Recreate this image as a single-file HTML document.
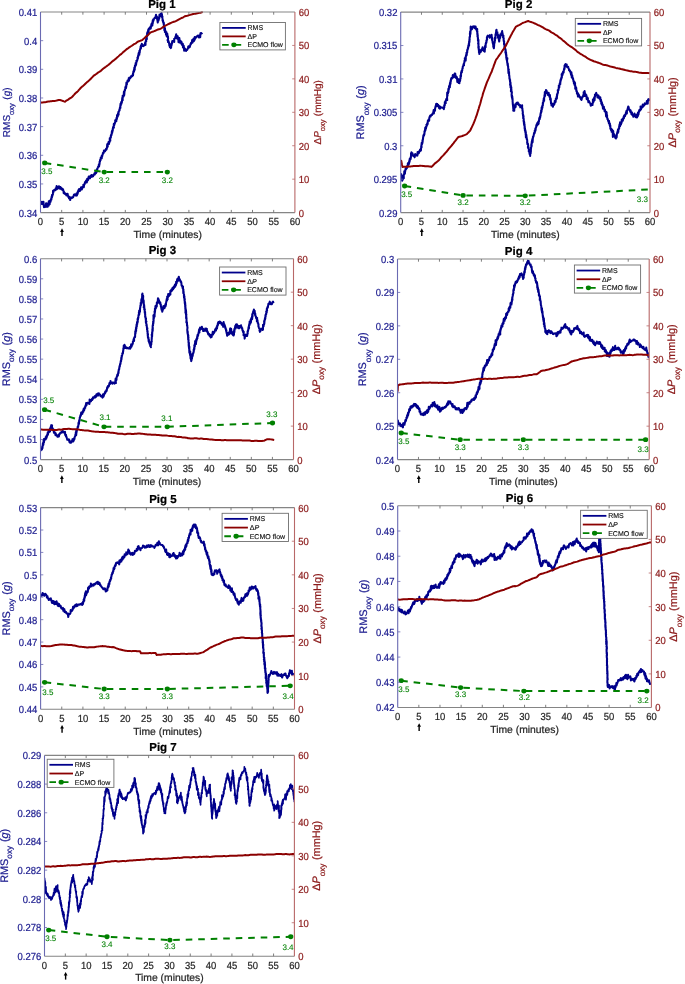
<!DOCTYPE html>
<html><head><meta charset="utf-8"><style>html,body{margin:0;padding:0;background:#fff;width:685px;height:984px;overflow:hidden}svg{display:block;font-family:"Liberation Sans",sans-serif;will-change:transform;text-rendering:geometricPrecision}</style></head><body>
<svg width="685" height="984" viewBox="0 0 685 984" font-family="'Liberation Sans', sans-serif">
<rect width="685" height="984" fill="#fff"/>
<clipPath id="c1"><rect x="40.50" y="11.00" width="254.40" height="202.60"/></clipPath>
<g clip-path="url(#c1)">
<path d="M40.54,202.40 L40.95,203.68 L41.41,203.81 L41.89,201.82 L42.06,204.07 L42.71,203.68 L42.97,203.05 L43.16,204.32 L43.47,201.81 L43.95,207.23 L44.09,205.97 L44.27,205.57 L44.78,207.04 L45.13,206.60 L45.32,206.65 L45.60,206.21 L46.12,203.23 L46.35,206.74 L46.93,206.74 L47.24,203.46 L47.57,206.78 L48.08,205.40 L48.56,203.31 L48.88,205.42 L48.79,201.39 L49.39,202.40 L49.50,202.63 L49.70,204.11 L49.76,200.71 L50.22,201.01 L50.54,201.74 L50.77,200.08 L50.86,199.36 L51.29,199.22 L51.23,198.47 L51.37,199.55 L51.50,198.04 L51.58,196.82 L51.92,197.36 L51.81,196.60 L52.08,194.89 L52.19,196.67 L52.32,194.75 L52.62,195.19 L52.60,194.83 L52.92,194.25 L52.96,194.09 L53.02,190.73 L53.26,192.76 L53.40,191.68 L53.42,190.84 L53.69,190.19 L53.97,190.19 L54.57,189.75 L54.93,190.38 L55.21,190.30 L55.70,188.32 L56.16,189.58 L56.61,186.04 L56.93,189.19 L57.45,187.83 L58.01,188.49 L58.14,187.66 L58.85,186.21 L59.25,186.68 L59.89,188.70 L60.47,187.05 L60.71,187.40 L61.13,187.95 L61.56,189.39 L61.76,188.26 L62.20,189.22 L62.36,189.83 L62.73,189.05 L63.02,189.44 L63.43,190.70 L63.70,193.24 L63.75,191.64 L64.24,192.38 L64.36,193.37 L65.05,194.04 L65.29,193.45 L65.84,194.04 L66.03,193.89 L66.42,195.47 L66.91,194.77 L67.47,193.75 L67.59,193.74 L68.23,196.88 L68.35,196.58 L68.70,196.43 L68.94,197.87 L69.07,198.37 L69.61,197.61 L69.91,197.28 L70.22,200.02 L70.37,198.90 L70.53,197.80 L71.10,197.50 L71.68,197.66 L72.00,197.98 L72.23,197.59 L72.69,196.96 L73.15,197.19 L73.52,196.02 L73.85,194.94 L74.34,194.27 L74.91,194.81 L75.35,195.45 L75.82,195.53 L76.38,193.48 L76.85,195.60 L77.49,192.54 L77.59,194.00 L77.76,192.96 L77.82,191.28 L78.10,191.86 L78.71,189.61 L78.90,190.94 L78.93,191.13 L79.13,188.96 L79.30,189.61 L79.82,190.21 L80.09,190.83 L80.62,188.58 L81.11,187.32 L81.23,187.19 L81.81,189.46 L82.42,187.59 L82.78,187.37 L83.39,185.72 L83.34,184.81 L83.52,186.22 L83.84,187.25 L84.02,184.77 L84.25,184.75 L84.54,184.13 L84.33,184.24 L84.64,184.33 L84.90,183.02 L85.05,181.95 L85.64,182.52 L85.80,181.35 L86.35,180.32 L86.85,182.39 L87.20,178.67 L87.61,179.23 L87.77,180.46 L88.17,179.76 L88.74,176.55 L88.84,178.14 L88.99,177.62 L89.56,177.77 L90.04,178.22 L90.12,176.54 L90.56,175.82 L90.99,176.96 L91.56,175.03 L91.92,176.78 L92.66,175.20 L93.10,176.19 L93.35,175.00 L93.80,175.00 L94.23,174.19 L94.46,173.25 L94.81,174.53 L95.31,172.22 L95.51,172.90 L96.06,173.15 L96.19,171.74 L96.35,170.81 L96.61,169.81 L96.94,171.75 L97.12,169.15 L97.41,168.31 L97.49,168.86 L97.48,168.40 L97.72,167.80 L98.06,166.80 L98.26,166.83 L98.61,166.70 L98.82,165.86 L98.68,165.43 L98.89,164.41 L99.09,166.48 L99.33,164.61 L99.60,163.88 L99.59,163.32 L99.61,162.03 L99.71,161.41 L100.03,161.66 L99.97,161.15 L100.17,159.77 L100.22,159.94 L100.44,159.97 L100.60,158.86 L100.59,160.15 L100.77,157.55 L101.16,157.81 L101.43,156.95 L101.44,158.17 L101.75,158.30 L101.72,155.67 L102.14,156.50 L102.45,154.79 L102.65,154.82 L102.79,154.19 L102.91,152.89 L103.33,152.78 L103.61,153.05 L103.61,153.01 L103.92,150.58 L104.07,151.53 L104.77,151.42 L104.97,150.81 L105.20,151.12 L105.47,149.81 L105.69,149.69 L106.13,148.65 L106.14,149.90 L106.65,149.11 L106.97,147.81 L107.20,144.56 L107.37,143.96 L107.75,146.61 L107.66,144.21 L108.04,143.85 L108.20,143.88 L108.49,142.12 L108.58,142.71 L109.02,143.99 L108.93,143.65 L109.42,142.40 L109.55,141.81 L109.68,140.65 L109.73,141.28 L109.77,138.36 L110.15,138.26 L110.32,140.80 L110.12,138.42 L110.44,137.88 L110.64,137.93 L110.62,136.99 L110.87,137.50 L110.92,135.14 L110.86,136.14 L111.11,135.21 L111.32,135.36 L111.58,134.75 L111.68,133.87 L111.63,132.95 L111.82,133.37 L111.89,131.05 L112.25,131.14 L112.20,132.92 L112.34,131.10 L112.61,129.62 L112.69,130.83 L112.84,129.66 L112.75,128.90 L113.04,127.40 L113.01,127.31 L113.36,127.64 L113.95,127.64 L113.69,127.75 L113.81,124.03 L114.06,123.54 L114.14,125.35 L114.47,124.19 L114.63,123.23 L114.71,124.04 L115.06,122.34 L115.24,121.96 L115.18,120.27 L115.46,121.74 L115.58,120.93 L115.93,121.27 L116.31,120.58 L116.33,121.32 L116.39,118.67 L116.59,117.85 L116.66,117.57 L116.92,119.03 L117.06,115.01 L117.32,115.09 L117.47,117.00 L117.70,116.08 L117.84,116.31 L117.97,113.37 L118.16,114.43 L118.35,114.27 L118.48,113.91 L118.61,114.61 L118.45,111.84 L118.86,111.81 L118.95,111.15 L119.13,110.73 L119.33,110.19 L119.40,109.53 L119.53,110.68 L119.78,108.80 L119.72,109.31 L119.84,107.89 L120.02,108.56 L120.38,105.01 L120.41,107.90 L120.32,106.58 L120.51,103.90 L120.76,105.54 L120.80,103.92 L121.28,103.64 L121.06,103.42 L121.19,101.96 L121.46,103.67 L121.49,102.76 L121.62,102.35 L121.83,102.51 L121.95,101.49 L122.28,97.88 L122.44,99.42 L122.22,100.16 L122.53,98.69 L122.69,100.20 L122.64,95.83 L122.87,96.35 L123.11,95.76 L123.58,96.34 L123.35,96.31 L123.58,96.26 L123.45,96.51 L123.80,94.64 L123.81,93.55 L123.90,91.84 L124.24,94.44 L124.23,95.06 L124.55,90.62 L124.72,91.22 L124.61,90.50 L125.01,90.41 L124.81,89.87 L124.98,89.70 L125.22,88.89 L125.53,88.78 L125.30,87.43 L125.79,86.73 L125.68,86.51 L126.01,86.36 L125.99,88.09 L126.30,86.43 L126.21,86.07 L126.41,82.55 L126.48,83.99 L126.60,83.30 L126.89,84.41 L126.84,82.40 L127.07,82.83 L127.31,81.81 L127.37,82.08 L127.54,80.61 L127.74,81.04 L128.07,80.32 L128.46,81.34 L128.82,77.95 L129.03,80.48 L129.47,77.65 L129.69,78.69 L130.01,78.46 L130.35,77.50 L130.55,77.58 L130.82,77.62 L131.15,76.16 L131.56,76.42 L132.11,76.24 L132.29,75.83 L132.45,75.31 L132.98,73.87 L132.96,73.62 L133.02,75.50 L133.38,71.41 L133.57,71.50 L133.77,71.21 L133.65,72.13 L133.86,70.02 L133.92,71.62 L134.35,70.30 L134.23,67.88 L134.49,67.79 L134.75,69.77 L134.71,67.02 L135.02,66.72 L134.90,65.72 L135.14,66.80 L135.23,66.60 L135.39,64.90 L135.65,63.72 L135.67,63.14 L135.98,63.90 L135.99,64.30 L136.05,65.01 L136.30,62.53 L136.47,61.41 L136.39,60.74 L136.58,62.04 L136.77,60.90 L136.95,61.06 L137.14,60.86 L137.40,58.91 L137.45,57.65 L137.58,57.83 L137.81,58.86 L138.08,56.76 L137.99,56.06 L138.23,56.82 L138.27,56.44 L138.45,54.41 L138.65,53.11 L138.86,53.33 L139.00,52.47 L139.31,54.67 L139.30,53.29 L139.41,50.76 L139.73,52.72 L139.64,51.80 L139.77,51.59 L139.91,50.30 L140.23,49.06 L140.47,48.10 L140.55,48.93 L140.62,46.57 L140.89,47.81 L140.93,48.54 L141.07,45.16 L141.14,45.89 L141.46,46.26 L141.66,45.55 L141.80,43.86 L142.08,44.24 L142.52,44.51 L143.11,46.21 L143.73,45.81 L144.16,45.23 L144.79,44.73 L145.17,42.61 L145.48,44.91 L145.54,44.88 L145.56,42.43 L145.61,42.09 L145.77,40.92 L145.91,41.07 L146.25,41.36 L146.14,40.24 L146.06,39.16 L146.53,38.42 L146.82,37.62 L146.82,39.19 L146.64,36.81 L146.98,35.65 L147.20,33.84 L147.11,32.92 L147.16,36.14 L147.38,34.42 L147.63,32.20 L147.68,31.67 L147.87,33.73 L147.94,32.01 L148.00,31.26 L148.22,29.98 L148.38,32.46 L148.66,31.01 L148.37,29.40 L148.64,30.86 L148.88,28.45 L149.31,28.42 L149.71,27.85 L149.91,28.42 L150.00,28.72 L150.47,26.44 L150.73,28.71 L151.01,26.49 L151.07,26.90 L151.40,24.05 L151.58,26.00 L151.94,23.28 L152.09,23.96 L152.35,25.36 L152.49,23.21 L152.45,22.59 L152.77,20.34 L152.84,21.93 L152.89,23.45 L152.72,22.16 L153.29,21.04 L153.32,19.25 L153.43,20.74 L153.90,18.99 L153.91,19.19 L154.58,18.17 L154.66,17.67 L155.11,17.98 L155.53,17.10 L156.01,14.74 L156.28,15.95 L156.51,17.86 L156.77,17.64 L156.60,16.40 L156.81,17.28 L157.15,17.22 L157.06,18.02 L156.93,18.80 L157.24,19.00 L157.76,22.53 L157.85,19.92 L157.78,22.33 L157.85,21.32 L158.15,20.20 L158.17,20.48 L158.51,20.37 L158.46,20.62 L158.75,19.59 L158.81,17.46 L158.87,17.46 L159.04,18.12 L159.25,18.50 L159.30,16.58 L159.51,14.65 L160.06,14.69 L159.78,15.10 L160.28,16.32 L160.70,14.69 L160.87,13.71 L161.63,13.13 L161.61,14.65 L161.68,13.81 L162.00,14.59 L162.17,17.15 L161.93,15.82 L162.15,17.66 L162.21,16.63 L162.30,17.29 L162.45,16.67 L162.32,17.16 L162.70,20.79 L162.52,20.29 L162.72,20.17 L162.77,20.82 L163.05,20.41 L163.02,21.72 L163.38,22.01 L163.24,22.75 L163.33,22.95 L163.75,22.44 L163.76,24.93 L163.85,23.16 L163.94,26.24 L163.90,25.76 L164.04,26.68 L164.26,26.92 L164.28,27.85 L164.35,30.20 L164.79,29.32 L164.48,30.08 L164.94,28.04 L165.06,29.52 L164.86,31.97 L165.23,31.05 L165.59,31.05 L165.56,31.28 L165.84,32.61 L166.01,34.76 L166.29,33.59 L166.42,32.66 L166.50,32.31 L166.74,33.96 L166.75,36.41 L167.00,35.29 L167.39,34.01 L167.28,36.64 L167.59,35.86 L167.90,36.17 L168.11,38.63 L167.54,40.04 L168.12,40.25 L167.92,42.04 L168.42,40.90 L168.34,41.68 L168.73,41.82 L168.68,42.17 L169.02,42.88 L168.69,41.93 L169.08,43.02 L169.14,44.25 L169.32,43.97 L169.34,45.83 L169.74,44.43 L169.85,45.58 L169.89,47.12 L170.21,45.89 L170.21,47.27 L170.40,47.29 L170.64,46.19 L170.55,47.50 L170.85,48.18 L170.86,43.90 L171.20,47.28 L171.34,44.90 L171.63,45.21 L171.83,42.88 L171.88,43.09 L172.12,41.70 L172.09,43.77 L172.33,40.96 L172.67,41.74 L173.04,40.96 L173.30,40.80 L173.41,40.65 L173.81,40.59 L174.25,42.00 L174.18,38.85 L174.52,39.14 L175.12,37.89 L175.29,38.18 L175.30,37.13 L175.63,36.87 L176.19,34.19 L176.47,36.28 L176.71,35.93 L177.18,38.65 L177.71,36.28 L177.80,37.11 L178.33,38.38 L178.53,42.28 L178.78,39.43 L179.29,38.02 L179.66,40.20 L179.79,42.00 L180.14,42.78 L180.53,40.92 L180.47,41.28 L180.97,42.06 L181.42,41.64 L181.44,42.94 L181.50,43.81 L181.93,44.77 L182.25,44.01 L182.61,43.78 L182.80,43.80 L182.96,47.40 L183.24,45.24 L183.46,47.09 L183.71,45.67 L184.01,48.67 L184.14,50.62 L184.42,47.98 L184.65,50.40 L184.93,50.20 L185.29,49.04 L186.03,50.97 L186.50,50.02 L187.17,50.03 L187.43,49.05 L187.79,48.76 L188.06,48.17 L188.21,46.50 L188.40,47.07 L189.16,47.53 L189.10,45.95 L189.11,46.63 L189.59,46.86 L189.78,46.98 L190.30,45.18 L190.34,44.61 L190.84,43.29 L191.09,44.05 L191.10,42.84 L191.59,42.46 L191.96,41.77 L192.12,40.04 L192.44,42.67 L192.66,42.03 L192.81,41.27 L193.22,39.62 L193.54,38.66 L193.82,41.27 L194.22,39.46 L194.48,40.18 L194.89,39.22 L194.75,36.97 L195.26,37.88 L195.49,38.16 L195.76,37.74 L196.30,36.93 L196.77,36.20 L197.13,36.18 L198.00,35.44 L198.52,37.09 L199.00,37.56 L199.19,37.44 L200.07,34.77 L200.22,37.12 L200.47,33.12 L201.06,32.97 L201.53,33.45 L201.80,33.36 L202.34,32.74" fill="none" stroke="#00008b" stroke-width="2.05" stroke-linejoin="round"/>
<path d="M40.60,102.78 L41.69,102.61 L42.78,102.46 L43.87,102.35 L44.96,102.24 L46.04,102.01 L47.13,101.72 L48.22,101.52 L49.31,101.41 L50.40,101.30 L51.44,101.20 L52.49,101.09 L53.53,100.98 L54.58,100.89 L55.62,100.76 L56.67,100.55 L57.71,100.27 L58.76,100.03 L59.80,99.89 L60.84,100.25 L61.88,100.59 L62.92,101.00 L63.96,101.40 L65.00,101.67 L65.89,100.95 L66.79,100.40 L67.68,99.93 L68.57,99.31 L69.46,98.60 L70.36,98.04 L71.25,97.65 L72.00,97.05 L72.74,96.28 L73.49,95.45 L74.24,94.61 L74.98,93.74 L75.73,92.97 L76.47,92.42 L77.22,91.88 L77.97,91.10 L78.71,90.19 L79.46,89.32 L80.21,88.48 L80.95,87.67 L81.70,86.93 L82.48,86.31 L83.26,85.76 L84.04,85.10 L84.83,84.28 L85.61,83.46 L86.39,82.74 L87.17,82.08 L87.95,81.41 L88.73,80.76 L89.51,80.09 L90.29,79.33 L91.08,78.50 L91.86,77.67 L92.64,76.86 L93.42,76.07 L94.20,75.35 L95.03,74.81 L95.87,74.27 L96.70,73.66 L97.53,72.96 L98.37,72.34 L99.20,71.92 L100.03,71.47 L100.87,70.84 L101.70,70.09 L102.53,69.32 L103.37,68.58 L104.20,67.92 L105.03,67.32 L105.87,66.77 L106.70,66.19 L107.48,65.57 L108.26,64.99 L109.04,64.37 L109.83,63.67 L110.61,62.99 L111.39,62.32 L112.17,61.61 L112.95,60.92 L113.73,60.33 L114.51,59.75 L115.29,59.12 L116.08,58.44 L116.86,57.77 L117.64,57.09 L118.42,56.37 L119.20,55.60 L119.95,54.89 L120.71,54.34 L121.46,53.82 L122.22,53.11 L122.97,52.30 L123.73,51.65 L124.48,51.08 L125.24,50.41 L125.99,49.72 L126.75,49.12 L127.50,48.57 L128.37,48.05 L129.23,47.39 L130.10,46.77 L130.97,46.26 L131.83,45.74 L132.70,45.15 L133.57,44.52 L134.43,43.96 L135.30,43.52 L136.17,43.02 L137.03,42.32 L137.90,41.61 L138.95,41.23 L140.00,40.87 L141.05,40.50 L142.10,40.14 L142.85,39.50 L143.61,38.86 L144.36,38.19 L145.12,37.40 L145.87,36.63 L146.63,36.05 L147.38,35.57 L148.14,34.94 L148.89,34.12 L149.65,33.31 L150.40,32.60 L151.35,32.18 L152.29,31.82 L153.24,31.52 L154.18,31.18 L155.13,30.78 L156.07,30.35 L157.02,29.89 L157.96,29.48 L158.91,29.22 L159.85,29.00 L160.80,28.62 L161.74,27.99 L162.68,27.32 L163.61,26.70 L164.55,26.13 L165.49,25.62 L166.43,25.17 L167.36,24.72 L168.30,24.19 L169.23,23.73 L170.17,23.25 L171.10,22.82 L172.03,22.43 L172.97,22.06 L173.90,21.72 L174.83,21.47 L175.77,21.14 L176.70,20.66 L177.62,20.10 L178.54,19.58 L179.47,19.05 L180.39,18.59 L181.31,18.18 L182.23,17.77 L183.16,17.29 L184.08,16.75 L185.00,16.21 L186.04,15.95 L187.07,15.74 L188.11,15.48 L189.15,15.14 L190.19,14.85 L191.23,14.62 L192.26,14.33 L193.30,14.05 L194.34,13.87 L195.39,13.66 L196.43,13.43 L197.48,13.27 L198.52,13.10 L199.57,12.89 L200.61,12.67 L201.66,12.38 L202.70,12.07" fill="none" stroke="#8b0000" stroke-width="2.00" stroke-linejoin="round"/>
<path d="M44.70,162.90 L104.20,172.10 L167.30,172.10" fill="none" stroke="#008000" stroke-width="2.00" stroke-dasharray="6.6 5.9"/>
<ellipse cx="44.70" cy="162.90" rx="2.60" ry="2.39" fill="#008000"/>
<ellipse cx="104.20" cy="172.10" rx="2.60" ry="2.39" fill="#008000"/>
<ellipse cx="167.30" cy="172.10" rx="2.60" ry="2.39" fill="#008000"/>
</g>
<line x1="40.50" y1="12.00" x2="294.90" y2="12.00" stroke="#858585" stroke-width="1.10"/>
<line x1="40.50" y1="212.60" x2="294.90" y2="212.60" stroke="#858585" stroke-width="1.10"/>
<line x1="40.50" y1="12.00" x2="40.50" y2="212.60" stroke="#6a6ab2" stroke-width="1.10"/>
<line x1="294.90" y1="12.00" x2="294.90" y2="212.60" stroke="#b86868" stroke-width="1.10"/>
<text transform="translate(40.50,225.30) scale(0.930,1)" font-size="10.20" fill="#262626" text-anchor="middle" stroke="#262626" stroke-width="0.22">0</text>
<line x1="61.70" y1="212.60" x2="61.70" y2="209.90" stroke="#707070" stroke-width="0.9"/>
<line x1="61.70" y1="12.00" x2="61.70" y2="14.70" stroke="#707070" stroke-width="0.9"/>
<text transform="translate(61.70,225.30) scale(0.930,1)" font-size="10.20" fill="#262626" text-anchor="middle" stroke="#262626" stroke-width="0.22">5</text>
<line x1="82.90" y1="212.60" x2="82.90" y2="209.90" stroke="#707070" stroke-width="0.9"/>
<line x1="82.90" y1="12.00" x2="82.90" y2="14.70" stroke="#707070" stroke-width="0.9"/>
<text transform="translate(82.90,225.30) scale(0.930,1)" font-size="10.20" fill="#262626" text-anchor="middle" stroke="#262626" stroke-width="0.22">10</text>
<line x1="104.10" y1="212.60" x2="104.10" y2="209.90" stroke="#707070" stroke-width="0.9"/>
<line x1="104.10" y1="12.00" x2="104.10" y2="14.70" stroke="#707070" stroke-width="0.9"/>
<text transform="translate(104.10,225.30) scale(0.930,1)" font-size="10.20" fill="#262626" text-anchor="middle" stroke="#262626" stroke-width="0.22">15</text>
<line x1="125.30" y1="212.60" x2="125.30" y2="209.90" stroke="#707070" stroke-width="0.9"/>
<line x1="125.30" y1="12.00" x2="125.30" y2="14.70" stroke="#707070" stroke-width="0.9"/>
<text transform="translate(125.30,225.30) scale(0.930,1)" font-size="10.20" fill="#262626" text-anchor="middle" stroke="#262626" stroke-width="0.22">20</text>
<line x1="146.50" y1="212.60" x2="146.50" y2="209.90" stroke="#707070" stroke-width="0.9"/>
<line x1="146.50" y1="12.00" x2="146.50" y2="14.70" stroke="#707070" stroke-width="0.9"/>
<text transform="translate(146.50,225.30) scale(0.930,1)" font-size="10.20" fill="#262626" text-anchor="middle" stroke="#262626" stroke-width="0.22">25</text>
<line x1="167.70" y1="212.60" x2="167.70" y2="209.90" stroke="#707070" stroke-width="0.9"/>
<line x1="167.70" y1="12.00" x2="167.70" y2="14.70" stroke="#707070" stroke-width="0.9"/>
<text transform="translate(167.70,225.30) scale(0.930,1)" font-size="10.20" fill="#262626" text-anchor="middle" stroke="#262626" stroke-width="0.22">30</text>
<line x1="188.90" y1="212.60" x2="188.90" y2="209.90" stroke="#707070" stroke-width="0.9"/>
<line x1="188.90" y1="12.00" x2="188.90" y2="14.70" stroke="#707070" stroke-width="0.9"/>
<text transform="translate(188.90,225.30) scale(0.930,1)" font-size="10.20" fill="#262626" text-anchor="middle" stroke="#262626" stroke-width="0.22">35</text>
<line x1="210.10" y1="212.60" x2="210.10" y2="209.90" stroke="#707070" stroke-width="0.9"/>
<line x1="210.10" y1="12.00" x2="210.10" y2="14.70" stroke="#707070" stroke-width="0.9"/>
<text transform="translate(210.10,225.30) scale(0.930,1)" font-size="10.20" fill="#262626" text-anchor="middle" stroke="#262626" stroke-width="0.22">40</text>
<line x1="231.30" y1="212.60" x2="231.30" y2="209.90" stroke="#707070" stroke-width="0.9"/>
<line x1="231.30" y1="12.00" x2="231.30" y2="14.70" stroke="#707070" stroke-width="0.9"/>
<text transform="translate(231.30,225.30) scale(0.930,1)" font-size="10.20" fill="#262626" text-anchor="middle" stroke="#262626" stroke-width="0.22">45</text>
<line x1="252.50" y1="212.60" x2="252.50" y2="209.90" stroke="#707070" stroke-width="0.9"/>
<line x1="252.50" y1="12.00" x2="252.50" y2="14.70" stroke="#707070" stroke-width="0.9"/>
<text transform="translate(252.50,225.30) scale(0.930,1)" font-size="10.20" fill="#262626" text-anchor="middle" stroke="#262626" stroke-width="0.22">50</text>
<line x1="273.70" y1="212.60" x2="273.70" y2="209.90" stroke="#707070" stroke-width="0.9"/>
<line x1="273.70" y1="12.00" x2="273.70" y2="14.70" stroke="#707070" stroke-width="0.9"/>
<text transform="translate(273.70,225.30) scale(0.930,1)" font-size="10.20" fill="#262626" text-anchor="middle" stroke="#262626" stroke-width="0.22">55</text>
<text transform="translate(294.90,225.30) scale(0.930,1)" font-size="10.20" fill="#262626" text-anchor="middle" stroke="#262626" stroke-width="0.22">60</text>
<text transform="translate(37.20,216.50) scale(0.930,1)" font-size="10.20" fill="#1c1c8f" text-anchor="end" stroke="#1c1c8f" stroke-width="0.22">0.34</text>
<line x1="40.50" y1="183.94" x2="43.20" y2="183.94" stroke="#6a6ab2" stroke-width="0.8"/>
<text transform="translate(37.20,187.84) scale(0.930,1)" font-size="10.20" fill="#1c1c8f" text-anchor="end" stroke="#1c1c8f" stroke-width="0.22">0.35</text>
<line x1="40.50" y1="155.29" x2="43.20" y2="155.29" stroke="#6a6ab2" stroke-width="0.8"/>
<text transform="translate(37.20,159.19) scale(0.930,1)" font-size="10.20" fill="#1c1c8f" text-anchor="end" stroke="#1c1c8f" stroke-width="0.22">0.36</text>
<line x1="40.50" y1="126.63" x2="43.20" y2="126.63" stroke="#6a6ab2" stroke-width="0.8"/>
<text transform="translate(37.20,130.53) scale(0.930,1)" font-size="10.20" fill="#1c1c8f" text-anchor="end" stroke="#1c1c8f" stroke-width="0.22">0.37</text>
<line x1="40.50" y1="97.97" x2="43.20" y2="97.97" stroke="#6a6ab2" stroke-width="0.8"/>
<text transform="translate(37.20,101.87) scale(0.930,1)" font-size="10.20" fill="#1c1c8f" text-anchor="end" stroke="#1c1c8f" stroke-width="0.22">0.38</text>
<line x1="40.50" y1="69.31" x2="43.20" y2="69.31" stroke="#6a6ab2" stroke-width="0.8"/>
<text transform="translate(37.20,73.21) scale(0.930,1)" font-size="10.20" fill="#1c1c8f" text-anchor="end" stroke="#1c1c8f" stroke-width="0.22">0.39</text>
<line x1="40.50" y1="40.66" x2="43.20" y2="40.66" stroke="#6a6ab2" stroke-width="0.8"/>
<text transform="translate(37.20,44.56) scale(0.930,1)" font-size="10.20" fill="#1c1c8f" text-anchor="end" stroke="#1c1c8f" stroke-width="0.22">0.4</text>
<text transform="translate(37.20,15.90) scale(0.930,1)" font-size="10.20" fill="#1c1c8f" text-anchor="end" stroke="#1c1c8f" stroke-width="0.22">0.41</text>
<text transform="translate(298.70,216.50) scale(0.930,1)" font-size="10.20" fill="#8b1a1a" text-anchor="start" stroke="#8b1a1a" stroke-width="0.22">0</text>
<line x1="294.90" y1="179.17" x2="292.20" y2="179.17" stroke="#b86868" stroke-width="0.8"/>
<text transform="translate(298.70,183.07) scale(0.930,1)" font-size="10.20" fill="#8b1a1a" text-anchor="start" stroke="#8b1a1a" stroke-width="0.22">10</text>
<line x1="294.90" y1="145.73" x2="292.20" y2="145.73" stroke="#b86868" stroke-width="0.8"/>
<text transform="translate(298.70,149.63) scale(0.930,1)" font-size="10.20" fill="#8b1a1a" text-anchor="start" stroke="#8b1a1a" stroke-width="0.22">20</text>
<line x1="294.90" y1="112.30" x2="292.20" y2="112.30" stroke="#b86868" stroke-width="0.8"/>
<text transform="translate(298.70,116.20) scale(0.930,1)" font-size="10.20" fill="#8b1a1a" text-anchor="start" stroke="#8b1a1a" stroke-width="0.22">30</text>
<line x1="294.90" y1="78.87" x2="292.20" y2="78.87" stroke="#b86868" stroke-width="0.8"/>
<text transform="translate(298.70,82.77) scale(0.930,1)" font-size="10.20" fill="#8b1a1a" text-anchor="start" stroke="#8b1a1a" stroke-width="0.22">40</text>
<line x1="294.90" y1="45.43" x2="292.20" y2="45.43" stroke="#b86868" stroke-width="0.8"/>
<text transform="translate(298.70,49.33) scale(0.930,1)" font-size="10.20" fill="#8b1a1a" text-anchor="start" stroke="#8b1a1a" stroke-width="0.22">50</text>
<text transform="translate(298.70,15.90) scale(0.930,1)" font-size="10.20" fill="#8b1a1a" text-anchor="start" stroke="#8b1a1a" stroke-width="0.22">60</text>
<text x="167.70" y="237.80" font-size="10.35" fill="#262626" text-anchor="middle" font-weight="normal" stroke="#262626" stroke-width="0.22">Time (minutes)</text>
<text x="161.90" y="7.70" font-size="11.50" fill="#000" text-anchor="middle" font-weight="bold" stroke="#000" stroke-width="0.22">Pig 1</text>
<text transform="translate(10.20,112.30) rotate(-90)" font-size="10.00" fill="#1c1c8f" stroke="#1c1c8f" stroke-width="0.22" text-anchor="middle">RMS<tspan font-size="7.50" dy="4.00">oxy</tspan><tspan dy="-4.00" dx="0.8"> (</tspan><tspan font-style="italic">g</tspan>)</text>
<text transform="translate(320.90,112.30) rotate(-90)" font-size="10.00" fill="#8b1a1a" stroke="#8b1a1a" stroke-width="0.22" text-anchor="middle">&#916;<tspan font-style="italic">P</tspan><tspan font-size="7.50" dy="4.00">oxy</tspan><tspan dy="-4.00" dx="0.5"> (mmHg)</tspan></text>
<path d="M62.00,228.30 L60.10,231.90 L63.90,231.90 Z" fill="#000"/>
<line x1="62.00" y1="231.30" x2="62.00" y2="236.00" stroke="#000" stroke-width="1.4"/>
<text x="46.90" y="174.00" font-size="8.00" fill="#008000" text-anchor="middle" font-weight="normal" stroke="#008000" stroke-width="0.10">3.5</text>
<text x="104.20" y="182.70" font-size="8.00" fill="#008000" text-anchor="middle" font-weight="normal" stroke="#008000" stroke-width="0.10">3.2</text>
<text x="167.40" y="182.70" font-size="8.00" fill="#008000" text-anchor="middle" font-weight="normal" stroke="#008000" stroke-width="0.10">3.2</text>
<rect x="219.90" y="22.50" width="65.50" height="27.40" fill="#fff" stroke="#6e6e6e" stroke-width="0.9"/>
<line x1="222.10" y1="27.90" x2="245.70" y2="27.90" stroke="#00008b" stroke-width="1.8"/>
<line x1="222.10" y1="36.39" x2="245.70" y2="36.39" stroke="#8b0000" stroke-width="1.8"/>
<line x1="222.10" y1="44.80" x2="245.70" y2="44.80" stroke="#008000" stroke-width="1.8" stroke-dasharray="6.6 5.9"/>
<ellipse cx="233.90" cy="44.80" rx="2.60" ry="2.39" fill="#008000"/>
<text x="247.50" y="30.40" font-size="7.00" fill="#111" text-anchor="start" font-weight="normal" stroke="#111" stroke-width="0.14">RMS</text>
<text x="247.50" y="38.89" font-size="7.00" fill="#111" text-anchor="start" font-weight="normal" stroke="#111" stroke-width="0.14">&#916;P</text>
<text x="247.50" y="47.30" font-size="7.00" fill="#111" text-anchor="start" font-weight="normal" stroke="#111" stroke-width="0.14">ECMO flow</text>
<clipPath id="c2"><rect x="400.70" y="11.10" width="249.30" height="202.50"/></clipPath>
<g clip-path="url(#c2)">
<path d="M401.07,173.29 L401.13,174.88 L401.23,176.34 L401.43,175.51 L401.46,176.51 L401.83,177.60 L401.75,177.49 L402.02,179.57 L401.76,179.04 L402.13,179.43 L402.16,180.72 L402.08,178.76 L402.33,180.26 L402.76,179.65 L402.68,178.43 L403.01,178.95 L403.11,178.06 L403.17,178.56 L403.23,177.69 L403.26,175.36 L403.61,176.22 L403.81,178.28 L403.74,175.79 L403.96,174.21 L404.18,174.44 L404.29,171.32 L404.51,174.18 L404.55,173.73 L404.94,173.43 L404.97,172.53 L405.22,171.09 L405.10,171.61 L405.58,168.64 L405.60,169.82 L405.89,168.19 L406.02,167.99 L406.06,168.33 L406.22,169.05 L406.39,167.30 L406.88,168.14 L406.91,166.29 L407.21,165.88 L407.59,165.77 L407.78,166.61 L407.84,163.34 L408.23,163.99 L408.58,164.59 L408.71,163.52 L409.02,161.82 L409.02,163.93 L409.29,160.79 L409.57,161.90 L409.52,161.14 L409.67,159.07 L409.76,161.01 L409.80,158.60 L410.16,158.22 L410.22,159.28 L410.45,158.79 L410.49,158.48 L410.57,159.07 L410.84,156.49 L410.87,158.01 L411.10,154.00 L411.04,155.25 L411.02,153.34 L411.44,153.99 L411.47,152.35 L412.03,155.30 L412.44,153.15 L412.66,154.23 L413.19,156.09 L413.77,156.06 L414.08,155.16 L414.61,157.37 L415.16,154.09 L415.39,155.01 L415.90,155.50 L416.26,155.05 L416.89,154.51 L417.37,155.64 L417.60,151.97 L418.08,152.08 L418.06,153.47 L418.37,153.42 L419.11,152.72 L419.27,151.67 L419.38,150.96 L420.07,150.38 L420.04,149.52 L420.51,150.87 L421.00,150.31 L420.86,149.61 L421.00,150.08 L421.01,148.02 L421.37,147.40 L421.15,146.16 L421.22,146.56 L421.61,147.11 L421.56,147.36 L421.51,144.66 L421.76,142.58 L421.95,143.71 L422.08,144.24 L422.16,143.27 L422.03,143.62 L422.36,143.33 L422.69,141.12 L422.52,141.01 L422.48,140.37 L422.81,140.06 L422.57,140.59 L422.86,139.19 L423.05,139.21 L422.96,138.13 L423.09,138.14 L423.35,135.63 L423.38,135.82 L423.76,135.71 L423.76,134.48 L424.20,134.54 L424.29,134.16 L423.93,135.80 L424.14,134.00 L424.35,134.27 L424.49,133.12 L424.46,131.33 L424.77,130.87 L424.93,131.13 L424.88,131.54 L425.09,129.45 L425.31,127.46 L425.38,130.36 L425.62,127.84 L425.65,128.96 L425.75,128.08 L426.03,128.52 L425.93,126.81 L425.83,127.68 L426.48,126.62 L426.64,125.37 L426.39,124.86 L426.99,125.19 L427.17,123.39 L427.47,124.57 L427.72,123.48 L427.82,120.88 L428.00,121.46 L428.10,120.49 L428.19,120.95 L428.56,119.58 L428.70,119.65 L428.86,119.55 L429.09,120.42 L429.17,120.81 L429.32,117.83 L429.68,116.74 L430.20,115.54 L430.61,116.52 L430.72,115.82 L431.17,115.39 L431.45,114.76 L431.74,115.10 L432.00,114.98 L432.57,114.03 L432.53,113.52 L433.04,113.48 L433.32,111.90 L433.45,111.55 L433.69,109.98 L433.90,113.43 L434.17,110.71 L434.22,110.13 L434.26,111.21 L434.61,109.64 L434.79,111.10 L435.10,109.96 L434.99,109.06 L435.16,108.30 L435.50,106.64 L435.59,106.35 L436.02,105.06 L436.12,104.22 L436.31,103.68 L436.24,103.74 L436.93,106.29 L437.34,104.08 L437.92,105.28 L438.18,104.93 L438.75,106.49 L439.14,108.20 L439.65,106.19 L439.91,108.68 L440.49,106.98 L441.07,107.38 L441.68,107.63 L442.10,107.47 L442.84,107.65 L443.18,107.91 L443.83,109.07 L444.05,107.15 L443.98,107.77 L444.35,107.19 L444.14,105.91 L444.58,104.48 L444.69,105.40 L444.78,105.41 L444.82,101.97 L445.15,103.18 L445.31,103.52 L445.75,103.21 L445.66,102.32 L445.58,100.82 L445.95,100.39 L445.90,100.15 L446.02,100.69 L446.30,98.95 L446.60,99.94 L446.50,98.73 L446.85,98.75 L447.19,100.12 L447.05,97.19 L447.27,95.78 L447.19,96.35 L447.14,94.61 L447.24,92.42 L447.53,95.82 L447.47,93.53 L447.56,93.26 L447.98,91.91 L448.06,93.20 L448.06,92.12 L448.24,90.53 L448.52,91.88 L448.28,88.98 L448.73,90.15 L448.96,88.69 L448.75,88.60 L448.85,87.93 L449.07,86.09 L449.15,86.88 L449.43,85.86 L449.56,86.73 L449.50,85.97 L449.87,87.29 L449.88,84.77 L449.76,84.32 L450.29,84.68 L449.97,83.01 L450.23,82.34 L450.43,82.88 L450.61,83.27 L450.49,81.12 L450.81,81.33 L450.95,80.27 L450.79,80.68 L451.04,79.08 L451.36,78.14 L451.71,78.86 L452.05,78.04 L452.26,77.95 L452.53,76.69 L452.81,75.11 L453.12,76.80 L453.64,75.34 L453.87,75.83 L454.02,77.35 L454.33,75.44 L454.67,73.51 L454.91,73.88 L455.24,73.62 L455.50,76.48 L455.88,77.13 L456.13,78.15 L456.14,76.35 L456.31,77.78 L456.59,76.71 L456.98,78.47 L457.01,77.83 L457.30,81.95 L457.60,81.54 L457.84,78.71 L457.98,79.82 L458.36,80.51 L458.66,82.88 L458.83,81.23 L459.15,80.85 L459.38,82.25 L459.50,83.23 L459.40,81.30 L459.85,79.17 L459.72,81.04 L459.96,81.13 L460.15,80.38 L460.20,79.85 L460.37,78.09 L460.54,78.57 L460.59,77.97 L460.51,75.48 L460.60,75.87 L460.92,76.12 L460.84,74.99 L461.02,76.36 L461.07,72.63 L461.20,74.16 L461.19,71.98 L461.47,72.50 L461.62,71.29 L461.73,71.73 L461.63,70.88 L461.94,72.18 L462.02,70.53 L462.17,70.52 L462.19,69.99 L462.25,70.41 L462.29,69.15 L462.51,68.13 L462.74,68.37 L462.73,67.11 L462.93,65.96 L463.13,65.80 L463.11,66.19 L463.36,65.33 L463.55,64.52 L463.82,64.19 L463.68,64.52 L464.02,65.36 L463.81,63.48 L464.25,63.09 L464.43,61.80 L464.43,60.97 L464.83,60.03 L464.93,60.47 L464.81,58.16 L465.29,60.46 L465.28,59.48 L465.47,57.17 L465.64,60.60 L465.85,57.83 L465.71,57.45 L466.00,55.40 L466.23,55.80 L466.28,55.35 L466.22,54.84 L466.57,52.87 L466.50,52.62 L466.80,55.06 L466.72,53.75 L467.21,52.34 L467.29,50.56 L467.12,52.21 L467.22,49.96 L467.43,49.76 L467.52,49.20 L467.67,49.91 L467.91,48.46 L468.10,48.51 L467.93,47.49 L468.38,47.30 L468.30,46.03 L468.38,45.35 L468.50,45.33 L468.93,44.86 L468.82,43.44 L468.86,45.28 L469.08,45.82 L469.12,41.96 L469.07,42.94 L469.17,42.21 L469.11,41.21 L469.44,42.16 L469.24,41.48 L469.43,40.48 L469.58,41.13 L469.42,39.30 L469.67,39.43 L469.52,37.86 L469.69,37.70 L469.77,36.37 L469.96,36.80 L469.74,37.14 L469.86,36.93 L470.01,36.06 L470.08,32.40 L469.85,34.03 L470.10,35.07 L470.18,32.05 L470.11,31.63 L470.45,34.09 L470.50,32.10 L470.52,32.08 L470.58,30.78 L470.80,30.35 L470.63,28.58 L470.69,26.46 L470.81,29.45 L471.39,28.58 L471.95,29.27 L471.96,27.40 L472.62,26.62 L473.24,26.92 L473.53,26.37 L474.18,27.92 L474.46,26.70 L474.60,26.36 L475.20,28.54 L475.56,26.45 L476.02,29.06 L476.33,28.34 L476.70,30.54 L477.18,29.08 L477.25,30.63 L477.29,30.74 L477.23,31.13 L477.09,31.91 L477.37,31.37 L477.28,33.36 L477.40,34.42 L477.41,35.11 L477.57,33.86 L477.50,36.84 L477.61,36.36 L477.78,35.26 L477.51,36.27 L477.58,35.44 L477.83,37.21 L477.85,37.43 L477.86,36.98 L477.97,40.21 L478.02,38.60 L477.97,40.68 L478.20,41.13 L478.05,40.65 L478.47,39.98 L478.38,42.91 L478.11,43.44 L478.29,42.72 L478.36,44.62 L478.49,43.31 L478.52,44.51 L478.51,44.47 L478.47,45.17 L478.37,48.00 L478.46,45.78 L478.73,47.51 L478.57,46.43 L478.73,49.15 L478.73,47.53 L478.72,48.74 L478.75,49.72 L479.04,50.99 L478.89,52.17 L478.96,52.25 L479.11,50.41 L479.08,49.46 L479.29,53.95 L479.53,52.86 L480.14,51.90 L480.00,52.37 L480.40,50.42 L480.89,51.90 L481.15,49.67 L481.39,50.49 L481.80,49.08 L482.05,49.53 L482.32,48.73 L482.58,47.18 L483.15,50.27 L483.65,50.97 L483.71,49.37 L484.61,51.52 L484.47,49.99 L484.71,51.61 L484.75,50.63 L484.91,46.82 L484.90,48.52 L485.03,47.80 L484.98,49.11 L484.97,45.96 L485.37,46.75 L485.64,47.15 L485.66,44.54 L485.60,44.08 L485.80,44.31 L485.86,43.92 L485.98,42.53 L486.28,42.11 L486.17,42.16 L486.34,42.89 L486.64,40.69 L486.49,40.32 L486.40,40.26 L486.83,40.61 L486.94,39.38 L486.89,37.21 L487.14,39.47 L487.01,38.37 L487.32,36.38 L487.48,36.56 L487.33,36.29 L487.83,35.51 L488.50,35.97 L489.12,36.66 L489.74,37.60 L489.97,35.15 L490.86,36.40 L491.45,37.20 L491.62,34.72 L491.89,38.84 L491.98,37.32 L491.96,39.77 L492.15,40.17 L492.22,38.88 L492.26,38.63 L492.36,41.00 L492.41,40.74 L492.74,42.43 L492.92,42.67 L492.61,42.82 L492.86,42.69 L492.99,43.56 L493.09,43.42 L493.14,45.05 L493.37,44.08 L493.27,46.80 L493.81,46.99 L493.57,47.67 L493.67,46.55 L493.71,47.25 L493.90,48.27 L493.83,45.80 L493.97,47.33 L494.19,44.79 L494.06,45.19 L493.99,43.53 L494.28,43.81 L494.24,43.31 L494.58,42.49 L494.58,43.10 L494.56,42.07 L494.82,41.65 L494.87,41.85 L494.84,41.49 L494.98,40.33 L494.90,39.20 L494.77,37.94 L495.17,37.42 L495.08,38.56 L495.19,37.94 L495.54,37.02 L495.50,38.46 L495.39,35.79 L495.88,35.28 L495.43,34.56 L495.91,33.31 L495.81,33.91 L495.87,33.48 L495.88,33.80 L495.97,32.45 L496.16,32.43 L496.17,30.50 L496.27,30.93 L496.47,29.79 L496.55,29.97 L496.59,32.71 L496.92,32.32 L496.76,32.92 L497.40,32.30 L497.25,34.21 L497.35,33.74 L497.72,34.51 L497.89,34.39 L497.99,37.68 L498.38,37.83 L498.60,37.30 L498.74,39.00 L498.72,37.64 L498.75,39.00 L499.21,41.50 L499.44,39.63 L499.42,37.66 L499.55,35.61 L499.72,37.98 L499.98,36.49 L500.14,37.93 L500.45,34.20 L500.58,35.02 L500.67,35.73 L501.28,33.42 L501.39,34.39 L501.48,34.06 L501.82,32.52 L501.92,32.34 L502.15,31.12 L502.16,31.60 L502.18,33.55 L502.39,32.45 L502.31,34.83 L502.69,34.23 L502.75,33.93 L502.72,36.10 L502.98,35.73 L502.99,35.18 L503.03,37.39 L503.18,37.31 L503.46,35.85 L503.19,37.77 L503.60,38.00 L503.58,38.66 L503.70,40.42 L503.67,40.84 L503.68,40.60 L503.79,40.84 L503.89,41.27 L504.02,41.75 L504.12,41.36 L504.01,44.27 L504.13,44.04 L504.41,43.79 L504.27,43.54 L504.50,47.28 L504.44,46.97 L504.52,46.62 L504.77,44.52 L504.90,45.61 L505.01,47.49 L504.90,48.87 L505.19,48.96 L505.27,48.91 L505.10,48.59 L505.53,50.16 L505.62,49.69 L505.41,52.69 L505.53,52.74 L505.78,50.82 L505.75,51.38 L505.88,54.30 L506.10,52.60 L506.12,54.80 L505.96,54.95 L506.22,55.29 L506.26,57.13 L506.44,54.95 L506.21,57.29 L506.62,58.32 L506.31,57.52 L506.67,59.77 L506.76,57.61 L506.79,59.66 L506.96,59.98 L507.37,58.16 L507.02,60.96 L507.12,61.41 L507.23,63.00 L507.27,62.12 L507.50,64.15 L507.44,63.65 L507.57,65.29 L507.72,64.80 L507.91,64.04 L507.66,65.03 L507.91,65.28 L507.98,66.68 L507.97,66.32 L508.13,66.18 L508.16,67.99 L508.39,69.05 L508.21,68.37 L508.47,73.16 L508.38,70.05 L508.80,69.51 L508.57,70.21 L508.68,70.80 L508.68,71.10 L508.90,72.08 L509.13,72.14 L508.89,73.20 L509.01,73.68 L509.19,73.91 L509.01,73.54 L509.12,75.69 L509.27,75.41 L509.37,76.36 L509.39,76.33 L509.46,78.70 L509.56,78.83 L509.55,78.02 L509.93,80.57 L509.72,79.05 L509.98,79.89 L509.98,80.00 L510.15,79.97 L509.97,81.94 L510.14,81.80 L510.25,83.95 L510.06,84.96 L510.48,82.20 L510.53,85.07 L510.43,82.54 L510.56,83.55 L510.51,87.41 L510.83,86.68 L510.72,87.18 L510.78,85.15 L511.05,87.91 L511.04,89.01 L511.15,88.45 L510.90,91.11 L511.31,87.20 L511.26,90.16 L511.44,89.61 L511.39,90.62 L511.50,91.13 L511.60,91.05 L511.68,91.79 L511.67,92.97 L511.68,91.48 L511.88,92.50 L511.58,94.58 L511.84,97.23 L512.17,96.23 L511.84,95.12 L512.02,97.81 L512.33,97.28 L512.39,97.78 L512.32,96.62 L512.13,96.66 L512.47,99.79 L512.39,98.57 L512.51,98.38 L512.60,100.45 L512.60,99.41 L512.62,101.53 L512.63,101.99 L512.74,102.38 L512.75,103.57 L512.99,104.31 L512.91,104.64 L512.82,104.46 L512.91,105.26 L513.02,105.16 L513.19,106.44 L513.00,105.28 L513.13,106.81 L513.30,108.30 L513.20,107.79 L513.29,108.63 L513.43,109.83 L513.41,109.89 L513.24,110.76 L513.70,109.18 L513.84,108.87 L514.25,110.68 L514.31,107.84 L514.64,107.48 L514.80,107.98 L515.24,104.18 L515.29,106.32 L515.67,106.87 L515.68,105.92 L515.84,104.18 L516.20,103.42 L516.43,104.00 L516.69,102.84 L517.33,103.86 L517.74,102.52 L518.18,104.57 L518.50,103.57 L519.01,105.34 L519.63,105.60 L520.11,105.01 L520.28,107.30 L520.67,106.09 L521.23,107.25 L521.67,107.11 L522.12,105.28 L522.11,108.83 L522.31,108.62 L522.35,108.15 L522.45,109.30 L522.45,110.22 L522.58,110.40 L522.48,110.49 L522.68,111.11 L522.85,112.49 L522.66,113.60 L522.93,114.09 L522.87,114.85 L522.93,114.01 L523.09,115.98 L523.25,115.22 L523.14,115.73 L523.23,118.15 L523.18,118.21 L523.55,116.33 L523.37,117.06 L523.44,117.16 L523.52,118.55 L523.77,119.04 L523.54,120.92 L524.11,122.02 L523.76,122.11 L523.91,122.07 L524.06,121.18 L523.93,122.07 L523.97,123.87 L524.31,122.73 L524.08,125.02 L524.26,124.39 L524.40,124.12 L524.53,125.80 L524.54,124.23 L524.62,127.98 L524.66,128.71 L524.71,126.20 L524.84,128.22 L524.99,129.41 L524.88,129.53 L524.89,130.50 L525.09,129.57 L525.13,129.53 L525.26,130.24 L525.16,131.88 L525.53,132.33 L525.40,130.33 L525.57,131.34 L525.72,134.96 L525.82,132.04 L525.87,136.03 L525.86,137.28 L526.18,135.83 L526.27,135.63 L526.21,135.27 L526.23,136.02 L526.34,134.86 L526.59,137.86 L526.82,138.19 L526.57,138.76 L526.73,139.04 L526.91,139.38 L526.91,139.43 L527.16,139.81 L527.28,141.89 L527.10,142.27 L527.25,142.63 L527.39,144.08 L527.46,142.99 L527.70,143.91 L527.67,143.58 L527.89,143.62 L528.23,145.73 L527.86,147.22 L528.06,146.29 L528.13,147.85 L528.45,148.61 L528.49,147.56 L528.45,147.07 L528.73,148.51 L528.92,149.10 L528.77,151.49 L528.91,150.83 L529.15,151.30 L529.14,151.08 L529.32,151.20 L529.51,152.72 L529.54,153.83 L529.78,154.33 L530.22,155.01 L530.07,153.19 L530.23,152.35 L530.16,155.91 L530.22,153.31 L530.40,151.63 L530.30,152.84 L530.72,150.66 L530.66,153.59 L530.68,150.49 L530.82,151.85 L530.89,149.33 L530.83,152.04 L530.93,148.85 L531.17,147.45 L531.08,148.12 L531.33,146.30 L531.33,145.53 L531.27,145.75 L531.37,144.15 L531.55,146.41 L531.31,144.67 L531.67,145.42 L531.58,143.94 L531.83,141.43 L531.96,142.78 L532.32,142.77 L531.99,140.84 L532.36,141.77 L532.08,141.64 L532.17,140.20 L532.41,138.83 L532.46,138.80 L532.60,142.16 L532.86,138.28 L532.93,136.71 L532.95,138.08 L533.16,137.01 L533.39,136.69 L533.55,136.17 L533.97,133.76 L533.89,134.11 L534.00,133.96 L534.24,132.90 L534.21,133.73 L534.59,133.37 L534.59,132.51 L534.78,132.06 L534.69,130.85 L534.87,132.24 L535.23,130.21 L535.19,130.12 L535.40,128.40 L535.49,130.70 L535.70,129.18 L535.96,127.67 L536.10,127.68 L536.32,125.25 L536.43,125.68 L536.73,124.32 L537.11,125.58 L537.25,124.45 L537.23,123.08 L537.67,122.84 L537.61,123.41 L538.03,122.13 L538.22,121.46 L538.25,124.25 L538.63,123.56 L538.70,121.62 L538.94,121.56 L538.83,120.97 L539.09,119.98 L539.27,118.16 L539.72,117.27 L539.84,118.99 L539.82,118.81 L539.95,116.67 L540.34,116.93 L540.29,116.53 L540.35,114.78 L540.57,115.68 L540.54,113.91 L540.72,112.82 L540.66,113.16 L541.05,112.86 L540.87,112.55 L541.09,112.67 L541.10,110.42 L541.40,111.45 L541.48,111.78 L541.64,107.56 L541.57,110.27 L541.67,109.98 L541.72,109.31 L542.08,108.97 L542.15,106.27 L542.42,107.14 L542.33,107.12 L542.40,107.81 L542.36,105.99 L542.46,105.44 L542.76,105.79 L542.81,102.68 L542.86,105.54 L542.95,103.02 L542.97,103.72 L543.34,102.13 L543.38,101.05 L543.53,100.22 L543.56,100.86 L543.64,101.11 L543.68,98.87 L543.81,100.29 L544.13,100.92 L544.12,97.60 L544.08,98.40 L544.58,95.92 L544.52,95.75 L544.93,96.21 L544.45,95.26 L544.83,94.19 L544.77,93.02 L544.87,91.96 L545.20,95.58 L545.12,94.04 L545.32,91.63 L545.63,93.35 L546.01,91.18 L545.73,92.14 L546.12,90.94 L546.01,90.03 L546.29,91.73 L546.49,90.60 L546.87,91.83 L547.05,92.65 L547.23,92.91 L547.57,93.85 L547.83,93.39 L547.94,94.88 L548.54,93.99 L548.63,92.75 L548.95,94.65 L549.35,95.84 L549.30,96.30 L549.46,96.12 L549.56,96.89 L549.89,94.93 L550.18,98.67 L550.09,99.37 L550.19,99.15 L550.39,99.99 L550.64,98.35 L550.80,99.43 L550.80,100.60 L550.89,101.47 L551.03,103.69 L551.49,103.41 L551.47,105.57 L551.53,103.19 L551.67,104.08 L551.77,103.15 L552.11,104.63 L552.12,104.98 L552.33,105.25 L552.69,105.12 L552.98,106.81 L553.08,104.50 L553.47,104.37 L553.91,103.43 L554.25,104.67 L554.44,103.30 L554.87,102.74 L554.71,101.06 L555.49,102.21 L555.59,100.90 L555.77,100.90 L555.64,101.44 L555.82,98.52 L556.01,99.10 L556.19,99.14 L556.20,99.17 L556.44,98.92 L556.59,97.33 L556.62,96.66 L556.88,98.50 L557.01,95.71 L556.88,94.99 L557.06,94.93 L557.17,94.02 L557.27,95.15 L557.46,93.21 L557.66,93.62 L557.99,92.23 L557.75,90.24 L558.22,90.05 L558.18,90.02 L558.51,90.32 L558.42,89.63 L558.51,89.84 L558.68,88.90 L558.76,87.12 L558.87,87.66 L558.80,85.52 L559.16,86.49 L559.27,87.42 L559.40,85.27 L559.62,85.01 L559.67,83.92 L559.77,83.24 L559.85,83.81 L560.13,83.65 L560.26,82.45 L560.19,81.70 L560.36,83.93 L560.32,80.86 L560.85,80.86 L560.65,79.57 L561.07,78.78 L561.30,78.98 L561.24,78.55 L561.34,77.47 L561.54,77.58 L561.77,76.46 L561.64,74.21 L561.84,77.58 L561.76,76.67 L562.33,75.26 L562.21,73.17 L562.48,75.03 L562.69,74.25 L562.76,73.63 L562.87,73.32 L563.03,72.84 L563.12,71.41 L563.66,72.51 L563.69,70.68 L563.70,70.83 L563.96,69.86 L564.20,68.16 L564.21,68.62 L564.54,69.02 L564.56,65.52 L564.82,65.99 L565.00,66.87 L564.86,65.61 L565.15,64.53 L565.15,64.56 L565.52,65.57 L565.59,64.14 L565.90,64.77 L566.18,65.25 L566.66,65.13 L566.71,64.54 L566.87,66.45 L566.94,66.68 L567.41,67.18 L567.77,66.87 L567.94,66.94 L568.17,66.88 L568.35,67.61 L568.93,69.25 L569.14,70.15 L569.04,70.29 L569.41,69.83 L569.55,69.94 L569.76,71.14 L569.95,70.78 L570.26,71.13 L570.52,72.57 L570.56,72.24 L570.88,73.84 L571.08,74.91 L571.36,72.23 L571.62,74.30 L571.75,77.43 L571.92,74.93 L572.02,77.14 L572.23,75.42 L572.54,78.11 L572.71,77.75 L572.85,79.16 L573.07,78.44 L573.21,80.14 L573.26,79.52 L573.49,81.39 L573.48,81.20 L573.75,81.00 L573.91,83.45 L574.15,82.99 L574.31,81.51 L574.45,83.19 L574.54,85.02 L574.60,82.18 L574.86,85.16 L575.07,82.94 L575.03,85.06 L575.15,86.08 L575.28,86.75 L575.22,88.61 L575.58,86.23 L575.65,87.77 L575.91,88.64 L576.25,88.00 L576.32,89.90 L576.29,91.08 L576.40,91.11 L576.65,91.06 L576.72,90.89 L576.93,91.43 L576.92,93.60 L577.28,92.72 L577.33,94.34 L577.50,93.13 L577.96,96.52 L578.07,93.16 L578.43,94.95 L578.80,94.86 L578.77,94.76 L579.46,96.42 L579.72,96.67 L579.76,97.55 L580.21,97.12 L580.43,97.20 L580.48,97.84 L580.89,99.27 L581.26,99.22 L581.46,99.99 L581.63,99.51 L581.97,97.40 L581.92,97.36 L582.42,97.19 L582.48,97.42 L582.54,96.61 L583.05,95.94 L583.06,96.34 L583.48,95.12 L583.75,93.75 L583.62,92.28 L583.93,95.98 L584.05,92.97 L584.26,94.47 L584.61,91.11 L584.93,94.10 L585.06,93.36 L585.18,94.56 L585.25,95.97 L585.80,94.38 L585.93,95.32 L585.92,96.24 L586.46,95.73 L586.36,95.10 L586.64,98.86 L586.71,99.15 L586.82,97.08 L587.44,97.48 L587.49,97.47 L587.78,99.09 L587.83,98.22 L588.03,99.94 L588.41,102.26 L588.68,101.40 L588.84,101.94 L589.03,101.11 L589.62,102.52 L590.09,103.17 L590.33,103.49 L590.73,105.69 L591.33,105.14 L591.39,104.60 L592.05,103.48 L591.97,103.92 L592.35,103.28 L592.58,105.02 L592.52,104.04 L592.92,102.69 L592.88,99.60 L593.06,100.73 L593.33,101.53 L593.44,100.20 L593.61,101.84 L593.65,99.41 L594.41,97.65 L593.94,98.43 L594.21,97.68 L594.45,97.01 L594.59,100.14 L594.79,96.64 L595.05,96.49 L594.89,94.70 L595.48,95.12 L595.48,94.17 L595.67,94.19 L595.80,93.63 L595.82,93.58 L596.20,92.91 L596.46,94.14 L596.73,94.21 L597.23,95.51 L597.47,97.44 L597.69,95.23 L598.03,95.87 L598.16,97.42 L598.51,95.62 L598.80,96.74 L599.26,98.44 L599.36,97.73 L599.69,97.87 L599.81,98.78 L600.41,98.40 L600.24,97.27 L600.61,101.04 L600.83,99.77 L600.99,99.75 L601.27,101.95 L601.26,103.65 L601.60,102.58 L601.87,102.24 L602.15,105.37 L601.97,103.62 L602.31,104.48 L602.66,104.49 L602.79,106.86 L602.93,108.41 L603.11,108.76 L603.33,106.83 L603.50,107.61 L603.82,106.67 L603.88,106.72 L604.01,108.46 L604.29,109.25 L604.41,109.35 L604.55,111.25 L604.87,109.46 L605.03,110.44 L605.30,111.92 L605.61,111.61 L605.76,112.91 L605.70,111.41 L605.79,112.64 L606.13,116.49 L606.10,113.52 L606.32,116.05 L606.63,112.31 L606.81,117.20 L606.78,116.91 L607.10,115.20 L607.05,117.38 L607.44,119.19 L607.39,118.09 L607.65,118.74 L608.09,120.75 L608.20,120.36 L608.04,121.02 L608.10,120.57 L608.47,121.06 L608.60,121.60 L608.90,123.29 L609.01,120.78 L609.31,123.68 L609.13,123.60 L609.49,123.54 L609.89,123.62 L609.76,125.44 L610.07,126.28 L610.24,125.17 L610.34,126.13 L610.35,128.72 L610.39,128.28 L610.71,128.92 L611.00,130.12 L610.93,129.95 L611.09,128.60 L611.46,129.10 L611.44,130.00 L611.66,131.77 L612.24,129.84 L612.04,131.56 L612.16,130.50 L612.71,131.89 L612.86,136.99 L613.22,131.06 L613.39,134.27 L613.94,134.22 L613.96,134.80 L614.20,134.23 L614.55,135.53 L614.78,135.61 L615.08,137.26 L615.33,136.48 L615.51,138.24 L615.94,138.47 L615.96,136.72 L616.17,137.88 L616.19,136.77 L616.60,136.83 L616.63,137.37 L616.88,134.28 L616.76,134.48 L616.94,134.29 L617.35,131.98 L617.39,133.56 L617.32,133.37 L617.70,132.17 L617.67,133.24 L617.63,131.92 L618.01,129.42 L618.32,131.95 L618.42,129.88 L618.61,129.10 L618.58,128.56 L618.76,128.94 L619.12,128.56 L619.16,126.31 L619.17,128.67 L619.16,126.89 L619.55,124.34 L619.63,125.37 L619.91,124.59 L620.05,126.15 L620.05,122.16 L620.48,124.39 L620.67,122.90 L620.94,124.68 L621.22,123.05 L621.51,122.92 L621.69,122.22 L621.72,119.50 L622.13,119.79 L622.14,119.16 L622.83,119.60 L622.86,120.69 L623.00,118.56 L623.30,117.83 L623.52,117.01 L623.66,118.15 L623.93,118.31 L624.07,115.74 L624.58,114.97 L624.65,115.93 L625.05,116.07 L625.14,115.29 L625.36,114.25 L625.63,114.66 L625.90,113.59 L625.94,112.34 L626.34,112.07 L626.53,110.76 L626.87,113.53 L626.96,110.87 L627.17,110.21 L627.50,110.01 L627.79,108.79 L627.53,109.31 L628.17,106.62 L628.11,108.33 L628.72,107.19 L628.77,108.97 L629.14,109.58 L629.30,109.26 L629.72,109.64 L629.95,110.76 L630.34,111.82 L630.55,110.16 L630.95,111.90 L631.13,112.01 L631.41,113.99 L631.74,113.15 L631.97,112.57 L632.35,115.04 L632.57,114.43 L633.16,114.73 L633.24,116.72 L633.72,116.53 L633.97,116.50 L634.51,113.55 L635.09,115.25 L635.55,115.68 L635.90,117.28 L636.28,116.71 L636.81,116.89 L637.04,117.53 L636.85,114.49 L637.16,117.15 L637.39,114.73 L637.81,116.24 L637.90,113.94 L637.95,112.59 L638.13,115.09 L638.57,114.10 L638.60,113.36 L638.89,112.07 L639.26,110.87 L639.41,109.90 L639.67,109.60 L639.76,110.80 L639.88,110.14 L640.29,110.43 L640.72,107.95 L640.51,106.54 L640.74,109.32 L641.05,109.27 L641.38,106.51 L642.11,106.75 L642.44,107.39 L642.73,104.59 L643.43,106.29 L643.78,104.79 L644.11,105.36 L644.73,103.41 L645.15,103.72 L645.24,104.07 L645.75,104.26 L646.29,103.49 L646.29,103.53 L646.56,103.38 L646.80,101.14 L647.16,101.54 L647.73,103.66 L647.86,100.64 L648.13,99.48 L648.76,99.16 L648.79,100.29 L649.32,99.32" fill="none" stroke="#00008b" stroke-width="2.05" stroke-linejoin="round"/>
<path d="M401.00,160.03 L401.25,161.01 L401.50,162.08 L401.75,163.38 L402.00,164.74 L402.25,165.94 L402.50,166.97 L403.50,166.78 L404.50,166.69 L405.50,166.71 L406.50,166.73 L407.50,166.66 L408.50,166.55 L409.50,166.46 L410.50,166.38 L411.50,166.28 L412.50,166.15 L413.54,166.02 L414.57,165.95 L415.61,166.00 L416.65,166.09 L417.69,166.08 L418.73,165.95 L419.76,165.80 L420.80,165.74 L421.85,165.87 L422.89,165.95 L423.94,166.05 L424.98,166.17 L426.02,166.24 L427.07,166.27 L428.12,166.33 L429.16,166.42 L430.20,166.58 L431.25,166.88 L432.12,166.32 L433.00,165.49 L433.88,164.47 L434.75,163.59 L435.62,162.86 L436.50,162.18 L437.38,161.47 L438.25,160.75 L439.12,159.92 L440.00,158.96 L440.74,158.01 L441.49,157.17 L442.23,156.40 L442.98,155.63 L443.72,154.83 L444.47,153.98 L445.21,153.13 L445.96,152.30 L446.70,151.50 L447.37,150.67 L448.04,149.80 L448.71,148.94 L449.38,148.13 L450.05,147.36 L450.72,146.58 L451.39,145.79 L452.06,145.00 L452.73,144.20 L453.40,143.30 L454.11,142.30 L454.83,141.44 L455.54,140.62 L456.26,139.70 L456.97,138.71 L457.69,137.80 L458.40,136.97 L459.38,136.73 L460.35,136.49 L461.32,136.25 L462.30,135.97 L463.43,135.55 L464.55,135.15 L465.68,134.69 L466.80,134.20 L467.48,133.43 L468.16,132.69 L468.84,132.00 L469.52,131.34 L470.20,130.57 L470.67,129.53 L471.14,128.54 L471.61,127.59 L472.09,126.63 L472.56,125.67 L473.03,124.67 L473.50,123.64 L473.88,122.63 L474.26,121.72 L474.63,120.77 L475.01,119.76 L475.39,118.74 L475.77,117.64 L476.14,116.55 L476.52,115.61 L476.90,114.69 L477.20,113.60 L477.50,112.47 L477.80,111.45 L478.10,110.56 L478.40,109.68 L478.70,108.68 L479.00,107.55 L479.30,106.52 L479.60,105.64 L479.90,104.74 L480.20,103.75 L480.48,102.73 L480.76,101.70 L481.04,100.62 L481.32,99.47 L481.60,98.40 L481.88,97.54 L482.16,96.72 L482.44,95.74 L482.72,94.66 L483.00,93.61 L483.35,92.52 L483.71,91.45 L484.06,90.46 L484.42,89.47 L484.77,88.44 L485.13,87.41 L485.48,86.36 L485.84,85.35 L486.19,84.38 L486.55,83.41 L486.90,82.40 L487.35,81.36 L487.80,80.33 L488.25,79.40 L488.70,78.43 L489.15,77.28 L489.60,76.16 L490.05,75.16 L490.50,74.14 L490.95,73.12 L491.40,72.27 L491.75,71.48 L492.09,70.48 L492.44,69.39 L492.78,68.47 L493.13,67.62 L493.48,66.65 L493.82,65.62 L494.17,64.67 L494.52,63.78 L494.86,62.89 L495.21,61.95 L495.55,60.96 L495.90,59.98 L496.56,59.08 L497.21,58.24 L497.87,57.32 L498.53,56.32 L499.19,55.37 L499.84,54.47 L500.50,53.60 L501.12,52.74 L501.75,51.77 L502.38,50.74 L503.00,49.82 L503.62,48.96 L504.25,48.09 L504.88,47.22 L505.50,46.36 L505.97,45.45 L506.43,44.50 L506.90,43.54 L507.37,42.62 L507.83,41.69 L508.30,40.71 L508.77,39.76 L509.23,38.79 L509.70,37.81 L510.17,36.92 L510.63,36.06 L511.10,35.15 L511.57,34.28 L512.03,33.41 L512.50,32.40 L513.08,31.37 L513.67,30.46 L514.25,29.52 L514.83,28.49 L515.42,27.49 L516.00,26.55 L517.00,26.03 L518.00,25.53 L519.00,25.12 L520.00,24.65 L520.88,24.08 L521.75,23.50 L522.62,23.00 L523.50,22.60 L524.46,22.35 L525.42,22.01 L526.38,21.63 L527.34,21.28 L528.30,20.96 L529.23,21.38 L530.17,21.75 L531.10,22.04 L532.03,22.33 L532.97,22.69 L533.90,23.08 L534.83,23.47 L535.77,23.88 L536.70,24.30 L537.65,24.82 L538.59,25.29 L539.54,25.66 L540.48,26.05 L541.43,26.57 L542.37,27.12 L543.32,27.69 L544.26,28.35 L545.21,28.95 L546.15,29.38 L547.10,29.77 L548.15,30.18 L549.20,30.64 L550.12,31.35 L551.04,32.13 L551.97,32.64 L552.89,32.99 L553.81,33.53 L554.73,34.24 L555.66,34.90 L556.58,35.44 L557.50,35.98 L558.30,36.69 L559.10,37.39 L559.90,37.96 L560.70,38.46 L561.50,39.08 L562.30,39.87 L563.10,40.60 L563.90,41.15 L564.70,41.71 L565.50,42.41 L566.30,43.17 L567.10,43.90 L567.90,44.59 L568.73,45.22 L569.57,45.79 L570.40,46.29 L571.23,46.77 L572.07,47.33 L572.90,47.98 L573.73,48.62 L574.57,49.20 L575.40,49.86 L576.23,50.62 L577.07,51.43 L577.90,52.15 L578.73,52.70 L579.57,53.25 L580.40,53.81 L581.27,54.24 L582.13,54.76 L583.00,55.35 L583.87,55.82 L584.73,56.24 L585.60,56.83 L586.47,57.53 L587.33,58.17 L588.20,58.67 L589.07,59.11 L589.93,59.53 L590.80,59.96 L591.76,60.31 L592.72,60.77 L593.68,61.25 L594.65,61.59 L595.61,61.81 L596.57,62.09 L597.53,62.45 L598.49,62.81 L599.45,63.16 L600.42,63.50 L601.38,63.90 L602.34,64.37 L603.30,64.77 L604.34,64.95 L605.38,65.09 L606.42,65.25 L607.47,65.49 L608.51,65.84 L609.55,66.21 L610.59,66.50 L611.63,66.73 L612.67,66.98 L613.72,67.28 L614.76,67.58 L615.80,67.90 L616.84,68.19 L617.89,68.36 L618.93,68.46 L619.98,68.69 L621.02,68.99 L622.07,69.22 L623.12,69.45 L624.16,69.75 L625.21,70.06 L626.25,70.28 L627.29,70.43 L628.34,70.67 L629.38,70.96 L630.43,71.18 L631.48,71.36 L632.52,71.56 L633.57,71.71 L634.61,71.78 L635.66,71.87 L636.70,72.03 L637.78,72.26 L638.85,72.51 L639.93,72.65 L641.00,72.77 L642.08,72.92 L643.15,72.99 L644.23,73.00 L645.30,73.05 L646.38,73.07 L647.45,73.05 L648.52,73.12 L649.60,73.34" fill="none" stroke="#8b0000" stroke-width="2.00" stroke-linejoin="round"/>
<path d="M404.60,186.00 L463.10,195.40 L525.20,195.80 L650.00,189.40" fill="none" stroke="#008000" stroke-width="2.00" stroke-dasharray="6.6 5.9"/>
<ellipse cx="404.60" cy="186.00" rx="2.60" ry="2.39" fill="#008000"/>
<ellipse cx="463.10" cy="195.40" rx="2.60" ry="2.39" fill="#008000"/>
<ellipse cx="525.20" cy="195.80" rx="2.60" ry="2.39" fill="#008000"/>
</g>
<line x1="400.70" y1="12.10" x2="650.00" y2="12.10" stroke="#858585" stroke-width="1.10"/>
<line x1="400.70" y1="212.60" x2="650.00" y2="212.60" stroke="#858585" stroke-width="1.10"/>
<line x1="400.70" y1="12.10" x2="400.70" y2="212.60" stroke="#6a6ab2" stroke-width="1.10"/>
<line x1="650.00" y1="12.10" x2="650.00" y2="212.60" stroke="#b86868" stroke-width="1.10"/>
<text transform="translate(400.70,225.30) scale(0.930,1)" font-size="10.20" fill="#262626" text-anchor="middle" stroke="#262626" stroke-width="0.22">0</text>
<line x1="421.47" y1="212.60" x2="421.47" y2="209.90" stroke="#707070" stroke-width="0.9"/>
<line x1="421.47" y1="12.10" x2="421.47" y2="14.80" stroke="#707070" stroke-width="0.9"/>
<text transform="translate(421.47,225.30) scale(0.930,1)" font-size="10.20" fill="#262626" text-anchor="middle" stroke="#262626" stroke-width="0.22">5</text>
<line x1="442.25" y1="212.60" x2="442.25" y2="209.90" stroke="#707070" stroke-width="0.9"/>
<line x1="442.25" y1="12.10" x2="442.25" y2="14.80" stroke="#707070" stroke-width="0.9"/>
<text transform="translate(442.25,225.30) scale(0.930,1)" font-size="10.20" fill="#262626" text-anchor="middle" stroke="#262626" stroke-width="0.22">10</text>
<line x1="463.02" y1="212.60" x2="463.02" y2="209.90" stroke="#707070" stroke-width="0.9"/>
<line x1="463.02" y1="12.10" x2="463.02" y2="14.80" stroke="#707070" stroke-width="0.9"/>
<text transform="translate(463.02,225.30) scale(0.930,1)" font-size="10.20" fill="#262626" text-anchor="middle" stroke="#262626" stroke-width="0.22">15</text>
<line x1="483.80" y1="212.60" x2="483.80" y2="209.90" stroke="#707070" stroke-width="0.9"/>
<line x1="483.80" y1="12.10" x2="483.80" y2="14.80" stroke="#707070" stroke-width="0.9"/>
<text transform="translate(483.80,225.30) scale(0.930,1)" font-size="10.20" fill="#262626" text-anchor="middle" stroke="#262626" stroke-width="0.22">20</text>
<line x1="504.57" y1="212.60" x2="504.57" y2="209.90" stroke="#707070" stroke-width="0.9"/>
<line x1="504.57" y1="12.10" x2="504.57" y2="14.80" stroke="#707070" stroke-width="0.9"/>
<text transform="translate(504.57,225.30) scale(0.930,1)" font-size="10.20" fill="#262626" text-anchor="middle" stroke="#262626" stroke-width="0.22">25</text>
<line x1="525.35" y1="212.60" x2="525.35" y2="209.90" stroke="#707070" stroke-width="0.9"/>
<line x1="525.35" y1="12.10" x2="525.35" y2="14.80" stroke="#707070" stroke-width="0.9"/>
<text transform="translate(525.35,225.30) scale(0.930,1)" font-size="10.20" fill="#262626" text-anchor="middle" stroke="#262626" stroke-width="0.22">30</text>
<line x1="546.12" y1="212.60" x2="546.12" y2="209.90" stroke="#707070" stroke-width="0.9"/>
<line x1="546.12" y1="12.10" x2="546.12" y2="14.80" stroke="#707070" stroke-width="0.9"/>
<text transform="translate(546.12,225.30) scale(0.930,1)" font-size="10.20" fill="#262626" text-anchor="middle" stroke="#262626" stroke-width="0.22">35</text>
<line x1="566.90" y1="212.60" x2="566.90" y2="209.90" stroke="#707070" stroke-width="0.9"/>
<line x1="566.90" y1="12.10" x2="566.90" y2="14.80" stroke="#707070" stroke-width="0.9"/>
<text transform="translate(566.90,225.30) scale(0.930,1)" font-size="10.20" fill="#262626" text-anchor="middle" stroke="#262626" stroke-width="0.22">40</text>
<line x1="587.67" y1="212.60" x2="587.67" y2="209.90" stroke="#707070" stroke-width="0.9"/>
<line x1="587.67" y1="12.10" x2="587.67" y2="14.80" stroke="#707070" stroke-width="0.9"/>
<text transform="translate(587.67,225.30) scale(0.930,1)" font-size="10.20" fill="#262626" text-anchor="middle" stroke="#262626" stroke-width="0.22">45</text>
<line x1="608.45" y1="212.60" x2="608.45" y2="209.90" stroke="#707070" stroke-width="0.9"/>
<line x1="608.45" y1="12.10" x2="608.45" y2="14.80" stroke="#707070" stroke-width="0.9"/>
<text transform="translate(608.45,225.30) scale(0.930,1)" font-size="10.20" fill="#262626" text-anchor="middle" stroke="#262626" stroke-width="0.22">50</text>
<line x1="629.23" y1="212.60" x2="629.23" y2="209.90" stroke="#707070" stroke-width="0.9"/>
<line x1="629.23" y1="12.10" x2="629.23" y2="14.80" stroke="#707070" stroke-width="0.9"/>
<text transform="translate(629.23,225.30) scale(0.930,1)" font-size="10.20" fill="#262626" text-anchor="middle" stroke="#262626" stroke-width="0.22">55</text>
<text transform="translate(650.00,225.30) scale(0.930,1)" font-size="10.20" fill="#262626" text-anchor="middle" stroke="#262626" stroke-width="0.22">60</text>
<text transform="translate(397.40,216.50) scale(0.930,1)" font-size="10.20" fill="#1c1c8f" text-anchor="end" stroke="#1c1c8f" stroke-width="0.22">0.29</text>
<line x1="400.70" y1="179.18" x2="403.40" y2="179.18" stroke="#6a6ab2" stroke-width="0.8"/>
<text transform="translate(397.40,183.08) scale(0.930,1)" font-size="10.20" fill="#1c1c8f" text-anchor="end" stroke="#1c1c8f" stroke-width="0.22">0.295</text>
<line x1="400.70" y1="145.77" x2="403.40" y2="145.77" stroke="#6a6ab2" stroke-width="0.8"/>
<text transform="translate(397.40,149.67) scale(0.930,1)" font-size="10.20" fill="#1c1c8f" text-anchor="end" stroke="#1c1c8f" stroke-width="0.22">0.3</text>
<line x1="400.70" y1="112.35" x2="403.40" y2="112.35" stroke="#6a6ab2" stroke-width="0.8"/>
<text transform="translate(397.40,116.25) scale(0.930,1)" font-size="10.20" fill="#1c1c8f" text-anchor="end" stroke="#1c1c8f" stroke-width="0.22">0.305</text>
<line x1="400.70" y1="78.93" x2="403.40" y2="78.93" stroke="#6a6ab2" stroke-width="0.8"/>
<text transform="translate(397.40,82.83) scale(0.930,1)" font-size="10.20" fill="#1c1c8f" text-anchor="end" stroke="#1c1c8f" stroke-width="0.22">0.31</text>
<line x1="400.70" y1="45.52" x2="403.40" y2="45.52" stroke="#6a6ab2" stroke-width="0.8"/>
<text transform="translate(397.40,49.42) scale(0.930,1)" font-size="10.20" fill="#1c1c8f" text-anchor="end" stroke="#1c1c8f" stroke-width="0.22">0.315</text>
<text transform="translate(397.40,16.00) scale(0.930,1)" font-size="10.20" fill="#1c1c8f" text-anchor="end" stroke="#1c1c8f" stroke-width="0.22">0.32</text>
<text transform="translate(653.80,216.50) scale(0.930,1)" font-size="10.20" fill="#8b1a1a" text-anchor="start" stroke="#8b1a1a" stroke-width="0.22">0</text>
<line x1="650.00" y1="179.18" x2="647.30" y2="179.18" stroke="#b86868" stroke-width="0.8"/>
<text transform="translate(653.80,183.08) scale(0.930,1)" font-size="10.20" fill="#8b1a1a" text-anchor="start" stroke="#8b1a1a" stroke-width="0.22">10</text>
<line x1="650.00" y1="145.77" x2="647.30" y2="145.77" stroke="#b86868" stroke-width="0.8"/>
<text transform="translate(653.80,149.67) scale(0.930,1)" font-size="10.20" fill="#8b1a1a" text-anchor="start" stroke="#8b1a1a" stroke-width="0.22">20</text>
<line x1="650.00" y1="112.35" x2="647.30" y2="112.35" stroke="#b86868" stroke-width="0.8"/>
<text transform="translate(653.80,116.25) scale(0.930,1)" font-size="10.20" fill="#8b1a1a" text-anchor="start" stroke="#8b1a1a" stroke-width="0.22">30</text>
<line x1="650.00" y1="78.93" x2="647.30" y2="78.93" stroke="#b86868" stroke-width="0.8"/>
<text transform="translate(653.80,82.83) scale(0.930,1)" font-size="10.20" fill="#8b1a1a" text-anchor="start" stroke="#8b1a1a" stroke-width="0.22">40</text>
<line x1="650.00" y1="45.52" x2="647.30" y2="45.52" stroke="#b86868" stroke-width="0.8"/>
<text transform="translate(653.80,49.42) scale(0.930,1)" font-size="10.20" fill="#8b1a1a" text-anchor="start" stroke="#8b1a1a" stroke-width="0.22">50</text>
<text transform="translate(653.80,16.00) scale(0.930,1)" font-size="10.20" fill="#8b1a1a" text-anchor="start" stroke="#8b1a1a" stroke-width="0.22">60</text>
<text x="525.35" y="237.80" font-size="10.35" fill="#262626" text-anchor="middle" font-weight="normal" stroke="#262626" stroke-width="0.22">Time (minutes)</text>
<text x="518.60" y="7.80" font-size="11.50" fill="#000" text-anchor="middle" font-weight="bold" stroke="#000" stroke-width="0.22">Pig 2</text>
<text transform="translate(364.20,112.35) rotate(-90)" font-size="10.90" fill="#1c1c8f" stroke="#1c1c8f" stroke-width="0.22" text-anchor="middle">RMS<tspan font-size="8.18" dy="4.36">oxy</tspan><tspan dy="-4.36" dx="0.8"> (</tspan><tspan font-style="italic">g</tspan>)</text>
<text transform="translate(676.00,112.35) rotate(-90)" font-size="10.90" fill="#8b1a1a" stroke="#8b1a1a" stroke-width="0.22" text-anchor="middle">&#916;<tspan font-style="italic">P</tspan><tspan font-size="8.18" dy="4.36">oxy</tspan><tspan dy="-4.36" dx="0.5"> (mmHg)</tspan></text>
<path d="M421.77,228.30 L419.88,231.90 L423.67,231.90 Z" fill="#000"/>
<line x1="421.77" y1="231.30" x2="421.77" y2="236.00" stroke="#000" stroke-width="1.4"/>
<text x="406.70" y="197.30" font-size="8.00" fill="#008000" text-anchor="middle" font-weight="normal" stroke="#008000" stroke-width="0.10">3.5</text>
<text x="463.10" y="204.60" font-size="8.00" fill="#008000" text-anchor="middle" font-weight="normal" stroke="#008000" stroke-width="0.10">3.2</text>
<text x="525.20" y="204.60" font-size="8.00" fill="#008000" text-anchor="middle" font-weight="normal" stroke="#008000" stroke-width="0.10">3.2</text>
<text x="642.30" y="202.20" font-size="8.00" fill="#008000" text-anchor="middle" font-weight="normal" stroke="#008000" stroke-width="0.10">3.3</text>
<rect x="575.30" y="18.40" width="66.30" height="27.50" fill="#fff" stroke="#6e6e6e" stroke-width="0.9"/>
<line x1="577.50" y1="23.82" x2="601.10" y2="23.82" stroke="#00008b" stroke-width="1.8"/>
<line x1="577.50" y1="32.34" x2="601.10" y2="32.34" stroke="#8b0000" stroke-width="1.8"/>
<line x1="577.50" y1="40.78" x2="601.10" y2="40.78" stroke="#008000" stroke-width="1.8" stroke-dasharray="6.6 5.9"/>
<ellipse cx="589.30" cy="40.78" rx="2.60" ry="2.39" fill="#008000"/>
<text x="602.90" y="26.32" font-size="7.00" fill="#111" text-anchor="start" font-weight="normal" stroke="#111" stroke-width="0.14">RMS</text>
<text x="602.90" y="34.84" font-size="7.00" fill="#111" text-anchor="start" font-weight="normal" stroke="#111" stroke-width="0.14">&#916;P</text>
<text x="602.90" y="43.28" font-size="7.00" fill="#111" text-anchor="start" font-weight="normal" stroke="#111" stroke-width="0.14">ECMO flow</text>
<clipPath id="c3"><rect x="40.50" y="257.70" width="253.00" height="202.90"/></clipPath>
<g clip-path="url(#c3)">
<path d="M40.65,449.75 L40.72,450.46 L41.28,449.01 L41.50,449.70 L41.92,449.61 L42.17,447.27 L42.33,446.30 L42.44,446.14 L42.48,448.09 L42.72,445.46 L42.88,443.35 L43.02,444.94 L42.98,443.01 L43.28,445.01 L43.37,443.81 L43.47,444.32 L43.62,440.11 L43.74,442.17 L44.03,442.12 L43.95,439.14 L44.08,441.41 L44.25,439.75 L44.79,438.81 L45.02,439.27 L45.51,439.52 L45.67,437.30 L45.73,437.09 L46.00,437.26 L46.30,438.52 L46.38,435.98 L46.82,437.05 L47.17,434.68 L47.32,435.71 L47.76,432.27 L47.88,434.94 L48.11,433.64 L48.38,431.88 L48.64,431.90 L48.62,431.86 L48.79,430.23 L48.97,432.12 L49.65,430.95 L50.00,431.36 L49.64,429.47 L50.15,428.57 L50.13,428.72 L50.40,428.27 L50.58,427.21 L50.79,428.67 L50.90,426.82 L51.27,425.13 L51.48,425.33 L51.81,425.81 L52.08,425.29 L51.85,428.92 L52.37,427.87 L52.31,429.89 L52.57,428.51 L52.73,428.47 L53.10,430.19 L53.40,429.60 L53.47,429.42 L53.57,430.45 L53.98,432.77 L54.34,432.50 L54.39,432.00 L54.64,433.08 L54.92,432.43 L55.54,435.16 L55.72,433.25 L56.06,435.31 L56.82,435.11 L57.13,436.10 L57.45,436.69 L57.79,436.76 L58.44,435.29 L58.91,434.71 L58.93,436.42 L59.21,434.05 L59.62,434.35 L59.96,433.24 L60.37,432.97 L60.55,432.44 L60.93,432.57 L61.47,432.27 L61.43,432.79 L61.88,431.62 L62.20,432.27 L62.75,431.04 L63.32,432.44 L63.76,431.71 L64.47,432.11 L65.02,431.90 L65.14,434.88 L65.35,434.29 L65.69,434.64 L65.50,435.16 L66.01,434.81 L65.88,436.08 L66.27,435.99 L66.45,436.74 L66.44,437.34 L66.74,437.72 L67.04,438.73 L67.00,438.64 L67.30,439.81 L67.25,439.69 L67.88,439.51 L68.30,439.31 L68.56,440.19 L69.18,439.57 L69.39,441.96 L70.15,442.62 L70.47,441.92 L70.93,441.26 L71.07,442.75 L71.52,441.55 L71.98,441.68 L72.51,439.14 L72.86,441.01 L73.20,441.46 L73.82,440.24 L74.10,438.20 L74.37,439.30 L74.48,438.79 L74.67,437.46 L74.57,437.83 L74.80,436.79 L74.98,436.68 L75.40,435.59 L75.27,435.13 L75.55,434.41 L75.56,435.03 L75.89,431.99 L75.77,432.41 L76.17,435.23 L76.37,433.21 L76.25,430.43 L76.35,432.14 L76.56,432.31 L76.73,429.82 L76.68,431.59 L76.96,429.91 L76.94,429.90 L77.12,429.74 L77.23,428.94 L77.47,428.74 L77.49,428.51 L77.78,426.64 L77.60,427.31 L78.06,426.03 L78.19,426.99 L78.21,426.37 L78.79,422.66 L78.38,423.78 L78.61,423.45 L78.56,422.49 L79.01,423.86 L79.08,421.59 L79.18,420.32 L79.24,421.12 L79.53,420.91 L79.36,419.93 L79.67,419.99 L79.74,417.41 L79.95,417.74 L79.99,418.08 L79.96,417.24 L80.36,415.96 L80.24,416.35 L80.54,415.03 L80.62,415.53 L80.87,415.68 L81.16,412.55 L81.32,413.98 L81.70,412.66 L81.96,412.28 L82.24,413.60 L82.34,413.90 L82.58,412.06 L82.87,410.98 L83.38,411.77 L83.33,410.50 L83.63,408.89 L84.14,410.13 L84.33,409.61 L84.05,410.45 L84.77,407.18 L85.00,407.73 L85.28,407.96 L85.12,407.26 L85.62,405.17 L85.92,405.93 L86.12,403.01 L86.10,403.95 L86.62,404.97 L86.64,404.03 L87.27,402.71 L87.72,402.83 L88.24,403.45 L88.82,402.74 L88.94,403.25 L89.42,403.96 L89.62,399.63 L90.32,401.45 L90.85,400.88 L90.98,401.37 L91.18,400.18 L91.52,399.94 L92.00,398.90 L92.25,399.99 L92.73,398.77 L93.03,397.39 L93.53,398.29 L93.88,397.18 L94.19,397.04 L94.69,396.22 L95.04,395.92 L95.31,397.47 L95.79,396.07 L95.89,397.04 L96.49,394.26 L96.76,394.86 L97.09,395.35 L97.64,393.67 L97.94,395.71 L98.23,395.01 L98.76,393.18 L99.29,394.52 L99.70,394.47 L100.03,394.53 L100.44,395.92 L100.76,396.35 L101.25,396.36 L101.63,395.89 L102.05,396.71 L102.50,397.65 L102.80,396.72 L102.97,394.42 L103.36,394.22 L103.46,396.65 L103.97,395.09 L104.19,393.83 L104.34,394.19 L104.77,393.56 L104.88,392.18 L105.22,393.08 L105.49,391.19 L105.96,391.69 L106.15,390.92 L106.52,389.78 L106.63,390.98 L106.80,390.02 L107.19,387.29 L107.34,388.65 L107.54,387.68 L107.90,386.11 L108.23,386.57 L108.28,386.77 L108.77,386.47 L108.85,385.49 L108.83,386.36 L109.05,385.41 L109.43,383.16 L109.67,383.38 L109.96,384.14 L109.98,383.63 L110.30,383.22 L110.49,381.04 L110.91,383.19 L111.26,382.39 L111.94,383.15 L112.38,383.66 L113.00,382.40 L113.53,382.60 L114.02,382.92 L114.37,383.59 L114.93,383.28 L115.35,381.66 L115.34,381.42 L115.64,378.48 L115.88,383.09 L115.81,381.56 L116.12,378.66 L116.35,379.92 L116.33,380.21 L116.53,379.55 L116.52,378.79 L116.58,377.31 L117.00,376.43 L117.11,376.65 L117.11,375.65 L117.32,374.64 L117.57,374.72 L117.86,375.60 L117.98,373.73 L118.09,373.82 L118.00,374.22 L118.48,371.20 L118.58,372.99 L118.49,371.73 L118.72,371.03 L118.65,370.65 L118.70,369.85 L119.13,369.55 L119.15,369.34 L119.17,368.09 L119.47,367.92 L119.44,366.98 L119.41,367.01 L119.63,365.88 L119.71,366.30 L119.94,365.52 L119.84,366.38 L120.04,364.43 L120.34,363.32 L120.31,364.36 L120.43,363.04 L120.60,363.26 L120.59,362.50 L120.69,361.78 L120.96,360.49 L120.70,361.33 L121.13,361.17 L121.13,360.97 L121.27,357.77 L121.46,359.51 L121.47,358.18 L121.53,358.67 L121.70,357.13 L121.66,355.79 L121.91,356.37 L122.03,355.85 L122.20,354.89 L122.32,354.09 L122.20,353.83 L122.52,353.65 L122.67,353.13 L122.71,352.48 L122.90,353.41 L123.07,350.89 L123.11,351.96 L123.42,348.89 L123.34,348.36 L123.52,348.29 L123.64,349.00 L123.75,345.46 L123.81,348.60 L123.89,347.56 L123.89,346.57 L124.29,346.82 L124.28,347.03 L124.49,344.86 L124.81,346.19 L125.14,346.06 L125.50,347.90 L125.71,347.12 L126.28,347.69 L126.81,347.61 L127.04,348.35 L127.55,348.08 L127.95,348.19 L128.37,348.48 L129.19,348.59 L129.19,347.98 L129.75,347.00 L130.15,348.67 L130.85,347.36 L131.17,344.28 L131.59,346.70 L131.78,345.23 L131.94,344.23 L132.10,344.96 L132.37,344.73 L132.44,344.31 L132.70,343.82 L132.84,343.56 L132.87,341.60 L133.03,341.79 L133.26,341.23 L133.38,341.32 L133.55,339.60 L133.69,339.06 L133.65,340.62 L134.10,339.96 L134.07,340.99 L134.06,338.25 L134.35,337.52 L134.58,337.06 L134.55,337.75 L134.73,337.24 L135.10,337.01 L135.15,333.59 L135.13,335.56 L135.25,333.44 L135.28,331.29 L135.40,333.56 L135.52,332.26 L135.64,330.90 L135.72,332.91 L135.76,329.47 L135.81,331.52 L135.89,330.36 L136.15,330.89 L136.03,329.01 L135.92,327.90 L136.41,328.26 L136.37,328.56 L136.36,326.22 L136.59,325.32 L136.55,324.70 L136.90,323.77 L136.81,326.52 L136.75,326.61 L137.02,322.38 L137.05,322.92 L137.28,324.04 L137.20,321.86 L137.65,321.94 L137.57,321.54 L137.80,322.08 L137.55,319.01 L137.73,319.40 L137.86,319.97 L138.00,319.43 L137.99,317.67 L138.04,318.93 L138.40,317.37 L138.38,317.51 L138.48,315.52 L138.53,315.02 L138.67,314.85 L138.83,315.25 L138.99,314.93 L138.87,312.32 L138.94,312.90 L139.43,312.48 L139.27,314.35 L139.18,310.59 L139.63,311.28 L139.70,311.66 L139.76,310.61 L139.99,310.07 L140.03,311.62 L139.99,308.48 L140.07,309.25 L140.11,307.89 L140.28,307.09 L140.26,307.73 L140.38,306.11 L140.69,305.61 L140.43,305.26 L140.85,305.40 L140.68,302.91 L140.93,303.22 L141.02,304.16 L141.20,303.66 L141.25,303.29 L141.22,301.84 L141.49,301.72 L141.43,299.30 L141.26,300.74 L141.55,299.58 L141.72,300.44 L141.64,300.37 L141.83,301.05 L141.71,298.68 L142.14,297.61 L142.10,296.82 L142.21,295.24 L142.37,295.88 L142.09,294.60 L142.51,294.87 L142.46,293.62 L142.57,294.69 L142.79,295.54 L142.94,295.34 L142.70,297.28 L142.94,296.66 L142.97,297.72 L142.99,298.93 L143.13,297.64 L143.20,296.04 L143.01,299.24 L143.15,298.55 L143.23,300.93 L143.36,302.29 L143.37,303.03 L143.67,300.58 L143.82,303.98 L143.72,302.93 L143.80,304.68 L143.62,303.64 L143.96,305.29 L143.89,305.49 L143.96,305.85 L143.71,307.35 L144.17,304.99 L144.16,305.61 L144.33,307.40 L144.29,308.68 L144.33,307.37 L144.25,309.47 L144.26,309.27 L144.81,309.33 L144.62,310.98 L144.68,310.99 L144.77,312.35 L144.74,312.62 L145.10,311.96 L144.95,313.85 L145.15,312.87 L145.08,313.86 L145.21,314.54 L145.18,316.25 L145.26,316.61 L145.16,316.79 L145.38,316.41 L145.47,317.24 L145.53,317.24 L145.65,318.13 L145.54,318.07 L145.61,317.87 L145.80,319.87 L146.01,318.57 L145.86,320.09 L145.93,322.73 L145.83,321.82 L146.07,322.78 L146.42,321.43 L146.00,322.80 L146.24,323.58 L146.36,323.71 L146.63,324.58 L146.39,325.29 L146.71,325.45 L146.63,325.61 L146.80,326.31 L146.89,327.29 L146.87,327.53 L146.97,327.58 L147.04,329.90 L147.11,328.11 L147.38,328.34 L147.13,328.69 L147.49,331.80 L147.27,331.08 L147.36,330.85 L147.60,331.11 L147.56,332.16 L147.59,334.07 L147.76,334.03 L147.74,335.73 L147.98,334.08 L147.81,335.81 L147.81,335.21 L147.99,337.98 L148.09,337.04 L148.21,337.56 L148.40,338.85 L148.51,338.55 L148.43,337.54 L148.62,341.12 L148.90,339.77 L148.92,340.15 L149.00,341.80 L149.14,342.50 L149.33,341.78 L149.61,342.16 L149.66,343.99 L149.98,342.70 L150.01,343.19 L150.22,343.00 L150.19,346.10 L150.54,344.72 L150.58,345.23 L150.96,347.05 L150.83,346.11 L150.92,347.18 L150.87,343.99 L151.01,344.80 L151.28,344.37 L150.91,344.48 L151.37,343.22 L151.24,343.29 L151.33,342.82 L151.42,342.22 L151.20,343.16 L151.42,341.41 L151.75,341.56 L151.74,341.18 L151.58,341.27 L151.74,338.55 L151.71,338.25 L151.67,338.59 L151.82,338.20 L151.73,337.55 L151.94,336.84 L151.68,334.67 L152.14,334.12 L152.11,336.48 L152.08,333.73 L152.04,332.86 L152.20,333.59 L152.20,334.24 L152.27,332.34 L152.30,331.86 L152.26,332.24 L152.35,330.93 L152.72,329.89 L152.47,330.24 L152.36,329.72 L152.69,331.07 L152.73,329.14 L152.47,328.11 L152.66,327.54 L152.83,328.56 L152.61,326.07 L152.92,324.33 L153.14,324.36 L153.03,325.52 L153.04,322.94 L153.07,323.75 L153.05,323.18 L153.29,322.61 L153.10,321.84 L153.25,322.32 L153.36,320.98 L153.40,323.30 L153.44,321.77 L153.61,321.10 L153.59,319.81 L153.38,319.14 L153.56,318.27 L153.43,315.39 L153.72,318.89 L153.86,317.74 L154.00,317.98 L154.02,314.80 L154.32,316.94 L153.97,315.94 L154.30,314.42 L154.60,316.41 L154.62,312.54 L154.70,313.67 L154.55,311.23 L154.81,312.66 L154.81,312.88 L155.13,310.67 L154.88,309.02 L155.22,308.62 L154.96,308.74 L155.02,309.11 L155.32,309.18 L155.41,307.11 L155.43,306.26 L155.44,307.54 L155.61,305.90 L155.89,308.08 L155.99,305.82 L156.33,305.32 L156.51,305.27 L156.77,306.56 L156.83,302.53 L157.12,302.35 L157.32,301.89 L157.33,302.89 L157.67,303.15 L157.78,300.62 L157.97,298.27 L158.15,298.44 L158.43,298.96 L158.52,301.07 L158.81,301.51 L158.84,299.91 L159.01,300.72 L159.68,302.11 L159.68,302.97 L159.98,303.09 L160.27,302.36 L160.40,303.67 L160.50,304.57 L160.26,304.28 L160.49,303.93 L160.84,304.58 L160.91,306.99 L160.94,306.14 L161.18,306.65 L161.22,307.28 L161.54,307.61 L161.27,308.09 L161.67,309.95 L161.58,309.23 L161.72,309.85 L162.25,308.92 L162.23,311.84 L162.40,310.99 L162.50,310.65 L162.88,309.58 L163.05,308.56 L163.41,306.15 L163.65,307.44 L163.91,308.09 L164.12,305.99 L164.42,307.67 L164.46,308.29 L164.84,306.88 L165.33,305.04 L165.32,304.28 L165.69,306.23 L165.54,304.31 L165.77,303.77 L165.96,304.90 L165.96,303.68 L166.31,301.60 L166.39,300.79 L166.57,301.23 L166.58,300.34 L166.67,299.03 L167.12,300.26 L167.20,299.76 L167.19,296.52 L167.66,299.29 L167.32,297.41 L167.73,297.73 L167.95,297.11 L168.07,295.48 L168.16,293.98 L168.19,294.62 L168.53,296.38 L169.14,295.72 L168.99,293.99 L169.37,294.75 L169.65,293.58 L169.75,293.90 L170.38,294.55 L170.33,290.86 L170.69,291.39 L170.94,290.97 L171.37,289.56 L171.54,291.23 L171.55,290.94 L172.11,290.29 L172.46,287.93 L172.80,289.08 L173.11,289.37 L173.21,287.54 L173.64,286.93 L173.85,288.31 L174.30,285.99 L174.55,287.09 L174.56,286.59 L174.97,284.55 L175.20,286.85 L175.57,284.65 L175.78,284.63 L176.08,285.02 L176.10,281.80 L176.41,281.90 L176.63,283.45 L176.89,281.06 L177.26,279.03 L177.37,280.73 L177.51,281.24 L177.86,281.04 L178.05,278.40 L178.25,279.32 L178.27,279.02 L178.65,277.83 L178.80,276.74 L179.30,279.96 L179.45,279.01 L179.87,279.44 L179.96,280.27 L180.10,280.25 L180.48,281.82 L180.40,281.51 L180.81,281.14 L181.03,282.35 L181.17,282.63 L181.25,282.08 L181.47,284.00 L181.53,285.27 L181.85,285.56 L181.77,285.99 L181.94,285.68 L182.41,286.86 L182.52,287.05 L182.49,287.94 L182.83,286.65 L182.99,286.52 L183.00,288.43 L183.18,289.58 L183.23,289.16 L183.36,290.46 L183.43,289.42 L183.31,293.30 L183.20,290.28 L183.59,292.72 L183.47,293.18 L183.56,291.21 L183.70,293.17 L183.83,294.12 L184.04,294.04 L184.05,295.36 L183.90,295.07 L184.00,297.45 L184.01,295.85 L184.17,297.93 L184.14,298.45 L184.44,296.29 L184.38,298.41 L184.40,299.96 L184.66,300.21 L184.80,299.01 L184.74,299.95 L184.61,299.76 L184.81,303.38 L185.09,302.15 L184.89,301.82 L185.03,304.75 L184.99,302.00 L185.25,303.78 L185.00,304.58 L185.18,305.33 L185.18,306.79 L185.31,307.46 L185.26,307.01 L185.42,304.98 L185.31,308.88 L185.51,308.90 L185.61,308.11 L185.44,310.52 L185.83,310.07 L185.45,312.69 L185.61,309.66 L185.84,312.19 L185.91,309.79 L186.15,312.24 L185.94,313.24 L186.02,313.95 L185.83,313.23 L186.02,314.83 L186.20,313.88 L186.37,314.36 L186.16,315.87 L186.38,317.74 L186.18,314.42 L186.09,318.07 L186.31,317.80 L186.39,318.48 L186.16,318.53 L186.53,317.98 L186.47,319.92 L186.56,320.63 L186.34,322.25 L186.59,320.83 L186.57,321.96 L186.93,322.38 L186.75,322.10 L186.80,322.38 L186.86,323.81 L186.97,322.73 L186.99,323.51 L186.97,325.69 L187.16,325.22 L186.97,324.83 L187.20,325.16 L187.33,326.30 L187.22,326.04 L187.37,327.24 L187.52,327.62 L187.25,329.58 L187.47,332.63 L187.61,331.33 L187.35,331.08 L187.71,331.72 L187.48,331.56 L187.79,332.20 L187.64,332.80 L187.74,332.69 L187.59,333.58 L188.11,335.04 L187.89,333.83 L188.04,336.50 L188.30,335.47 L188.25,337.02 L188.30,335.32 L188.11,336.68 L188.14,338.41 L188.24,338.94 L188.47,337.60 L188.14,339.27 L188.51,340.02 L188.28,338.87 L188.62,340.18 L188.43,339.79 L188.54,341.63 L188.46,342.01 L188.56,342.49 L188.79,343.79 L188.68,345.50 L188.67,344.55 L188.82,342.43 L188.93,343.23 L188.81,347.07 L188.94,344.90 L189.16,347.09 L189.21,346.89 L188.97,346.40 L189.10,349.01 L189.37,346.86 L189.25,351.19 L189.52,350.14 L189.35,352.52 L189.45,351.12 L189.55,351.95 L189.73,353.54 L189.60,353.21 L189.57,351.35 L190.20,355.55 L189.95,353.44 L190.23,351.54 L190.28,353.40 L190.05,352.97 L190.37,353.40 L190.32,355.56 L190.54,355.13 L190.48,358.29 L190.63,357.16 L190.72,358.45 L190.77,359.25 L190.88,358.53 L191.13,359.02 L191.21,359.46 L191.11,361.10 L191.10,360.19 L191.35,360.77 L191.46,360.36 L191.68,358.83 L191.72,358.34 L191.96,358.08 L192.00,358.35 L192.05,357.03 L192.26,356.50 L192.15,357.37 L192.40,354.06 L192.58,356.30 L192.72,355.60 L192.72,356.07 L192.79,353.97 L193.02,353.42 L193.15,353.61 L193.27,352.51 L193.53,352.60 L193.55,352.42 L193.71,351.51 L193.70,349.48 L193.80,350.42 L193.88,350.95 L194.14,347.95 L194.22,349.76 L194.14,347.87 L194.36,348.98 L194.49,347.08 L194.49,347.09 L194.31,345.27 L194.83,345.03 L195.03,346.01 L194.88,343.82 L195.11,343.49 L195.15,340.93 L195.46,342.76 L195.64,343.14 L195.86,342.27 L195.93,344.09 L196.08,342.66 L196.17,339.58 L196.45,340.92 L196.47,340.45 L196.73,338.45 L196.73,339.77 L196.99,339.08 L197.14,336.82 L197.41,338.28 L197.47,334.95 L197.70,336.36 L197.61,336.08 L198.07,335.65 L198.03,334.62 L198.16,335.36 L198.32,333.75 L198.42,333.71 L198.71,331.81 L199.05,332.20 L198.86,330.95 L199.00,331.87 L199.43,332.38 L199.13,329.36 L199.69,330.49 L200.07,327.61 L200.29,329.60 L200.89,327.92 L201.21,328.57 L201.68,328.62 L201.90,326.80 L202.18,329.18 L202.65,329.40 L203.00,328.60 L203.20,331.05 L203.29,330.92 L203.49,329.54 L203.56,330.26 L204.05,330.74 L204.69,330.85 L205.20,328.66 L205.66,330.83 L206.01,328.63 L206.40,329.32 L206.91,328.86 L206.74,330.49 L206.73,330.68 L207.22,332.02 L207.25,330.86 L207.51,332.09 L207.89,332.10 L207.95,332.58 L207.94,333.75 L208.41,334.50 L208.77,333.61 L209.15,334.18 L209.63,336.08 L209.73,335.70 L210.06,334.82 L210.52,336.91 L210.78,337.43 L211.09,336.80 L211.32,336.01 L211.72,336.91 L211.80,334.70 L212.01,334.72 L212.35,334.41 L212.73,331.78 L212.98,334.29 L213.06,334.50 L213.32,332.88 L213.69,333.22 L214.43,332.37 L214.55,331.65 L215.16,329.93 L215.40,328.97 L215.62,330.04 L215.93,330.52 L216.02,329.85 L216.26,329.01 L216.35,327.59 L216.40,327.39 L216.63,327.97 L216.87,327.69 L217.01,328.53 L217.11,325.69 L217.31,326.99 L217.49,324.99 L217.64,325.38 L217.89,323.04 L218.05,324.90 L218.42,321.99 L219.03,322.93 L219.28,322.07 L219.54,321.60 L220.05,323.07 L220.17,321.88 L220.56,322.77 L220.69,322.72 L221.14,323.46 L221.35,322.63 L221.69,324.67 L221.94,323.53 L222.17,324.82 L222.53,324.93 L222.91,324.84 L223.19,326.83 L223.47,323.05 L223.63,322.07 L223.77,323.73 L224.27,324.30 L224.41,325.61 L224.43,324.77 L224.75,325.34 L224.85,325.59 L225.07,326.73 L225.39,328.25 L225.41,327.24 L225.36,328.59 L225.59,328.09 L225.78,328.51 L225.88,329.86 L225.91,329.17 L225.96,330.07 L226.22,331.32 L226.42,330.14 L226.39,331.75 L226.34,331.51 L226.80,333.81 L226.66,332.75 L226.94,332.58 L227.10,335.81 L227.23,335.43 L227.99,334.84 L228.32,332.92 L228.84,333.24 L229.24,334.34 L229.27,332.17 L229.47,332.04 L229.77,333.57 L229.88,331.47 L230.08,328.73 L230.28,328.41 L230.43,329.40 L230.81,329.67 L230.94,331.00 L231.14,328.79 L231.33,330.43 L231.38,333.47 L231.54,331.80 L231.79,332.72 L232.04,333.69 L232.40,334.27 L232.53,332.33 L232.87,334.25 L233.09,335.32 L233.52,334.24 L233.81,333.63 L233.71,335.57 L233.69,335.38 L233.77,333.52 L233.98,334.76 L234.04,332.07 L234.02,330.69 L234.26,332.61 L234.23,329.70 L234.55,329.71 L234.37,329.16 L234.42,332.03 L234.58,328.60 L234.70,328.51 L234.81,328.73 L235.29,325.81 L235.68,328.43 L235.93,324.55 L236.29,326.09 L236.42,327.14 L236.87,324.25 L237.22,325.48 L237.58,326.29 L237.81,327.59 L237.95,326.66 L238.56,325.90 L238.63,328.34 L239.34,328.17 L239.62,326.09 L240.09,327.36 L240.45,326.92 L241.02,325.24 L241.19,326.07 L241.60,327.38 L241.81,328.49 L241.91,328.56 L242.21,328.05 L242.46,330.45 L242.65,330.50 L242.90,331.33 L242.88,330.49 L243.11,332.10 L243.23,331.46 L243.23,331.70 L243.55,331.38 L243.73,331.88 L243.52,335.18 L243.72,334.98 L244.08,334.90 L244.11,334.56 L244.32,335.59 L244.52,335.97 L244.65,338.60 L245.00,336.55 L245.41,336.27 L245.89,334.61 L246.30,335.96 L246.81,334.86 L247.17,335.97 L247.25,334.05 L247.44,333.94 L247.37,334.13 L247.71,333.63 L247.52,331.84 L247.77,331.87 L247.74,331.14 L248.03,331.18 L247.97,330.86 L248.09,330.28 L248.41,328.97 L248.24,330.23 L248.55,327.01 L248.47,329.18 L248.78,328.31 L248.97,328.25 L249.07,327.85 L248.91,325.74 L249.08,325.28 L249.23,324.02 L249.35,325.38 L249.55,324.63 L249.62,321.48 L249.95,324.04 L250.12,321.83 L250.36,323.46 L250.27,322.57 L250.68,319.76 L250.85,319.18 L250.90,322.37 L251.34,318.15 L251.42,319.34 L251.68,319.39 L251.88,317.88 L252.11,316.25 L252.09,319.09 L252.26,317.53 L252.20,314.47 L252.44,316.58 L252.52,316.70 L252.54,314.65 L252.54,313.53 L253.00,313.53 L253.04,312.91 L253.05,312.61 L253.20,311.51 L253.36,311.07 L253.39,311.11 L253.54,311.64 L253.87,309.54 L253.98,309.86 L254.09,311.38 L254.24,310.48 L254.26,312.78 L254.63,310.70 L254.74,311.60 L255.00,314.81 L255.02,313.99 L255.21,313.41 L255.37,315.35 L255.37,315.35 L255.70,316.29 L255.83,316.26 L256.20,318.37 L256.38,318.18 L256.48,318.41 L256.64,318.09 L256.95,318.55 L257.15,317.86 L256.83,321.19 L257.33,320.48 L257.46,320.64 L257.48,320.03 L257.58,320.98 L257.69,322.98 L258.03,322.82 L257.96,323.67 L258.22,323.36 L258.19,323.65 L258.55,324.78 L258.34,326.14 L258.58,326.45 L258.78,327.33 L259.04,327.93 L259.05,328.28 L259.25,327.85 L259.38,328.93 L259.77,328.46 L259.61,330.41 L259.48,330.71 L259.78,330.47 L259.94,331.87 L260.48,330.90 L260.64,329.27 L261.26,329.37 L261.69,329.34 L261.93,328.54 L262.48,329.94 L262.83,329.39 L262.96,329.70 L263.03,324.75 L263.54,326.41 L263.59,325.67 L263.70,325.98 L263.62,325.22 L263.88,324.05 L263.78,324.85 L264.01,324.83 L264.28,323.57 L264.13,321.12 L264.47,320.66 L264.51,322.66 L264.34,320.82 L264.77,320.18 L264.51,320.97 L264.99,318.07 L265.12,319.09 L265.00,318.32 L265.12,317.60 L265.29,318.66 L265.49,314.93 L265.50,316.23 L265.59,316.96 L265.62,315.87 L265.89,314.13 L265.98,314.29 L266.08,314.50 L266.27,313.96 L266.14,313.27 L266.40,312.94 L266.36,312.46 L266.20,311.45 L266.75,312.33 L266.80,309.27 L266.84,308.68 L267.12,310.40 L266.98,309.67 L267.07,308.13 L267.48,307.48 L267.64,307.40 L267.60,306.72 L267.84,307.76 L267.91,306.81 L268.22,304.96 L268.27,304.99 L268.42,303.71 L268.61,304.66 L269.35,303.00 L269.80,301.67 L270.47,304.03 L270.72,304.19 L271.29,304.04 L271.85,304.18 L272.32,302.17 L272.72,302.28 L273.02,301.64 L273.50,303.25" fill="none" stroke="#00008b" stroke-width="2.05" stroke-linejoin="round"/>
<path d="M40.70,429.62 L41.77,429.61 L42.85,429.66 L43.92,429.71 L44.99,429.71 L46.06,429.67 L47.14,429.63 L48.21,429.64 L49.28,429.68 L50.35,429.73 L51.43,429.84 L52.50,429.96 L53.54,430.00 L54.59,430.05 L55.63,430.06 L56.67,429.96 L57.72,429.76 L58.76,429.59 L59.81,429.57 L60.85,429.64 L61.89,429.56 L62.94,429.31 L63.98,429.09 L65.03,429.03 L66.07,429.03 L67.11,428.94 L68.16,428.81 L69.20,428.75 L70.24,428.90 L71.28,429.04 L72.33,429.15 L73.37,429.26 L74.41,429.35 L75.45,429.37 L76.49,429.37 L77.53,429.45 L78.58,429.61 L79.62,429.78 L80.66,429.88 L81.70,429.96 L82.74,430.16 L83.78,430.34 L84.83,430.38 L85.87,430.39 L86.91,430.45 L87.95,430.54 L88.99,430.69 L90.03,430.91 L91.08,431.15 L92.12,431.35 L93.16,431.50 L94.20,431.61 L95.24,431.65 L96.28,431.68 L97.32,431.71 L98.36,431.81 L99.40,431.93 L100.44,431.97 L101.47,431.97 L102.51,431.98 L103.55,432.03 L104.59,432.09 L105.63,432.16 L106.67,432.23 L107.71,432.30 L108.75,432.39 L109.79,432.55 L110.83,432.66 L111.87,432.73 L112.91,432.81 L113.95,432.94 L114.99,433.11 L116.03,433.25 L117.06,433.41 L118.10,433.66 L119.14,433.83 L120.18,433.81 L121.22,433.78 L122.26,433.85 L123.30,434.05 L124.34,434.18 L125.38,434.20 L126.42,433.97 L127.47,433.73 L128.51,433.68 L129.55,433.69 L130.59,433.77 L131.63,433.94 L132.68,434.04 L133.72,433.96 L134.76,433.77 L135.80,433.64 L136.84,433.64 L137.89,433.57 L138.93,433.53 L139.97,433.60 L141.01,433.67 L142.06,433.75 L143.10,433.88 L144.14,434.04 L145.19,434.19 L146.23,434.34 L147.27,434.47 L148.31,434.54 L149.36,434.55 L150.40,434.60 L151.47,434.71 L152.53,434.80 L153.60,434.81 L154.67,434.80 L155.73,434.82 L156.80,434.89 L157.87,434.98 L158.93,435.06 L160.00,435.13 L161.04,435.26 L162.08,435.39 L163.12,435.43 L164.17,435.43 L165.21,435.45 L166.25,435.47 L167.29,435.62 L168.33,435.87 L169.38,436.02 L170.42,436.07 L171.46,436.11 L172.50,436.14 L173.54,436.16 L174.59,436.26 L175.63,436.54 L176.67,436.83 L177.71,436.91 L178.76,436.87 L179.80,436.91 L180.84,437.10 L181.89,437.32 L182.93,437.42 L183.97,437.49 L185.01,437.61 L186.06,437.74 L187.10,437.83 L188.10,438.27 L189.15,438.33 L190.19,438.43 L191.24,438.54 L192.28,438.55 L193.33,438.40 L194.38,438.23 L195.42,438.17 L196.47,438.26 L197.52,438.44 L198.56,438.64 L199.61,438.71 L200.65,438.60 L201.70,438.54 L202.74,438.72 L203.77,438.96 L204.81,439.08 L205.85,439.08 L206.89,439.07 L207.93,439.18 L208.96,439.32 L210.00,439.39 L211.04,439.41 L212.07,439.49 L213.11,439.65 L214.15,439.83 L215.19,439.92 L216.23,440.00 L217.26,440.09 L218.30,440.06 L219.34,439.97 L220.39,440.03 L221.43,440.16 L222.48,440.22 L223.52,440.16 L224.56,440.05 L225.61,440.06 L226.65,440.13 L227.69,440.19 L228.74,440.27 L229.78,440.32 L230.82,440.28 L231.87,440.19 L232.91,440.18 L233.96,440.21 L235.00,440.23 L236.04,440.26 L237.09,440.22 L238.13,440.19 L239.18,440.26 L240.22,440.33 L241.26,440.36 L242.31,440.41 L243.35,440.45 L244.39,440.50 L245.44,440.54 L246.48,440.54 L247.52,440.47 L248.57,440.39 L249.61,440.45 L250.66,440.70 L251.70,440.91 L252.74,440.94 L253.78,440.89 L254.82,440.82 L255.87,440.76 L256.91,440.79 L257.95,440.92 L258.99,441.02 L260.03,441.02 L261.07,440.98 L262.12,440.96 L263.16,440.87 L264.20,440.70 L265.23,440.13 L266.27,439.66 L267.30,439.17 L268.45,439.15 L269.60,439.21 L270.75,439.38 L271.90,439.56 L273.05,439.74 L274.20,439.91" fill="none" stroke="#8b0000" stroke-width="2.00" stroke-linejoin="round"/>
<path d="M44.60,409.70 L104.00,426.80 L167.20,426.80 L272.50,423.00" fill="none" stroke="#008000" stroke-width="2.00" stroke-dasharray="6.6 5.9"/>
<ellipse cx="44.60" cy="409.70" rx="2.60" ry="2.39" fill="#008000"/>
<ellipse cx="104.00" cy="426.80" rx="2.60" ry="2.39" fill="#008000"/>
<ellipse cx="167.20" cy="426.80" rx="2.60" ry="2.39" fill="#008000"/>
<ellipse cx="272.50" cy="423.00" rx="2.60" ry="2.39" fill="#008000"/>
</g>
<line x1="40.50" y1="258.70" x2="293.50" y2="258.70" stroke="#858585" stroke-width="1.10"/>
<line x1="40.50" y1="459.60" x2="293.50" y2="459.60" stroke="#858585" stroke-width="1.10"/>
<line x1="40.50" y1="258.70" x2="40.50" y2="459.60" stroke="#6a6ab2" stroke-width="1.10"/>
<line x1="293.50" y1="258.70" x2="293.50" y2="459.60" stroke="#b86868" stroke-width="1.10"/>
<text transform="translate(40.50,472.30) scale(0.930,1)" font-size="10.20" fill="#262626" text-anchor="middle" stroke="#262626" stroke-width="0.22">0</text>
<line x1="61.58" y1="459.60" x2="61.58" y2="456.90" stroke="#707070" stroke-width="0.9"/>
<line x1="61.58" y1="258.70" x2="61.58" y2="261.40" stroke="#707070" stroke-width="0.9"/>
<text transform="translate(61.58,472.30) scale(0.930,1)" font-size="10.20" fill="#262626" text-anchor="middle" stroke="#262626" stroke-width="0.22">5</text>
<line x1="82.67" y1="459.60" x2="82.67" y2="456.90" stroke="#707070" stroke-width="0.9"/>
<line x1="82.67" y1="258.70" x2="82.67" y2="261.40" stroke="#707070" stroke-width="0.9"/>
<text transform="translate(82.67,472.30) scale(0.930,1)" font-size="10.20" fill="#262626" text-anchor="middle" stroke="#262626" stroke-width="0.22">10</text>
<line x1="103.75" y1="459.60" x2="103.75" y2="456.90" stroke="#707070" stroke-width="0.9"/>
<line x1="103.75" y1="258.70" x2="103.75" y2="261.40" stroke="#707070" stroke-width="0.9"/>
<text transform="translate(103.75,472.30) scale(0.930,1)" font-size="10.20" fill="#262626" text-anchor="middle" stroke="#262626" stroke-width="0.22">15</text>
<line x1="124.83" y1="459.60" x2="124.83" y2="456.90" stroke="#707070" stroke-width="0.9"/>
<line x1="124.83" y1="258.70" x2="124.83" y2="261.40" stroke="#707070" stroke-width="0.9"/>
<text transform="translate(124.83,472.30) scale(0.930,1)" font-size="10.20" fill="#262626" text-anchor="middle" stroke="#262626" stroke-width="0.22">20</text>
<line x1="145.92" y1="459.60" x2="145.92" y2="456.90" stroke="#707070" stroke-width="0.9"/>
<line x1="145.92" y1="258.70" x2="145.92" y2="261.40" stroke="#707070" stroke-width="0.9"/>
<text transform="translate(145.92,472.30) scale(0.930,1)" font-size="10.20" fill="#262626" text-anchor="middle" stroke="#262626" stroke-width="0.22">25</text>
<line x1="167.00" y1="459.60" x2="167.00" y2="456.90" stroke="#707070" stroke-width="0.9"/>
<line x1="167.00" y1="258.70" x2="167.00" y2="261.40" stroke="#707070" stroke-width="0.9"/>
<text transform="translate(167.00,472.30) scale(0.930,1)" font-size="10.20" fill="#262626" text-anchor="middle" stroke="#262626" stroke-width="0.22">30</text>
<line x1="188.08" y1="459.60" x2="188.08" y2="456.90" stroke="#707070" stroke-width="0.9"/>
<line x1="188.08" y1="258.70" x2="188.08" y2="261.40" stroke="#707070" stroke-width="0.9"/>
<text transform="translate(188.08,472.30) scale(0.930,1)" font-size="10.20" fill="#262626" text-anchor="middle" stroke="#262626" stroke-width="0.22">35</text>
<line x1="209.17" y1="459.60" x2="209.17" y2="456.90" stroke="#707070" stroke-width="0.9"/>
<line x1="209.17" y1="258.70" x2="209.17" y2="261.40" stroke="#707070" stroke-width="0.9"/>
<text transform="translate(209.17,472.30) scale(0.930,1)" font-size="10.20" fill="#262626" text-anchor="middle" stroke="#262626" stroke-width="0.22">40</text>
<line x1="230.25" y1="459.60" x2="230.25" y2="456.90" stroke="#707070" stroke-width="0.9"/>
<line x1="230.25" y1="258.70" x2="230.25" y2="261.40" stroke="#707070" stroke-width="0.9"/>
<text transform="translate(230.25,472.30) scale(0.930,1)" font-size="10.20" fill="#262626" text-anchor="middle" stroke="#262626" stroke-width="0.22">45</text>
<line x1="251.33" y1="459.60" x2="251.33" y2="456.90" stroke="#707070" stroke-width="0.9"/>
<line x1="251.33" y1="258.70" x2="251.33" y2="261.40" stroke="#707070" stroke-width="0.9"/>
<text transform="translate(251.33,472.30) scale(0.930,1)" font-size="10.20" fill="#262626" text-anchor="middle" stroke="#262626" stroke-width="0.22">50</text>
<line x1="272.42" y1="459.60" x2="272.42" y2="456.90" stroke="#707070" stroke-width="0.9"/>
<line x1="272.42" y1="258.70" x2="272.42" y2="261.40" stroke="#707070" stroke-width="0.9"/>
<text transform="translate(272.42,472.30) scale(0.930,1)" font-size="10.20" fill="#262626" text-anchor="middle" stroke="#262626" stroke-width="0.22">55</text>
<text transform="translate(293.50,472.30) scale(0.930,1)" font-size="10.20" fill="#262626" text-anchor="middle" stroke="#262626" stroke-width="0.22">60</text>
<text transform="translate(37.20,463.50) scale(0.930,1)" font-size="10.20" fill="#1c1c8f" text-anchor="end" stroke="#1c1c8f" stroke-width="0.22">0.5</text>
<line x1="40.50" y1="439.51" x2="43.20" y2="439.51" stroke="#6a6ab2" stroke-width="0.8"/>
<text transform="translate(37.20,443.41) scale(0.930,1)" font-size="10.20" fill="#1c1c8f" text-anchor="end" stroke="#1c1c8f" stroke-width="0.22">0.51</text>
<line x1="40.50" y1="419.42" x2="43.20" y2="419.42" stroke="#6a6ab2" stroke-width="0.8"/>
<text transform="translate(37.20,423.32) scale(0.930,1)" font-size="10.20" fill="#1c1c8f" text-anchor="end" stroke="#1c1c8f" stroke-width="0.22">0.52</text>
<line x1="40.50" y1="399.33" x2="43.20" y2="399.33" stroke="#6a6ab2" stroke-width="0.8"/>
<text transform="translate(37.20,403.23) scale(0.930,1)" font-size="10.20" fill="#1c1c8f" text-anchor="end" stroke="#1c1c8f" stroke-width="0.22">0.53</text>
<line x1="40.50" y1="379.24" x2="43.20" y2="379.24" stroke="#6a6ab2" stroke-width="0.8"/>
<text transform="translate(37.20,383.14) scale(0.930,1)" font-size="10.20" fill="#1c1c8f" text-anchor="end" stroke="#1c1c8f" stroke-width="0.22">0.54</text>
<line x1="40.50" y1="359.15" x2="43.20" y2="359.15" stroke="#6a6ab2" stroke-width="0.8"/>
<text transform="translate(37.20,363.05) scale(0.930,1)" font-size="10.20" fill="#1c1c8f" text-anchor="end" stroke="#1c1c8f" stroke-width="0.22">0.55</text>
<line x1="40.50" y1="339.06" x2="43.20" y2="339.06" stroke="#6a6ab2" stroke-width="0.8"/>
<text transform="translate(37.20,342.96) scale(0.930,1)" font-size="10.20" fill="#1c1c8f" text-anchor="end" stroke="#1c1c8f" stroke-width="0.22">0.56</text>
<line x1="40.50" y1="318.97" x2="43.20" y2="318.97" stroke="#6a6ab2" stroke-width="0.8"/>
<text transform="translate(37.20,322.87) scale(0.930,1)" font-size="10.20" fill="#1c1c8f" text-anchor="end" stroke="#1c1c8f" stroke-width="0.22">0.57</text>
<line x1="40.50" y1="298.88" x2="43.20" y2="298.88" stroke="#6a6ab2" stroke-width="0.8"/>
<text transform="translate(37.20,302.78) scale(0.930,1)" font-size="10.20" fill="#1c1c8f" text-anchor="end" stroke="#1c1c8f" stroke-width="0.22">0.58</text>
<line x1="40.50" y1="278.79" x2="43.20" y2="278.79" stroke="#6a6ab2" stroke-width="0.8"/>
<text transform="translate(37.20,282.69) scale(0.930,1)" font-size="10.20" fill="#1c1c8f" text-anchor="end" stroke="#1c1c8f" stroke-width="0.22">0.59</text>
<text transform="translate(37.20,262.60) scale(0.930,1)" font-size="10.20" fill="#1c1c8f" text-anchor="end" stroke="#1c1c8f" stroke-width="0.22">0.6</text>
<text transform="translate(297.30,463.50) scale(0.930,1)" font-size="10.20" fill="#8b1a1a" text-anchor="start" stroke="#8b1a1a" stroke-width="0.22">0</text>
<line x1="293.50" y1="426.12" x2="290.80" y2="426.12" stroke="#b86868" stroke-width="0.8"/>
<text transform="translate(297.30,430.02) scale(0.930,1)" font-size="10.20" fill="#8b1a1a" text-anchor="start" stroke="#8b1a1a" stroke-width="0.22">10</text>
<line x1="293.50" y1="392.63" x2="290.80" y2="392.63" stroke="#b86868" stroke-width="0.8"/>
<text transform="translate(297.30,396.53) scale(0.930,1)" font-size="10.20" fill="#8b1a1a" text-anchor="start" stroke="#8b1a1a" stroke-width="0.22">20</text>
<line x1="293.50" y1="359.15" x2="290.80" y2="359.15" stroke="#b86868" stroke-width="0.8"/>
<text transform="translate(297.30,363.05) scale(0.930,1)" font-size="10.20" fill="#8b1a1a" text-anchor="start" stroke="#8b1a1a" stroke-width="0.22">30</text>
<line x1="293.50" y1="325.67" x2="290.80" y2="325.67" stroke="#b86868" stroke-width="0.8"/>
<text transform="translate(297.30,329.57) scale(0.930,1)" font-size="10.20" fill="#8b1a1a" text-anchor="start" stroke="#8b1a1a" stroke-width="0.22">40</text>
<line x1="293.50" y1="292.18" x2="290.80" y2="292.18" stroke="#b86868" stroke-width="0.8"/>
<text transform="translate(297.30,296.08) scale(0.930,1)" font-size="10.20" fill="#8b1a1a" text-anchor="start" stroke="#8b1a1a" stroke-width="0.22">50</text>
<text transform="translate(297.30,262.60) scale(0.930,1)" font-size="10.20" fill="#8b1a1a" text-anchor="start" stroke="#8b1a1a" stroke-width="0.22">60</text>
<text x="167.00" y="484.80" font-size="10.35" fill="#262626" text-anchor="middle" font-weight="normal" stroke="#262626" stroke-width="0.22">Time (minutes)</text>
<text x="162.40" y="254.40" font-size="11.50" fill="#000" text-anchor="middle" font-weight="bold" stroke="#000" stroke-width="0.22">Pig 3</text>
<text transform="translate(10.00,359.15) rotate(-90)" font-size="10.90" fill="#1c1c8f" stroke="#1c1c8f" stroke-width="0.22" text-anchor="middle">RMS<tspan font-size="8.18" dy="4.36">oxy</tspan><tspan dy="-4.36" dx="0.8"> (</tspan><tspan font-style="italic">g</tspan>)</text>
<text transform="translate(319.50,359.15) rotate(-90)" font-size="10.90" fill="#8b1a1a" stroke="#8b1a1a" stroke-width="0.22" text-anchor="middle">&#916;<tspan font-style="italic">P</tspan><tspan font-size="8.18" dy="4.36">oxy</tspan><tspan dy="-4.36" dx="0.5"> (mmHg)</tspan></text>
<path d="M61.88,475.30 L59.98,478.90 L63.78,478.90 Z" fill="#000"/>
<line x1="61.88" y1="478.30" x2="61.88" y2="483.00" stroke="#000" stroke-width="1.4"/>
<text x="48.75" y="403.20" font-size="8.00" fill="#008000" text-anchor="middle" font-weight="normal" stroke="#008000" stroke-width="0.10">3.5</text>
<text x="105.00" y="420.40" font-size="8.00" fill="#008000" text-anchor="middle" font-weight="normal" stroke="#008000" stroke-width="0.10">3.1</text>
<text x="166.80" y="420.70" font-size="8.00" fill="#008000" text-anchor="middle" font-weight="normal" stroke="#008000" stroke-width="0.10">3.1</text>
<text x="271.90" y="417.20" font-size="8.00" fill="#008000" text-anchor="middle" font-weight="normal" stroke="#008000" stroke-width="0.10">3.3</text>
<rect x="219.60" y="267.00" width="66.40" height="28.10" fill="#fff" stroke="#6e6e6e" stroke-width="0.9"/>
<line x1="221.80" y1="272.54" x2="245.40" y2="272.54" stroke="#00008b" stroke-width="1.8"/>
<line x1="221.80" y1="281.25" x2="245.40" y2="281.25" stroke="#8b0000" stroke-width="1.8"/>
<line x1="221.80" y1="289.87" x2="245.40" y2="289.87" stroke="#008000" stroke-width="1.8" stroke-dasharray="6.6 5.9"/>
<ellipse cx="233.60" cy="289.87" rx="2.60" ry="2.39" fill="#008000"/>
<text x="247.20" y="275.04" font-size="7.00" fill="#111" text-anchor="start" font-weight="normal" stroke="#111" stroke-width="0.14">RMS</text>
<text x="247.20" y="283.75" font-size="7.00" fill="#111" text-anchor="start" font-weight="normal" stroke="#111" stroke-width="0.14">&#916;<tspan font-style="italic">P</tspan></text>
<text x="247.20" y="292.37" font-size="7.00" fill="#111" text-anchor="start" font-weight="normal" stroke="#111" stroke-width="0.14">ECMO flow</text>
<clipPath id="c4"><rect x="397.50" y="258.00" width="251.70" height="202.60"/></clipPath>
<g clip-path="url(#c4)">
<path d="M397.48,422.48 L397.91,420.59 L398.66,424.34 L399.03,424.55 L399.51,424.71 L399.67,423.90 L399.98,423.40 L400.34,424.90 L400.60,425.87 L400.97,425.89 L401.25,426.28 L401.43,426.01 L401.89,424.92 L402.47,426.21 L402.93,427.37 L403.15,423.28 L403.61,423.70 L403.94,423.58 L404.58,424.76 L404.44,422.78 L404.63,423.63 L405.02,422.72 L405.10,421.66 L405.38,420.19 L405.41,421.69 L405.55,419.85 L405.73,421.15 L406.10,420.15 L406.32,418.91 L406.40,417.50 L406.52,417.82 L406.80,418.25 L407.12,416.84 L407.11,415.31 L407.47,417.00 L407.60,415.51 L407.77,414.13 L407.83,413.99 L408.11,412.64 L408.13,415.00 L408.35,413.59 L408.61,412.71 L408.97,411.41 L409.08,412.07 L409.13,409.28 L409.44,410.03 L409.56,409.91 L409.70,410.49 L409.97,409.45 L410.04,410.20 L410.40,407.18 L410.39,406.82 L410.91,407.85 L410.99,406.25 L411.54,406.30 L411.71,407.74 L412.17,405.73 L412.78,406.35 L413.03,406.62 L413.44,405.15 L414.08,403.82 L414.34,404.10 L414.89,404.68 L415.19,404.04 L415.31,405.81 L415.89,405.88 L416.35,404.64 L416.62,407.23 L417.18,407.14 L417.54,408.02 L417.92,406.15 L418.29,407.71 L418.35,408.30 L418.72,408.91 L418.83,408.21 L419.07,408.94 L419.32,408.44 L419.50,408.83 L419.51,411.73 L420.03,411.10 L420.45,411.98 L420.46,413.00 L420.84,414.52 L421.09,413.93 L421.44,414.06 L422.26,414.89 L422.44,413.63 L423.18,413.47 L423.71,415.08 L423.85,413.56 L424.63,412.39 L424.77,413.57 L425.14,414.46 L425.67,412.43 L426.07,411.50 L426.40,412.11 L427.01,410.33 L427.24,412.94 L427.61,410.23 L427.81,410.81 L428.15,410.51 L428.18,411.74 L428.53,409.55 L428.78,406.78 L428.89,409.24 L429.28,409.06 L429.76,407.99 L429.97,407.70 L430.15,407.52 L430.52,406.22 L430.98,405.53 L431.22,405.00 L431.80,405.19 L432.24,406.49 L432.61,403.02 L432.86,402.75 L433.47,404.78 L433.84,405.27 L434.34,402.05 L434.62,406.23 L435.13,404.09 L435.71,405.60 L436.38,407.34 L436.68,407.50 L436.96,406.14 L437.45,405.33 L437.80,408.51 L438.13,409.83 L438.30,408.30 L438.88,408.11 L439.38,406.88 L439.51,408.35 L439.91,411.67 L440.49,409.80 L440.89,410.85 L441.28,408.25 L441.54,409.64 L442.09,407.80 L442.43,408.63 L442.83,409.01 L443.20,407.64 L443.50,407.89 L444.25,407.86 L444.60,407.17 L445.07,407.53 L445.35,406.79 L445.68,406.38 L446.06,406.76 L446.19,405.75 L446.57,405.86 L446.93,403.94 L447.10,404.34 L447.65,402.84 L447.72,404.92 L448.25,401.30 L448.62,403.98 L448.82,401.46 L449.05,401.64 L449.36,401.61 L449.83,402.39 L450.13,401.40 L450.57,402.89 L451.11,403.46 L451.36,404.31 L451.69,404.31 L452.34,406.44 L452.58,404.11 L452.75,405.99 L453.27,407.30 L453.67,406.56 L454.46,406.23 L454.79,406.36 L454.98,407.36 L455.50,408.68 L455.72,409.31 L456.15,407.98 L456.68,409.23 L457.03,409.57 L457.56,408.90 L458.09,407.97 L458.32,408.28 L459.04,408.33 L459.40,410.39 L459.83,410.47 L460.38,409.88 L460.66,412.83 L461.46,411.37 L461.67,409.86 L462.30,412.96 L462.82,412.47 L463.15,409.57 L463.39,411.68 L463.99,409.74 L464.18,410.43 L464.65,408.29 L465.02,408.56 L465.36,408.00 L465.59,408.46 L465.84,408.86 L466.42,409.09 L466.77,408.39 L467.02,405.92 L467.33,402.78 L467.75,406.75 L467.71,404.91 L468.10,404.28 L468.35,404.59 L468.84,402.54 L469.16,403.15 L469.31,403.60 L469.53,403.71 L469.81,402.28 L470.15,401.76 L470.37,401.58 L470.83,401.85 L471.28,400.39 L471.38,401.47 L471.69,399.65 L472.35,399.88 L472.76,399.64 L473.04,398.97 L473.62,399.55 L473.92,400.04 L474.31,397.70 L474.88,398.88 L475.03,398.74 L475.39,397.04 L475.65,395.22 L475.92,397.58 L475.99,395.52 L476.35,394.76 L476.52,393.85 L476.82,392.50 L476.96,394.04 L477.13,392.44 L477.25,392.76 L477.45,391.16 L477.58,392.78 L477.87,391.67 L478.26,389.84 L478.16,389.52 L478.42,390.21 L478.49,387.14 L478.82,389.56 L478.72,388.77 L478.95,386.77 L479.31,388.70 L479.54,388.87 L479.46,387.17 L479.51,385.23 L479.96,382.42 L479.65,384.63 L480.06,384.43 L480.21,384.53 L480.50,381.57 L480.60,380.22 L480.67,383.18 L480.76,381.53 L480.85,381.62 L480.97,381.83 L481.18,381.75 L481.54,377.96 L481.52,379.34 L481.51,379.29 L481.59,379.03 L481.75,377.19 L481.75,377.42 L482.10,378.42 L482.20,378.09 L482.28,377.51 L482.28,374.38 L482.60,374.28 L482.44,374.76 L482.42,373.46 L482.67,372.62 L482.66,373.23 L482.90,372.31 L482.90,371.18 L483.00,371.55 L483.19,371.19 L483.31,368.82 L483.53,371.01 L483.62,370.05 L483.60,367.83 L484.01,370.21 L484.16,367.93 L484.48,368.22 L484.84,365.60 L484.83,366.13 L485.01,365.75 L485.39,365.52 L485.35,366.51 L485.71,365.71 L486.20,364.74 L486.35,363.13 L486.60,363.75 L486.84,364.92 L487.09,360.08 L487.15,362.39 L487.50,360.32 L487.77,360.94 L487.91,362.86 L488.09,360.51 L488.58,359.58 L488.79,359.20 L489.18,360.56 L489.40,357.86 L489.75,356.85 L489.97,357.70 L490.37,357.27 L490.41,357.34 L490.70,356.74 L490.92,355.99 L491.21,356.37 L491.39,354.19 L491.77,355.57 L491.86,353.31 L492.10,355.07 L492.36,355.00 L492.27,353.09 L492.70,351.72 L492.72,349.65 L492.85,351.72 L493.02,350.56 L492.96,350.49 L493.48,348.94 L493.58,349.43 L493.46,349.28 L493.85,347.71 L493.84,349.43 L494.26,347.81 L494.33,345.69 L494.49,346.23 L494.69,346.60 L494.59,345.05 L494.71,344.02 L495.10,345.17 L495.22,344.72 L495.36,343.25 L495.49,344.38 L495.57,340.29 L496.03,344.94 L496.15,342.41 L496.30,342.35 L496.38,341.25 L496.75,339.34 L496.85,340.39 L496.99,339.47 L497.09,340.08 L497.42,337.62 L497.58,339.06 L497.83,336.63 L497.92,338.50 L498.43,336.60 L498.42,336.91 L498.60,334.06 L498.53,335.79 L499.01,334.99 L498.88,335.16 L499.26,334.16 L499.36,333.61 L499.58,331.92 L499.86,332.71 L500.26,334.52 L500.15,330.22 L500.27,330.33 L500.54,330.98 L500.53,328.95 L500.92,328.95 L501.20,327.69 L501.08,328.88 L501.31,326.67 L501.45,325.56 L501.70,326.08 L501.94,326.63 L501.98,325.37 L502.04,325.43 L502.46,326.60 L502.43,323.65 L502.56,323.56 L502.95,324.13 L503.08,324.01 L503.11,322.58 L503.54,321.19 L503.54,323.38 L503.59,320.38 L503.79,318.85 L503.92,319.29 L504.46,319.83 L504.56,320.76 L504.79,318.96 L505.16,317.40 L505.06,319.46 L505.35,318.27 L505.99,316.01 L506.06,318.10 L506.10,313.85 L506.38,314.78 L506.77,313.00 L506.87,315.32 L507.13,313.86 L507.14,314.94 L507.45,312.44 L507.79,312.30 L508.03,311.60 L508.44,311.93 L508.62,311.18 L508.67,308.72 L508.94,307.98 L508.85,309.59 L509.05,309.62 L509.29,310.37 L509.47,307.02 L509.68,308.26 L509.76,307.99 L510.02,306.57 L510.40,305.43 L510.33,307.65 L510.44,305.17 L510.49,303.12 L510.89,302.65 L510.85,304.77 L511.07,302.58 L511.43,304.57 L511.51,303.35 L511.65,303.36 L511.59,301.95 L511.91,301.64 L511.93,300.21 L511.88,300.23 L512.06,298.85 L512.17,299.06 L512.40,298.77 L512.42,300.09 L512.25,297.38 L512.54,297.18 L512.69,295.91 L512.76,294.51 L512.83,295.60 L512.98,294.08 L512.90,295.22 L513.10,294.01 L512.97,294.21 L513.42,292.49 L513.49,292.55 L513.37,293.20 L513.35,290.13 L513.51,290.13 L513.62,289.15 L513.69,289.27 L513.90,290.29 L514.00,287.93 L514.24,288.07 L514.00,285.64 L514.12,287.32 L514.22,285.44 L514.33,287.99 L514.51,286.59 L514.59,286.01 L514.78,284.16 L514.81,286.17 L515.31,283.43 L515.54,282.09 L515.96,281.47 L516.24,282.80 L516.58,281.86 L516.66,281.51 L517.05,282.11 L517.15,280.64 L517.61,280.80 L517.42,280.83 L517.92,279.73 L518.19,279.81 L518.21,278.35 L518.47,278.18 L518.79,278.78 L518.97,276.25 L519.29,277.93 L519.68,277.32 L519.95,274.00 L520.21,274.25 L520.71,273.90 L520.73,275.17 L521.24,273.69 L521.44,273.35 L521.61,274.30 L522.21,275.02 L522.15,274.27 L522.33,275.21 L522.61,277.21 L522.76,276.17 L523.02,279.00 L523.17,278.32 L523.44,277.76 L523.79,277.74 L523.59,277.02 L523.64,276.88 L523.79,275.17 L524.15,274.76 L524.04,274.93 L524.19,272.81 L524.24,271.99 L524.28,273.10 L524.30,271.50 L524.36,272.16 L524.61,272.79 L524.83,271.91 L524.73,270.64 L524.88,270.00 L524.90,268.74 L525.12,268.62 L525.19,266.97 L525.38,268.41 L525.22,269.54 L525.78,265.69 L525.69,267.28 L525.94,264.79 L526.09,264.26 L526.62,263.86 L526.72,264.73 L526.84,264.20 L527.15,262.05 L527.07,263.58 L527.57,262.64 L527.64,262.71 L527.91,260.65 L528.07,262.83 L528.47,261.40 L528.73,261.03 L528.76,263.41 L529.18,263.13 L529.45,263.01 L529.59,263.52 L530.06,264.93 L530.43,265.32 L530.67,264.45 L530.66,264.68 L530.82,266.77 L530.93,266.41 L531.26,267.50 L531.52,266.49 L531.56,266.57 L531.91,270.23 L531.97,271.16 L532.12,270.34 L532.02,271.10 L532.26,272.60 L532.68,272.56 L532.79,271.26 L532.85,272.69 L533.00,271.25 L532.96,273.40 L533.36,273.25 L533.72,273.68 L533.72,275.15 L533.91,274.19 L534.03,275.78 L534.29,275.82 L534.45,276.44 L534.43,275.81 L534.74,276.84 L534.87,275.17 L535.12,278.40 L535.59,278.46 L535.35,278.69 L535.53,280.63 L535.90,280.72 L536.13,282.76 L536.36,281.89 L536.48,282.03 L536.72,282.43 L536.95,282.05 L537.01,283.90 L537.17,284.31 L537.27,283.89 L537.23,284.89 L537.21,285.63 L537.26,287.75 L537.52,285.79 L537.71,288.70 L537.57,289.00 L537.81,289.68 L537.74,287.25 L538.18,289.40 L538.01,289.06 L538.18,291.84 L538.14,289.45 L538.52,289.96 L538.39,291.57 L538.54,290.41 L538.73,292.31 L538.95,293.15 L538.91,294.06 L538.85,295.22 L539.15,295.16 L539.23,295.88 L539.21,294.63 L539.28,295.11 L539.37,296.31 L539.60,296.12 L539.65,296.04 L539.95,296.14 L539.75,299.89 L540.12,298.57 L539.99,298.97 L540.15,299.69 L540.24,299.54 L540.14,300.77 L540.56,301.00 L540.66,301.08 L540.84,304.02 L540.65,302.32 L540.78,303.96 L540.89,305.21 L540.89,304.80 L541.13,305.43 L541.06,305.20 L541.26,306.47 L541.26,305.87 L541.25,307.17 L541.30,307.41 L541.34,307.34 L541.55,309.92 L541.53,307.71 L541.79,311.30 L541.92,309.78 L541.88,310.29 L542.00,308.37 L542.05,312.73 L542.03,311.96 L542.20,311.57 L542.46,311.27 L542.59,313.21 L542.30,312.31 L542.59,314.03 L542.76,315.58 L542.71,315.33 L542.95,317.32 L543.01,316.42 L543.16,317.34 L543.04,315.94 L543.10,318.32 L543.19,317.29 L543.30,318.04 L543.22,319.94 L543.52,319.58 L543.63,321.66 L543.83,318.32 L543.93,320.13 L544.01,321.55 L543.83,324.16 L544.15,323.35 L544.35,322.98 L544.47,324.69 L544.36,325.18 L544.31,326.59 L544.41,325.18 L544.78,327.11 L544.77,325.82 L544.79,327.92 L544.86,327.94 L545.21,328.65 L545.28,329.24 L545.32,330.59 L545.25,331.89 L545.52,329.67 L545.46,329.76 L545.74,332.27 L545.87,330.75 L545.82,331.97 L545.87,330.80 L546.03,332.99 L546.23,333.02 L546.21,332.87 L546.78,333.63 L547.36,334.14 L547.50,331.05 L548.02,332.15 L548.36,332.03 L548.73,330.32 L549.45,331.75 L549.81,330.90 L550.47,333.10 L550.96,332.81 L551.29,331.30 L551.90,332.24 L552.48,333.36 L553.01,333.98 L553.42,334.15 L554.04,333.35 L554.36,333.54 L554.87,333.60 L555.30,333.39 L556.06,333.65 L556.28,333.28 L556.38,336.31 L557.29,335.26 L557.46,334.67 L557.54,332.36 L558.12,331.97 L558.54,333.51 L558.79,333.20 L558.96,331.77 L559.09,331.69 L559.50,332.48 L559.87,331.57 L559.93,331.20 L560.51,332.64 L560.64,330.16 L560.86,330.44 L561.41,328.89 L561.42,327.65 L561.93,328.93 L562.54,328.10 L562.70,328.76 L563.03,327.67 L563.39,327.83 L563.84,327.69 L564.02,326.38 L564.70,324.84 L564.84,324.90 L565.22,324.17 L565.88,327.82 L566.23,326.83 L566.66,326.77 L567.21,327.24 L567.65,328.51 L568.17,328.38 L568.38,328.27 L568.42,329.84 L568.87,329.54 L569.12,328.28 L569.56,330.08 L569.59,331.35 L569.90,332.06 L569.96,331.30 L570.25,330.60 L570.58,333.69 L570.78,331.28 L571.28,334.45 L571.56,330.90 L571.89,331.87 L572.23,331.14 L572.63,332.25 L572.61,331.53 L573.18,330.54 L573.23,331.60 L573.62,330.37 L573.83,330.33 L574.12,328.28 L574.75,328.89 L575.43,327.66 L576.04,327.66 L576.44,328.84 L576.85,328.40 L577.37,325.88 L577.96,329.20 L578.12,328.71 L578.16,328.38 L578.71,330.23 L579.11,330.10 L579.25,329.20 L579.69,331.47 L579.98,331.81 L580.02,333.29 L580.85,331.57 L581.14,331.98 L581.10,331.81 L581.50,332.93 L582.15,334.15 L582.42,333.30 L582.89,334.01 L583.16,334.58 L583.68,332.52 L583.81,335.64 L584.19,336.47 L584.84,336.88 L585.26,336.41 L585.67,335.53 L586.38,335.91 L586.68,335.12 L587.25,334.72 L587.93,337.60 L588.22,334.93 L588.47,335.81 L588.71,336.61 L588.72,338.50 L589.19,338.36 L589.66,338.34 L589.77,340.38 L589.92,336.92 L590.15,339.28 L590.31,339.07 L590.69,339.77 L591.03,340.91 L591.45,340.39 L591.74,341.22 L592.24,340.82 L592.26,339.67 L592.72,341.29 L593.26,343.35 L593.79,341.49 L593.98,344.25 L594.17,342.47 L595.04,345.22 L595.32,344.89 L595.69,342.96 L596.16,343.44 L596.49,342.91 L596.81,341.56 L597.49,342.53 L597.76,343.10 L598.16,343.69 L598.91,341.97 L599.29,342.19 L599.53,343.85 L599.76,343.70 L600.07,342.36 L600.44,343.91 L601.01,344.78 L601.06,346.72 L601.28,344.59 L601.45,346.80 L601.89,347.93 L602.05,345.25 L602.48,346.45 L602.53,348.18 L602.82,348.82 L603.35,347.59 L603.53,348.62 L603.99,349.15 L604.07,347.95 L604.64,347.82 L604.69,351.29 L605.03,349.64 L605.53,352.16 L605.75,350.11 L606.11,351.39 L606.32,352.27 L606.63,351.86 L606.94,356.04 L607.18,352.86 L607.49,355.44 L607.93,353.72 L608.09,356.02 L608.31,356.16 L608.63,355.75 L609.10,353.03 L609.19,355.87 L609.49,356.72 L609.68,355.71 L610.10,353.91 L610.13,352.89 L610.24,353.20 L610.33,351.23 L610.61,353.22 L610.82,350.57 L611.05,351.90 L611.50,349.63 L611.49,349.51 L611.90,350.30 L612.26,350.71 L612.90,347.16 L613.26,349.35 L613.58,349.93 L613.96,348.51 L614.43,349.98 L615.19,345.68 L615.33,349.28 L615.80,347.86 L616.19,348.67 L616.90,349.35 L617.29,348.04 L617.71,347.71 L618.33,347.64 L618.84,347.93 L618.94,349.68 L619.49,349.96 L620.17,349.62 L620.08,349.54 L620.82,352.68 L621.12,352.14 L621.35,352.39 L621.58,352.43 L622.13,351.38 L622.41,352.43 L622.98,354.28 L623.31,352.72 L623.51,353.72 L623.79,352.83 L623.83,350.06 L624.17,351.22 L624.19,350.43 L624.35,350.29 L624.68,351.20 L625.07,350.08 L625.03,348.32 L625.32,348.60 L625.71,347.80 L625.86,346.63 L626.15,348.61 L626.12,346.35 L626.56,346.60 L626.55,346.13 L627.20,344.61 L627.26,345.22 L627.33,343.78 L627.64,344.11 L627.97,344.62 L628.32,344.50 L628.52,343.10 L628.76,343.85 L628.98,342.75 L629.18,341.26 L629.70,339.60 L630.04,342.17 L630.58,341.79 L630.89,340.91 L631.17,341.44 L631.86,340.71 L632.17,340.43 L632.96,340.46 L633.26,340.22 L633.46,339.53 L634.11,340.38 L634.41,339.61 L635.07,340.33 L635.53,341.26 L635.89,340.83 L636.30,342.54 L636.46,343.82 L636.95,340.96 L637.20,343.17 L637.62,344.53 L638.24,342.75 L638.44,344.12 L638.97,344.61 L639.58,345.31 L639.86,347.08 L640.14,344.39 L640.58,346.21 L640.75,345.07 L641.41,346.21 L641.72,347.06 L642.46,347.55 L642.64,348.17 L642.92,347.21 L643.36,346.78 L644.10,349.28 L644.59,349.62 L644.81,349.28 L645.47,349.17 L645.92,350.38 L646.26,347.62 L646.47,349.63 L646.53,349.82 L646.56,349.66 L646.91,350.64 L647.05,351.87 L647.30,352.49 L647.40,353.45 L647.66,352.91 L647.79,352.88 L647.83,355.40 L648.15,353.41 L648.36,355.34 L648.36,355.24 L648.57,357.17 L648.95,355.24 L649.09,357.14 L649.09,357.14" fill="none" stroke="#00008b" stroke-width="2.05" stroke-linejoin="round"/>
<path d="M397.60,391.64 L397.66,390.31 L397.72,389.08 L397.78,388.05 L397.84,386.95 L397.90,385.66 L399.50,384.57 L400.70,384.44 L401.90,384.33 L403.10,384.15 L404.30,383.95 L405.34,383.81 L406.38,383.64 L407.43,383.51 L408.47,383.43 L409.51,383.39 L410.55,383.38 L411.59,383.41 L412.63,383.36 L413.68,383.20 L414.72,383.08 L415.76,383.02 L416.80,382.92 L417.84,382.93 L418.89,383.07 L419.93,383.07 L420.98,382.87 L422.02,382.68 L423.06,382.61 L424.11,382.64 L425.15,382.73 L426.19,382.83 L427.24,382.84 L428.28,382.73 L429.32,382.59 L430.37,382.61 L431.41,382.75 L432.46,382.83 L433.50,382.84 L434.54,382.87 L435.59,382.84 L436.63,382.81 L437.68,382.87 L438.72,382.92 L439.76,382.87 L440.81,382.76 L441.85,382.71 L442.89,382.82 L443.94,382.94 L444.98,382.93 L446.02,382.90 L447.07,382.90 L448.11,382.81 L449.16,382.67 L450.20,382.67 L451.24,382.68 L452.27,382.72 L453.31,382.65 L454.35,382.46 L455.39,382.25 L456.43,382.13 L457.46,382.07 L458.50,382.03 L459.54,381.87 L460.57,381.64 L461.61,381.45 L462.65,381.34 L463.69,381.20 L464.73,381.03 L465.76,380.85 L466.80,380.63 L467.84,380.47 L468.88,380.34 L469.93,380.18 L470.97,379.96 L472.01,379.74 L473.05,379.62 L474.09,379.55 L475.13,379.38 L476.18,379.12 L477.22,378.90 L478.26,378.82 L479.30,378.83 L480.34,378.93 L481.38,378.98 L482.43,379.01 L483.47,378.95 L484.51,378.79 L485.55,378.76 L486.59,378.88 L487.63,378.89 L488.68,378.77 L489.72,378.72 L490.76,378.79 L491.80,378.90 L492.84,378.86 L493.88,378.78 L494.93,378.72 L495.97,378.66 L497.01,378.50 L498.05,378.30 L499.09,378.18 L500.13,378.10 L501.18,378.01 L502.22,377.95 L503.26,377.82 L504.30,377.59 L505.36,377.47 L506.43,377.50 L507.49,377.47 L508.55,377.29 L509.62,377.21 L510.68,377.31 L511.75,377.35 L512.81,377.25 L513.87,377.16 L514.94,377.08 L516.00,376.96 L517.04,376.83 L518.08,376.86 L519.12,376.91 L520.16,376.84 L521.20,376.62 L522.24,376.28 L523.28,375.96 L524.32,375.82 L525.36,375.81 L526.40,375.77 L527.44,375.57 L528.48,375.29 L529.52,375.09 L530.56,375.02 L531.60,374.92 L532.64,374.65 L533.68,374.34 L534.72,374.17 L535.76,374.14 L536.80,374.14 L537.64,373.58 L538.48,372.96 L539.32,372.38 L540.16,371.71 L541.00,370.98 L542.04,370.71 L543.08,370.57 L544.11,370.44 L545.15,370.22 L546.19,369.94 L547.22,369.71 L548.26,369.53 L549.30,369.29 L550.35,368.87 L551.40,368.47 L552.45,368.16 L553.50,367.88 L554.55,367.57 L555.60,367.28 L556.65,367.00 L557.70,366.60 L558.74,366.20 L559.78,365.90 L560.82,365.64 L561.86,365.38 L562.90,365.14 L563.94,364.92 L564.98,364.70 L566.02,364.45 L567.06,364.12 L568.10,363.73 L569.14,363.01 L570.17,362.33 L571.21,361.74 L572.25,361.23 L573.29,361.04 L574.34,360.76 L575.38,360.49 L576.43,360.25 L577.48,359.98 L578.52,359.63 L579.57,359.25 L580.61,358.93 L581.66,358.72 L582.70,358.48 L583.74,358.28 L584.78,358.15 L585.83,358.05 L586.87,357.88 L587.91,357.66 L588.95,357.46 L589.99,357.35 L591.03,357.28 L592.08,357.21 L593.12,357.13 L594.16,357.03 L595.20,356.89 L596.24,356.77 L597.28,356.61 L598.32,356.42 L599.36,356.31 L600.40,356.32 L601.44,356.24 L602.48,355.97 L603.52,355.65 L604.56,355.47 L605.60,355.43 L606.64,355.49 L607.69,355.51 L608.73,355.56 L609.77,355.61 L610.81,355.60 L611.86,355.57 L612.90,355.47 L613.94,355.27 L614.99,355.14 L616.03,355.18 L617.07,355.26 L618.11,355.34 L619.16,355.40 L620.20,355.35 L621.24,355.29 L622.28,355.33 L623.33,355.37 L624.37,355.34 L625.41,355.28 L626.45,355.22 L627.49,355.09 L628.53,354.93 L629.58,354.86 L630.62,354.95 L631.66,355.11 L632.70,355.16 L633.74,355.03 L634.78,354.84 L635.81,354.67 L636.85,354.56 L637.89,354.59 L638.92,354.62 L639.96,354.49 L641.00,354.38 L642.02,354.52 L643.05,354.64 L644.08,354.71 L645.10,354.77 L646.12,354.84 L647.15,354.95 L648.18,355.15 L649.20,355.32" fill="none" stroke="#8b0000" stroke-width="2.00" stroke-linejoin="round"/>
<path d="M401.20,433.00 L460.20,439.70 L523.30,439.70 L645.60,439.70" fill="none" stroke="#008000" stroke-width="2.00" stroke-dasharray="6.6 5.9"/>
<ellipse cx="401.20" cy="433.00" rx="2.60" ry="2.39" fill="#008000"/>
<ellipse cx="460.20" cy="439.70" rx="2.60" ry="2.39" fill="#008000"/>
<ellipse cx="523.30" cy="439.70" rx="2.60" ry="2.39" fill="#008000"/>
<ellipse cx="645.60" cy="439.70" rx="2.60" ry="2.39" fill="#008000"/>
</g>
<line x1="397.50" y1="259.00" x2="649.20" y2="259.00" stroke="#858585" stroke-width="1.10"/>
<line x1="397.50" y1="459.60" x2="649.20" y2="459.60" stroke="#858585" stroke-width="1.10"/>
<line x1="397.50" y1="259.00" x2="397.50" y2="459.60" stroke="#6a6ab2" stroke-width="1.10"/>
<line x1="649.20" y1="259.00" x2="649.20" y2="459.60" stroke="#b86868" stroke-width="1.10"/>
<text transform="translate(397.50,472.30) scale(0.930,1)" font-size="10.20" fill="#262626" text-anchor="middle" stroke="#262626" stroke-width="0.22">0</text>
<line x1="418.48" y1="459.60" x2="418.48" y2="456.90" stroke="#707070" stroke-width="0.9"/>
<line x1="418.48" y1="259.00" x2="418.48" y2="261.70" stroke="#707070" stroke-width="0.9"/>
<text transform="translate(418.48,472.30) scale(0.930,1)" font-size="10.20" fill="#262626" text-anchor="middle" stroke="#262626" stroke-width="0.22">5</text>
<line x1="439.45" y1="459.60" x2="439.45" y2="456.90" stroke="#707070" stroke-width="0.9"/>
<line x1="439.45" y1="259.00" x2="439.45" y2="261.70" stroke="#707070" stroke-width="0.9"/>
<text transform="translate(439.45,472.30) scale(0.930,1)" font-size="10.20" fill="#262626" text-anchor="middle" stroke="#262626" stroke-width="0.22">10</text>
<line x1="460.43" y1="459.60" x2="460.43" y2="456.90" stroke="#707070" stroke-width="0.9"/>
<line x1="460.43" y1="259.00" x2="460.43" y2="261.70" stroke="#707070" stroke-width="0.9"/>
<text transform="translate(460.43,472.30) scale(0.930,1)" font-size="10.20" fill="#262626" text-anchor="middle" stroke="#262626" stroke-width="0.22">15</text>
<line x1="481.40" y1="459.60" x2="481.40" y2="456.90" stroke="#707070" stroke-width="0.9"/>
<line x1="481.40" y1="259.00" x2="481.40" y2="261.70" stroke="#707070" stroke-width="0.9"/>
<text transform="translate(481.40,472.30) scale(0.930,1)" font-size="10.20" fill="#262626" text-anchor="middle" stroke="#262626" stroke-width="0.22">20</text>
<line x1="502.38" y1="459.60" x2="502.38" y2="456.90" stroke="#707070" stroke-width="0.9"/>
<line x1="502.38" y1="259.00" x2="502.38" y2="261.70" stroke="#707070" stroke-width="0.9"/>
<text transform="translate(502.38,472.30) scale(0.930,1)" font-size="10.20" fill="#262626" text-anchor="middle" stroke="#262626" stroke-width="0.22">25</text>
<line x1="523.35" y1="459.60" x2="523.35" y2="456.90" stroke="#707070" stroke-width="0.9"/>
<line x1="523.35" y1="259.00" x2="523.35" y2="261.70" stroke="#707070" stroke-width="0.9"/>
<text transform="translate(523.35,472.30) scale(0.930,1)" font-size="10.20" fill="#262626" text-anchor="middle" stroke="#262626" stroke-width="0.22">30</text>
<line x1="544.33" y1="459.60" x2="544.33" y2="456.90" stroke="#707070" stroke-width="0.9"/>
<line x1="544.33" y1="259.00" x2="544.33" y2="261.70" stroke="#707070" stroke-width="0.9"/>
<text transform="translate(544.33,472.30) scale(0.930,1)" font-size="10.20" fill="#262626" text-anchor="middle" stroke="#262626" stroke-width="0.22">35</text>
<line x1="565.30" y1="459.60" x2="565.30" y2="456.90" stroke="#707070" stroke-width="0.9"/>
<line x1="565.30" y1="259.00" x2="565.30" y2="261.70" stroke="#707070" stroke-width="0.9"/>
<text transform="translate(565.30,472.30) scale(0.930,1)" font-size="10.20" fill="#262626" text-anchor="middle" stroke="#262626" stroke-width="0.22">40</text>
<line x1="586.27" y1="459.60" x2="586.27" y2="456.90" stroke="#707070" stroke-width="0.9"/>
<line x1="586.27" y1="259.00" x2="586.27" y2="261.70" stroke="#707070" stroke-width="0.9"/>
<text transform="translate(586.27,472.30) scale(0.930,1)" font-size="10.20" fill="#262626" text-anchor="middle" stroke="#262626" stroke-width="0.22">45</text>
<line x1="607.25" y1="459.60" x2="607.25" y2="456.90" stroke="#707070" stroke-width="0.9"/>
<line x1="607.25" y1="259.00" x2="607.25" y2="261.70" stroke="#707070" stroke-width="0.9"/>
<text transform="translate(607.25,472.30) scale(0.930,1)" font-size="10.20" fill="#262626" text-anchor="middle" stroke="#262626" stroke-width="0.22">50</text>
<line x1="628.23" y1="459.60" x2="628.23" y2="456.90" stroke="#707070" stroke-width="0.9"/>
<line x1="628.23" y1="259.00" x2="628.23" y2="261.70" stroke="#707070" stroke-width="0.9"/>
<text transform="translate(628.23,472.30) scale(0.930,1)" font-size="10.20" fill="#262626" text-anchor="middle" stroke="#262626" stroke-width="0.22">55</text>
<text transform="translate(649.20,472.30) scale(0.930,1)" font-size="10.20" fill="#262626" text-anchor="middle" stroke="#262626" stroke-width="0.22">60</text>
<text transform="translate(394.20,463.50) scale(0.930,1)" font-size="10.20" fill="#1c1c8f" text-anchor="end" stroke="#1c1c8f" stroke-width="0.22">0.24</text>
<line x1="397.50" y1="426.17" x2="400.20" y2="426.17" stroke="#6a6ab2" stroke-width="0.8"/>
<text transform="translate(394.20,430.07) scale(0.930,1)" font-size="10.20" fill="#1c1c8f" text-anchor="end" stroke="#1c1c8f" stroke-width="0.22">0.25</text>
<line x1="397.50" y1="392.73" x2="400.20" y2="392.73" stroke="#6a6ab2" stroke-width="0.8"/>
<text transform="translate(394.20,396.63) scale(0.930,1)" font-size="10.20" fill="#1c1c8f" text-anchor="end" stroke="#1c1c8f" stroke-width="0.22">0.26</text>
<line x1="397.50" y1="359.30" x2="400.20" y2="359.30" stroke="#6a6ab2" stroke-width="0.8"/>
<text transform="translate(394.20,363.20) scale(0.930,1)" font-size="10.20" fill="#1c1c8f" text-anchor="end" stroke="#1c1c8f" stroke-width="0.22">0.27</text>
<line x1="397.50" y1="325.87" x2="400.20" y2="325.87" stroke="#6a6ab2" stroke-width="0.8"/>
<text transform="translate(394.20,329.77) scale(0.930,1)" font-size="10.20" fill="#1c1c8f" text-anchor="end" stroke="#1c1c8f" stroke-width="0.22">0.28</text>
<line x1="397.50" y1="292.43" x2="400.20" y2="292.43" stroke="#6a6ab2" stroke-width="0.8"/>
<text transform="translate(394.20,296.33) scale(0.930,1)" font-size="10.20" fill="#1c1c8f" text-anchor="end" stroke="#1c1c8f" stroke-width="0.22">0.29</text>
<text transform="translate(394.20,262.90) scale(0.930,1)" font-size="10.20" fill="#1c1c8f" text-anchor="end" stroke="#1c1c8f" stroke-width="0.22">0.3</text>
<text transform="translate(653.00,463.50) scale(0.930,1)" font-size="10.20" fill="#8b1a1a" text-anchor="start" stroke="#8b1a1a" stroke-width="0.22">0</text>
<line x1="649.20" y1="426.17" x2="646.50" y2="426.17" stroke="#b86868" stroke-width="0.8"/>
<text transform="translate(653.00,430.07) scale(0.930,1)" font-size="10.20" fill="#8b1a1a" text-anchor="start" stroke="#8b1a1a" stroke-width="0.22">10</text>
<line x1="649.20" y1="392.73" x2="646.50" y2="392.73" stroke="#b86868" stroke-width="0.8"/>
<text transform="translate(653.00,396.63) scale(0.930,1)" font-size="10.20" fill="#8b1a1a" text-anchor="start" stroke="#8b1a1a" stroke-width="0.22">20</text>
<line x1="649.20" y1="359.30" x2="646.50" y2="359.30" stroke="#b86868" stroke-width="0.8"/>
<text transform="translate(653.00,363.20) scale(0.930,1)" font-size="10.20" fill="#8b1a1a" text-anchor="start" stroke="#8b1a1a" stroke-width="0.22">30</text>
<line x1="649.20" y1="325.87" x2="646.50" y2="325.87" stroke="#b86868" stroke-width="0.8"/>
<text transform="translate(653.00,329.77) scale(0.930,1)" font-size="10.20" fill="#8b1a1a" text-anchor="start" stroke="#8b1a1a" stroke-width="0.22">40</text>
<line x1="649.20" y1="292.43" x2="646.50" y2="292.43" stroke="#b86868" stroke-width="0.8"/>
<text transform="translate(653.00,296.33) scale(0.930,1)" font-size="10.20" fill="#8b1a1a" text-anchor="start" stroke="#8b1a1a" stroke-width="0.22">50</text>
<text transform="translate(653.00,262.90) scale(0.930,1)" font-size="10.20" fill="#8b1a1a" text-anchor="start" stroke="#8b1a1a" stroke-width="0.22">60</text>
<text x="523.35" y="484.80" font-size="10.35" fill="#262626" text-anchor="middle" font-weight="normal" stroke="#262626" stroke-width="0.22">Time (minutes)</text>
<text x="518.60" y="254.70" font-size="11.50" fill="#000" text-anchor="middle" font-weight="bold" stroke="#000" stroke-width="0.22">Pig 4</text>
<text transform="translate(366.20,359.30) rotate(-90)" font-size="10.90" fill="#1c1c8f" stroke="#1c1c8f" stroke-width="0.22" text-anchor="middle">RMS<tspan font-size="8.18" dy="4.36">oxy</tspan><tspan dy="-4.36" dx="0.8"> (</tspan><tspan font-style="italic">g</tspan>)</text>
<text transform="translate(675.20,359.30) rotate(-90)" font-size="10.90" fill="#8b1a1a" stroke="#8b1a1a" stroke-width="0.22" text-anchor="middle">&#916;<tspan font-style="italic">P</tspan><tspan font-size="8.18" dy="4.36">oxy</tspan><tspan dy="-4.36" dx="0.5"> (mmHg)</tspan></text>
<path d="M418.78,475.30 L416.88,478.90 L420.68,478.90 Z" fill="#000"/>
<line x1="418.78" y1="478.30" x2="418.78" y2="483.00" stroke="#000" stroke-width="1.4"/>
<text x="403.90" y="444.30" font-size="8.00" fill="#008000" text-anchor="middle" font-weight="normal" stroke="#008000" stroke-width="0.10">3.5</text>
<text x="460.20" y="449.50" font-size="8.00" fill="#008000" text-anchor="middle" font-weight="normal" stroke="#008000" stroke-width="0.10">3.3</text>
<text x="523.30" y="449.50" font-size="8.00" fill="#008000" text-anchor="middle" font-weight="normal" stroke="#008000" stroke-width="0.10">3.3</text>
<text x="643.10" y="452.00" font-size="8.00" fill="#008000" text-anchor="middle" font-weight="normal" stroke="#008000" stroke-width="0.10">3.3</text>
<rect x="574.40" y="265.00" width="66.20" height="28.10" fill="#fff" stroke="#6e6e6e" stroke-width="0.9"/>
<line x1="576.60" y1="270.54" x2="600.20" y2="270.54" stroke="#00008b" stroke-width="1.8"/>
<line x1="576.60" y1="279.25" x2="600.20" y2="279.25" stroke="#8b0000" stroke-width="1.8"/>
<line x1="576.60" y1="287.87" x2="600.20" y2="287.87" stroke="#008000" stroke-width="1.8" stroke-dasharray="6.6 5.9"/>
<ellipse cx="588.40" cy="287.87" rx="2.60" ry="2.39" fill="#008000"/>
<text x="602.00" y="273.04" font-size="7.00" fill="#111" text-anchor="start" font-weight="normal" stroke="#111" stroke-width="0.14">RMS</text>
<text x="602.00" y="281.75" font-size="7.00" fill="#111" text-anchor="start" font-weight="normal" stroke="#111" stroke-width="0.14">&#916;<tspan font-style="italic">P</tspan></text>
<text x="602.00" y="290.37" font-size="7.00" fill="#111" text-anchor="start" font-weight="normal" stroke="#111" stroke-width="0.14">ECMO flow</text>
<clipPath id="c5"><rect x="40.60" y="506.60" width="253.90" height="203.70"/></clipPath>
<g clip-path="url(#c5)">
<path d="M40.79,595.03 L41.10,595.87 L41.35,594.91 L42.10,595.51 L42.53,593.11 L43.12,593.63 L43.76,594.57 L44.33,595.79 L44.66,594.15 L45.15,594.24 L45.22,593.81 L45.79,594.28 L46.19,595.01 L46.43,595.29 L46.76,595.92 L46.84,597.16 L47.20,597.80 L47.48,596.19 L47.56,597.05 L48.14,598.57 L48.27,598.67 L48.84,600.06 L49.34,598.74 L49.72,599.37 L50.18,599.47 L50.84,598.34 L50.95,599.86 L51.56,600.87 L51.92,602.81 L52.61,600.91 L52.79,603.09 L53.52,601.13 L54.19,603.93 L54.51,604.22 L54.73,601.89 L55.23,602.29 L55.78,604.05 L56.24,603.47 L56.55,601.32 L56.92,602.92 L57.51,603.91 L57.71,605.63 L58.26,603.65 L58.50,605.99 L59.02,603.89 L59.34,606.28 L59.48,605.56 L60.31,605.50 L60.49,606.21 L60.80,606.11 L61.05,607.60 L61.32,608.22 L61.73,608.13 L62.12,608.90 L62.49,608.25 L62.88,607.82 L63.33,610.77 L63.50,610.33 L63.95,610.21 L64.33,609.18 L64.52,611.91 L64.98,611.16 L65.44,612.40 L65.94,611.80 L66.67,613.52 L67.11,613.43 L67.76,613.51 L68.30,616.97 L68.64,613.68 L69.26,614.37 L69.50,614.24 L70.30,613.61 L70.48,612.63 L70.70,610.11 L71.33,610.75 L71.52,611.10 L72.16,610.64 L72.39,610.40 L72.55,608.80 L72.75,609.41 L73.06,606.68 L73.33,608.54 L73.47,607.60 L73.71,606.65 L73.86,606.78 L74.13,607.43 L74.67,605.75 L74.93,606.39 L75.10,606.00 L75.32,604.91 L75.96,606.43 L76.51,604.33 L76.89,604.65 L77.41,605.85 L78.16,604.74 L78.69,604.41 L79.17,604.44 L79.63,604.79 L80.33,604.01 L80.65,604.11 L81.20,604.45 L81.70,603.30 L82.14,605.08 L82.59,604.20 L82.72,603.38 L83.05,603.93 L83.03,601.70 L83.27,602.46 L83.56,601.29 L83.79,599.41 L83.70,599.82 L83.76,601.22 L84.27,600.79 L84.17,598.18 L84.49,598.02 L84.40,598.61 L84.59,598.64 L84.63,597.33 L84.80,595.32 L84.92,597.11 L85.06,593.89 L85.44,595.62 L85.26,593.13 L85.72,592.42 L85.90,591.25 L86.09,595.35 L86.48,593.54 L86.72,593.59 L87.07,591.67 L86.89,591.93 L87.47,591.98 L87.80,592.06 L88.07,587.86 L88.15,589.84 L88.41,589.26 L88.65,587.09 L89.04,588.31 L89.14,586.93 L89.38,586.25 L89.70,586.51 L89.99,586.90 L90.65,586.59 L90.89,583.44 L91.60,586.29 L92.13,584.88 L92.59,585.07 L93.09,584.37 L93.64,585.57 L94.26,584.22 L94.46,583.72 L94.73,583.72 L95.30,584.30 L95.59,584.10 L96.10,582.80 L96.67,582.48 L96.76,582.38 L97.29,582.58 L97.72,581.72 L98.09,584.02 L98.46,582.91 L99.05,582.48 L99.22,583.93 L99.58,582.99 L100.03,585.17 L100.35,584.62 L100.58,585.71 L101.28,586.22 L101.38,586.70 L102.18,587.63 L102.29,587.64 L102.77,588.59 L103.06,588.30 L103.52,589.27 L103.75,588.77 L104.17,588.27 L104.58,589.47 L105.15,588.65 L105.45,589.47 L105.70,590.21 L105.69,591.49 L106.40,591.17 L106.90,590.61 L106.84,590.93 L107.14,589.30 L107.13,589.38 L107.46,590.10 L107.32,590.04 L107.63,587.50 L107.74,586.97 L107.86,587.94 L108.01,585.96 L108.34,587.38 L108.23,586.24 L108.38,585.13 L108.59,583.72 L108.79,586.29 L108.90,583.26 L109.01,583.94 L109.49,583.95 L109.35,583.68 L109.52,582.04 L109.55,581.20 L109.87,581.24 L110.18,581.03 L110.13,579.89 L110.38,580.35 L110.67,579.63 L110.84,578.99 L110.84,578.54 L110.92,577.60 L111.21,578.56 L111.17,577.26 L111.50,576.17 L111.67,574.87 L111.51,575.01 L111.91,574.88 L112.20,573.47 L112.12,573.31 L112.47,572.44 L112.75,572.27 L112.66,573.46 L112.96,572.00 L113.16,570.66 L113.32,571.44 L113.55,568.24 L113.56,568.08 L113.74,568.55 L114.19,569.11 L114.17,567.53 L114.51,568.49 L114.43,567.21 L114.86,565.73 L114.96,566.23 L115.22,564.96 L115.28,566.23 L115.51,564.96 L115.73,565.43 L115.89,563.33 L116.01,564.00 L116.30,562.80 L117.28,562.56 L117.56,562.97 L117.94,562.34 L118.73,563.23 L119.20,564.41 L119.40,560.60 L119.70,561.50 L119.92,562.52 L120.33,560.13 L120.30,560.17 L121.02,559.71 L121.13,561.57 L121.32,561.58 L121.52,559.13 L121.73,558.78 L122.13,557.69 L122.41,559.70 L122.58,556.69 L123.05,556.97 L123.39,558.59 L123.65,556.29 L124.43,557.05 L124.66,554.22 L125.06,555.68 L125.56,555.06 L125.78,555.17 L125.97,553.97 L126.23,553.79 L126.24,552.28 L126.89,553.16 L127.37,553.39 L127.45,554.23 L127.87,552.38 L128.32,549.47 L128.45,551.55 L128.96,550.45 L129.19,551.49 L129.48,551.78 L129.71,552.69 L129.81,553.70 L130.41,553.96 L130.74,554.68 L131.15,553.94 L131.43,553.12 L131.75,553.97 L131.94,554.36 L132.67,552.89 L132.84,554.96 L133.27,553.95 L133.75,554.16 L134.11,553.89 L134.35,553.48 L134.80,551.49 L134.97,550.82 L135.53,551.24 L136.04,550.99 L136.70,550.67 L136.66,548.91 L137.30,550.29 L137.58,549.92 L137.84,546.70 L138.60,546.19 L139.15,548.78 L139.44,547.90 L139.97,548.02 L140.46,550.29 L140.84,548.42 L141.49,548.26 L142.11,547.85 L142.58,547.20 L143.03,545.50 L143.76,546.16 L144.16,546.15 L144.77,547.75 L145.33,546.55 L145.96,546.73 L146.33,547.42 L146.74,546.17 L147.11,545.38 L147.64,546.85 L148.24,546.20 L148.85,545.12 L149.39,547.09 L149.92,547.02 L150.40,545.77 L150.85,545.01 L151.56,546.32 L151.77,545.49 L152.44,546.50 L152.77,546.53 L153.71,546.40 L154.13,546.77 L154.41,547.91 L155.08,546.42 L155.46,545.84 L155.69,544.79 L156.15,545.01 L156.39,544.98 L156.76,545.18 L157.36,542.68 L157.78,543.78 L158.16,545.35 L158.45,544.03 L158.88,541.35 L158.98,542.13 L159.47,544.24 L159.69,542.77 L159.99,544.33 L160.33,544.42 L160.71,544.73 L161.30,544.77 L162.05,545.20 L162.20,545.08 L162.66,545.20 L163.04,546.42 L163.28,546.43 L163.35,546.03 L163.88,547.04 L163.95,547.37 L164.24,548.35 L164.63,548.80 L164.90,549.40 L165.05,550.12 L165.26,551.46 L165.82,552.26 L166.17,549.47 L166.31,552.11 L166.36,551.81 L166.92,552.80 L166.99,554.44 L167.59,554.95 L167.94,554.17 L168.29,555.31 L168.45,553.31 L168.77,553.75 L169.23,555.37 L169.35,557.14 L169.80,554.12 L170.06,557.27 L170.34,556.09 L170.68,555.80 L170.95,555.61 L171.52,556.12 L171.91,555.45 L172.27,555.35 L172.86,553.82 L173.10,555.64 L173.44,553.11 L173.67,553.13 L173.85,555.32 L174.19,554.71 L174.55,556.41 L174.74,554.85 L174.69,555.44 L175.26,556.19 L175.34,557.30 L175.46,557.12 L176.10,558.53 L176.28,558.23 L176.65,555.97 L177.20,558.25 L177.45,556.84 L177.74,555.93 L178.33,556.63 L178.70,555.92 L179.21,554.58 L179.47,555.13 L179.54,552.78 L179.91,554.70 L180.52,555.85 L181.15,553.86 L181.41,555.20 L182.15,555.39 L182.31,554.99 L182.12,553.18 L182.71,553.83 L182.93,553.77 L182.97,551.18 L183.12,552.04 L183.36,554.21 L183.50,551.63 L183.58,552.44 L183.95,551.53 L184.15,549.54 L184.40,549.33 L184.54,549.52 L184.81,550.27 L185.03,547.25 L185.22,549.40 L185.15,547.19 L185.58,545.35 L185.55,547.61 L185.71,547.20 L185.76,545.09 L186.02,544.65 L186.20,546.60 L186.51,545.52 L186.56,543.87 L186.72,543.92 L186.63,543.54 L187.06,543.10 L187.18,543.25 L187.59,540.87 L187.53,543.29 L187.80,539.75 L187.75,540.32 L188.13,541.54 L188.26,539.82 L188.39,540.45 L188.32,537.72 L188.61,538.68 L188.97,537.70 L189.02,535.75 L189.12,536.72 L189.27,535.55 L189.60,533.85 L189.79,534.94 L190.06,534.45 L190.19,534.80 L190.22,532.44 L190.56,534.51 L190.59,529.86 L190.78,531.12 L190.96,530.33 L191.00,529.97 L191.16,530.81 L191.76,529.86 L191.73,531.21 L191.94,528.88 L192.34,530.45 L192.33,527.72 L192.58,528.84 L192.78,526.08 L192.97,526.62 L193.25,525.29 L193.18,526.42 L193.85,524.51 L193.75,524.79 L193.84,525.33 L194.23,526.66 L194.73,526.47 L195.08,524.43 L195.08,524.54 L195.48,527.36 L195.75,524.93 L195.74,527.41 L195.89,528.25 L196.19,528.00 L196.47,528.00 L196.64,527.25 L196.90,528.59 L196.81,528.63 L197.04,528.44 L197.19,530.44 L197.13,532.82 L197.25,530.99 L197.53,532.15 L197.56,531.01 L197.55,532.45 L197.79,532.75 L197.88,533.07 L198.06,533.41 L198.24,533.13 L198.14,535.79 L198.29,534.99 L198.64,537.65 L198.72,538.00 L198.84,536.52 L199.21,537.70 L199.60,538.09 L199.53,537.07 L200.19,538.27 L200.40,539.77 L200.31,539.29 L200.52,540.71 L200.87,540.73 L201.02,541.76 L201.06,540.61 L201.39,542.44 L201.74,542.05 L202.29,542.67 L202.92,542.42 L203.25,543.21 L203.80,541.67 L204.05,545.45 L204.27,543.75 L204.05,545.05 L204.37,545.71 L204.62,544.43 L204.65,546.45 L204.63,546.85 L204.86,546.93 L205.07,549.29 L205.07,547.30 L205.30,548.59 L205.43,549.38 L205.65,550.69 L205.68,551.25 L205.68,550.41 L206.15,550.69 L206.30,552.66 L206.40,552.51 L206.53,552.18 L206.55,554.17 L206.87,554.51 L207.27,552.42 L207.20,555.79 L207.46,554.50 L207.80,557.03 L207.86,557.89 L208.03,556.66 L208.25,557.96 L208.51,556.52 L208.66,558.80 L208.92,559.37 L208.80,558.92 L209.21,559.34 L209.11,560.90 L209.27,560.19 L209.44,560.56 L209.82,562.51 L209.49,560.93 L209.52,563.12 L209.45,563.31 L209.63,564.15 L209.84,564.88 L210.09,565.12 L210.09,566.62 L210.13,564.44 L210.39,568.89 L210.30,567.69 L210.24,568.50 L210.60,566.65 L210.69,565.65 L210.88,567.90 L210.88,568.89 L210.74,568.90 L211.22,569.35 L211.12,571.39 L211.23,572.23 L211.54,570.80 L211.49,572.25 L211.52,570.01 L211.49,573.55 L211.60,574.40 L211.80,573.27 L211.86,573.99 L211.90,574.29 L212.27,574.97 L212.41,574.71 L212.77,575.17 L213.07,573.93 L213.14,575.30 L213.64,573.43 L213.92,574.50 L214.33,574.35 L214.44,572.00 L215.00,570.36 L215.06,571.77 L215.96,570.92 L216.21,570.20 L216.88,570.61 L217.21,573.83 L217.87,571.47 L218.45,570.53 L218.98,571.13 L219.52,569.36 L219.72,572.21 L219.85,571.88 L220.12,571.88 L219.91,571.93 L220.19,573.00 L220.47,572.90 L220.65,575.15 L221.02,574.69 L221.11,576.54 L221.17,574.76 L221.42,574.96 L221.61,576.22 L221.77,577.11 L221.81,577.95 L222.16,576.56 L222.40,578.62 L222.48,578.73 L222.44,580.32 L222.90,579.44 L222.89,579.07 L223.67,582.47 L223.55,581.41 L223.52,582.23 L224.02,580.52 L224.08,582.28 L224.39,584.98 L224.80,584.41 L224.83,584.90 L225.07,585.17 L225.01,585.54 L225.45,585.34 L225.64,584.43 L226.09,586.58 L226.52,586.32 L227.02,587.02 L227.68,586.79 L228.24,587.96 L228.70,585.26 L229.08,587.19 L229.78,586.31 L230.17,587.95 L230.31,590.48 L231.06,588.35 L231.17,591.19 L231.50,591.96 L231.90,588.24 L232.04,590.78 L232.21,591.74 L232.60,592.26 L232.88,591.78 L233.05,591.55 L233.31,593.03 L233.46,593.51 L233.62,594.51 L233.86,594.60 L234.24,595.31 L234.37,594.92 L234.52,593.60 L234.91,596.33 L234.97,596.61 L235.19,597.39 L235.51,598.83 L235.70,598.49 L235.78,598.98 L235.98,599.23 L236.10,599.97 L236.44,600.32 L236.60,600.05 L236.80,600.73 L237.25,600.84 L237.23,599.32 L237.58,602.83 L238.00,601.85 L237.77,602.61 L238.10,601.96 L238.29,603.97 L238.82,604.72 L239.30,601.58 L239.73,602.98 L239.96,601.28 L240.52,601.71 L240.75,602.76 L241.09,600.25 L241.60,597.88 L241.79,599.65 L242.26,599.90 L242.42,601.08 L243.00,598.96 L243.24,600.81 L243.60,598.72 L243.99,597.52 L244.23,597.65 L244.67,596.64 L245.00,597.13 L245.07,596.37 L245.37,594.28 L245.89,596.24 L246.30,595.69 L246.29,594.30 L246.89,593.25 L247.25,595.77 L247.78,593.72 L247.50,594.61 L248.01,594.23 L248.50,592.35 L248.54,590.58 L249.05,591.05 L249.15,591.10 L249.73,587.46 L249.81,590.16 L250.13,588.18 L250.76,589.52 L250.85,588.12 L251.71,586.46 L252.06,588.61 L252.41,587.88 L252.90,586.96 L253.44,588.48 L253.93,587.40 L254.24,587.35 L254.86,586.85 L255.00,586.88 L255.48,586.11 L255.77,588.07 L255.78,588.74 L256.46,590.05 L256.67,590.82 L257.04,589.17 L257.11,589.77 L257.74,590.64 L258.11,592.48 L257.88,591.70 L258.02,592.16 L258.07,593.84 L258.23,595.20 L258.31,593.69 L258.37,593.06 L258.37,594.95 L258.71,597.17 L258.71,596.24 L258.53,596.31 L258.43,598.60 L258.81,596.14 L258.85,597.22 L258.71,598.23 L259.34,597.07 L259.24,599.24 L259.12,598.53 L259.37,601.49 L259.57,598.95 L259.42,602.16 L259.48,600.05 L259.62,603.11 L259.71,603.41 L259.67,602.51 L259.72,604.36 L260.18,604.46 L259.82,604.89 L260.08,606.53 L259.88,604.61 L259.98,606.59 L260.18,605.37 L260.31,608.18 L260.35,606.29 L260.24,608.77 L260.31,607.85 L260.30,609.18 L260.43,610.26 L260.34,609.51 L260.52,609.94 L260.31,613.95 L260.37,612.99 L260.61,611.23 L260.40,615.33 L260.58,611.78 L260.62,616.08 L260.60,613.52 L260.71,615.52 L260.85,615.55 L260.59,616.77 L260.77,618.43 L260.77,617.61 L260.84,617.64 L260.86,619.00 L260.90,618.93 L260.99,620.05 L260.96,618.95 L261.08,619.13 L261.15,621.73 L261.19,620.20 L261.27,621.65 L261.37,621.84 L261.40,623.29 L261.33,620.88 L261.35,621.39 L261.62,624.05 L261.29,625.18 L261.40,626.01 L261.48,625.96 L261.41,626.63 L261.49,625.27 L261.63,627.41 L261.81,627.23 L261.39,628.63 L261.72,628.87 L261.89,628.83 L261.68,629.26 L261.82,630.40 L262.04,630.46 L261.99,630.97 L261.96,631.68 L262.03,632.71 L261.79,632.52 L262.18,633.83 L262.24,633.43 L262.20,634.63 L262.16,633.51 L262.20,635.27 L262.32,636.21 L262.12,636.54 L262.19,636.88 L262.32,638.04 L262.43,637.75 L262.38,637.82 L262.71,638.86 L262.71,640.10 L262.66,638.82 L262.68,641.04 L262.74,641.17 L262.64,642.43 L262.71,641.81 L262.87,641.03 L263.02,643.67 L262.92,642.83 L262.91,644.06 L262.85,642.84 L262.97,645.65 L262.97,645.73 L263.16,645.09 L263.27,644.79 L263.00,648.01 L263.08,645.28 L263.30,648.30 L263.23,647.22 L263.21,648.25 L263.38,648.78 L263.57,649.83 L263.46,650.26 L263.48,650.53 L263.27,652.67 L263.59,653.70 L263.54,652.10 L263.68,653.60 L263.85,652.88 L263.62,652.35 L263.83,653.10 L263.91,654.95 L263.76,655.08 L263.84,656.12 L263.88,655.33 L263.78,657.25 L263.87,657.28 L263.89,656.93 L264.39,657.97 L263.87,659.38 L264.23,658.65 L264.10,658.86 L264.14,661.60 L264.44,659.65 L264.49,660.91 L264.45,664.49 L264.32,663.86 L264.63,664.33 L264.69,662.39 L264.85,661.98 L265.01,665.45 L264.65,664.68 L264.86,666.53 L265.07,664.67 L264.96,666.85 L264.87,668.73 L264.85,667.32 L265.04,668.56 L265.08,668.84 L265.22,670.74 L265.42,668.35 L265.27,669.62 L265.33,670.43 L265.28,672.33 L265.41,670.83 L265.55,671.27 L265.54,670.91 L265.54,673.03 L265.66,674.52 L265.95,674.56 L265.96,673.21 L265.78,674.58 L265.85,676.50 L266.02,674.37 L265.66,677.40 L265.75,678.33 L266.25,675.98 L266.28,676.02 L265.77,678.45 L266.33,678.92 L266.36,680.22 L266.44,680.20 L266.18,680.37 L266.40,681.51 L266.21,682.99 L266.50,681.29 L266.57,682.69 L266.80,682.47 L266.63,685.15 L266.77,685.05 L266.94,682.56 L266.81,686.77 L266.70,684.25 L266.72,685.70 L267.07,686.95 L267.25,686.17 L267.09,686.75 L267.27,688.62 L267.26,688.19 L267.39,689.78 L267.46,688.62 L267.38,690.28 L267.61,689.98 L267.40,692.06 L267.76,690.58 L267.61,692.87 L267.79,692.16 L267.56,691.33 L267.91,692.63 L267.59,691.50 L267.74,689.65 L267.85,689.50 L267.97,689.91 L268.13,691.49 L267.91,688.92 L268.13,688.19 L268.14,687.84 L268.05,686.42 L268.18,685.38 L268.20,685.62 L268.19,684.97 L268.15,686.06 L268.37,684.04 L268.20,684.72 L268.32,683.46 L268.39,680.76 L268.53,683.06 L268.40,680.90 L268.49,682.89 L268.40,680.97 L268.35,683.52 L268.67,678.95 L268.40,678.62 L268.47,677.17 L268.43,678.01 L268.78,677.40 L268.45,677.12 L268.61,677.19 L268.81,675.92 L268.69,675.13 L268.87,676.80 L269.71,675.39 L269.93,674.98 L270.79,672.76 L270.98,672.84 L271.33,671.02 L272.03,673.10 L272.61,673.51 L273.02,673.96 L273.48,672.60 L273.98,671.86 L274.47,673.48 L275.19,672.38 L275.60,673.49 L276.11,672.25 L276.60,674.13 L277.04,672.20 L277.38,675.57 L277.98,673.65 L278.39,675.75 L278.82,675.48 L279.14,674.68 L279.68,674.88 L280.33,675.84 L280.67,675.61 L281.00,674.71 L281.50,674.16 L281.98,677.32 L282.18,677.52 L282.87,675.19 L283.08,675.41 L283.76,674.56 L283.84,674.90 L284.50,675.07 L284.67,673.82 L284.83,673.88 L285.50,673.53 L285.71,675.50 L286.27,675.44 L286.56,676.49 L286.84,677.32 L287.33,678.14 L287.48,676.77 L288.11,676.85 L288.20,676.33 L288.43,675.51 L288.50,676.02 L288.84,676.06 L289.05,674.33 L289.04,673.31 L289.54,673.73 L289.58,672.75 L289.77,671.12 L289.96,670.42 L289.90,670.18 L290.61,672.03 L290.90,671.49 L291.31,672.83 L291.87,670.83 L292.06,674.67 L292.41,673.43 L293.04,673.83 L293.49,674.95" fill="none" stroke="#00008b" stroke-width="2.05" stroke-linejoin="round"/>
<path d="M40.60,646.04 L41.70,646.10 L42.80,646.14 L43.90,646.10 L45.00,646.10 L46.10,646.17 L47.20,646.24 L48.30,646.29 L49.34,646.21 L50.39,646.14 L51.43,645.95 L52.48,645.70 L53.52,645.50 L54.57,645.29 L55.61,645.06 L56.66,644.92 L57.70,644.83 L58.75,644.66 L59.79,644.55 L60.83,644.42 L61.88,644.40 L62.92,644.50 L63.96,644.62 L65.00,644.70 L66.04,644.74 L67.08,644.79 L68.12,644.89 L69.17,644.93 L70.21,644.88 L71.25,644.89 L72.29,645.16 L73.33,645.41 L74.38,645.59 L75.42,645.76 L76.46,646.00 L77.50,646.33 L78.55,646.58 L79.59,646.67 L80.63,646.75 L81.67,646.85 L82.72,646.89 L83.76,646.99 L84.80,647.22 L85.84,647.33 L86.89,647.45 L87.93,647.46 L88.98,647.36 L90.02,647.28 L91.07,647.27 L92.11,647.27 L93.16,647.25 L94.20,647.18 L95.24,646.94 L96.28,646.73 L97.31,646.62 L98.35,646.51 L99.39,646.38 L100.42,646.27 L101.46,646.21 L102.50,646.11 L103.54,646.17 L104.58,646.20 L105.62,646.36 L106.66,646.59 L107.70,646.74 L108.74,646.81 L109.78,646.94 L110.82,647.12 L111.86,647.18 L112.90,647.10 L113.94,647.28 L114.98,647.65 L116.02,648.12 L117.06,648.53 L118.10,648.87 L119.14,649.19 L120.18,649.46 L121.22,649.71 L122.26,649.99 L123.30,650.31 L124.35,650.45 L125.40,650.65 L126.45,650.83 L127.50,650.92 L128.55,650.96 L129.60,651.02 L130.65,651.12 L131.70,651.19 L132.74,651.10 L133.77,650.99 L134.81,650.91 L135.85,650.97 L136.89,651.19 L137.93,651.34 L138.96,651.29 L140.00,651.22 L140.50,652.27 L141.00,653.33 L142.04,653.31 L143.09,653.28 L144.13,653.24 L145.17,653.24 L146.21,653.26 L147.26,653.23 L148.30,653.15 L149.34,653.05 L150.39,653.06 L151.43,653.15 L152.47,653.09 L153.51,652.93 L154.56,652.88 L155.60,652.91 L156.15,653.95 L156.70,654.90 L157.74,654.81 L158.77,654.84 L159.81,654.81 L160.85,654.67 L161.89,654.50 L162.93,654.37 L163.96,654.31 L165.00,654.28 L166.06,654.18 L167.13,654.06 L168.19,654.02 L169.25,654.10 L170.32,654.20 L171.38,654.15 L172.45,654.00 L173.51,653.91 L174.57,653.96 L175.64,654.01 L176.70,654.04 L177.74,654.12 L178.78,654.09 L179.82,653.94 L180.86,653.81 L181.90,653.77 L182.94,653.75 L183.98,653.78 L185.02,653.87 L186.06,653.91 L187.10,653.88 L188.14,653.79 L189.18,653.68 L190.22,653.68 L191.26,653.82 L192.30,653.85 L193.34,653.68 L194.38,653.53 L195.42,653.58 L196.46,653.70 L197.50,653.78 L198.54,653.52 L199.58,653.22 L200.62,652.92 L201.67,652.64 L202.71,652.37 L203.75,652.03 L204.68,651.32 L205.61,650.64 L206.53,650.09 L207.46,649.57 L208.39,648.93 L209.32,648.27 L210.24,647.71 L211.17,647.26 L212.10,646.80 L213.05,646.41 L213.99,645.95 L214.94,645.52 L215.88,645.05 L216.83,644.65 L217.77,644.38 L218.72,644.06 L219.66,643.56 L220.61,643.03 L221.55,642.56 L222.50,642.13 L223.45,641.74 L224.39,641.31 L225.34,640.95 L226.28,640.66 L227.23,640.31 L228.17,639.93 L229.12,639.62 L230.06,639.44 L231.01,639.30 L231.95,639.02 L232.90,638.57 L233.94,638.34 L234.98,638.20 L236.02,638.15 L237.06,638.11 L238.10,638.07 L239.14,637.97 L240.18,637.75 L241.22,637.55 L242.26,637.52 L243.30,637.57 L244.34,637.75 L245.39,637.92 L246.43,638.06 L247.48,638.09 L248.52,638.09 L249.57,638.09 L250.61,638.15 L251.66,638.25 L252.70,638.30 L253.75,638.22 L254.79,638.16 L255.84,638.17 L256.88,638.27 L257.93,638.29 L258.97,638.07 L260.02,637.84 L261.06,637.78 L262.11,637.81 L263.15,637.84 L264.20,637.80 L265.24,637.70 L266.28,637.64 L267.32,637.58 L268.37,637.51 L269.41,637.45 L270.45,637.37 L271.49,637.32 L272.53,637.23 L273.57,636.99 L274.62,636.70 L275.66,636.58 L276.70,636.61 L277.72,636.62 L278.74,636.57 L279.75,636.54 L280.77,636.45 L281.79,636.32 L282.81,636.27 L283.82,636.27 L284.84,636.27 L285.86,636.32 L286.88,636.32 L287.89,636.13 L288.91,635.95 L289.93,635.92 L290.95,635.92 L291.96,635.87 L292.98,635.77 L294.00,635.68" fill="none" stroke="#8b0000" stroke-width="2.00" stroke-linejoin="round"/>
<path d="M44.60,682.30 L104.20,689.00 L167.30,689.00 L290.20,685.80" fill="none" stroke="#008000" stroke-width="2.00" stroke-dasharray="6.6 5.9"/>
<ellipse cx="44.60" cy="682.30" rx="2.60" ry="2.39" fill="#008000"/>
<ellipse cx="104.20" cy="689.00" rx="2.60" ry="2.39" fill="#008000"/>
<ellipse cx="167.30" cy="689.00" rx="2.60" ry="2.39" fill="#008000"/>
<ellipse cx="290.20" cy="685.80" rx="2.60" ry="2.39" fill="#008000"/>
</g>
<line x1="40.60" y1="507.60" x2="294.50" y2="507.60" stroke="#858585" stroke-width="1.10"/>
<line x1="40.60" y1="709.30" x2="294.50" y2="709.30" stroke="#858585" stroke-width="1.10"/>
<line x1="40.60" y1="507.60" x2="40.60" y2="709.30" stroke="#6a6ab2" stroke-width="1.10"/>
<line x1="294.50" y1="507.60" x2="294.50" y2="709.30" stroke="#b86868" stroke-width="1.10"/>
<text transform="translate(40.60,722.00) scale(0.930,1)" font-size="10.20" fill="#262626" text-anchor="middle" stroke="#262626" stroke-width="0.22">0</text>
<line x1="61.76" y1="709.30" x2="61.76" y2="706.60" stroke="#707070" stroke-width="0.9"/>
<line x1="61.76" y1="507.60" x2="61.76" y2="510.30" stroke="#707070" stroke-width="0.9"/>
<text transform="translate(61.76,722.00) scale(0.930,1)" font-size="10.20" fill="#262626" text-anchor="middle" stroke="#262626" stroke-width="0.22">5</text>
<line x1="82.92" y1="709.30" x2="82.92" y2="706.60" stroke="#707070" stroke-width="0.9"/>
<line x1="82.92" y1="507.60" x2="82.92" y2="510.30" stroke="#707070" stroke-width="0.9"/>
<text transform="translate(82.92,722.00) scale(0.930,1)" font-size="10.20" fill="#262626" text-anchor="middle" stroke="#262626" stroke-width="0.22">10</text>
<line x1="104.08" y1="709.30" x2="104.08" y2="706.60" stroke="#707070" stroke-width="0.9"/>
<line x1="104.08" y1="507.60" x2="104.08" y2="510.30" stroke="#707070" stroke-width="0.9"/>
<text transform="translate(104.08,722.00) scale(0.930,1)" font-size="10.20" fill="#262626" text-anchor="middle" stroke="#262626" stroke-width="0.22">15</text>
<line x1="125.23" y1="709.30" x2="125.23" y2="706.60" stroke="#707070" stroke-width="0.9"/>
<line x1="125.23" y1="507.60" x2="125.23" y2="510.30" stroke="#707070" stroke-width="0.9"/>
<text transform="translate(125.23,722.00) scale(0.930,1)" font-size="10.20" fill="#262626" text-anchor="middle" stroke="#262626" stroke-width="0.22">20</text>
<line x1="146.39" y1="709.30" x2="146.39" y2="706.60" stroke="#707070" stroke-width="0.9"/>
<line x1="146.39" y1="507.60" x2="146.39" y2="510.30" stroke="#707070" stroke-width="0.9"/>
<text transform="translate(146.39,722.00) scale(0.930,1)" font-size="10.20" fill="#262626" text-anchor="middle" stroke="#262626" stroke-width="0.22">25</text>
<line x1="167.55" y1="709.30" x2="167.55" y2="706.60" stroke="#707070" stroke-width="0.9"/>
<line x1="167.55" y1="507.60" x2="167.55" y2="510.30" stroke="#707070" stroke-width="0.9"/>
<text transform="translate(167.55,722.00) scale(0.930,1)" font-size="10.20" fill="#262626" text-anchor="middle" stroke="#262626" stroke-width="0.22">30</text>
<line x1="188.71" y1="709.30" x2="188.71" y2="706.60" stroke="#707070" stroke-width="0.9"/>
<line x1="188.71" y1="507.60" x2="188.71" y2="510.30" stroke="#707070" stroke-width="0.9"/>
<text transform="translate(188.71,722.00) scale(0.930,1)" font-size="10.20" fill="#262626" text-anchor="middle" stroke="#262626" stroke-width="0.22">35</text>
<line x1="209.87" y1="709.30" x2="209.87" y2="706.60" stroke="#707070" stroke-width="0.9"/>
<line x1="209.87" y1="507.60" x2="209.87" y2="510.30" stroke="#707070" stroke-width="0.9"/>
<text transform="translate(209.87,722.00) scale(0.930,1)" font-size="10.20" fill="#262626" text-anchor="middle" stroke="#262626" stroke-width="0.22">40</text>
<line x1="231.02" y1="709.30" x2="231.02" y2="706.60" stroke="#707070" stroke-width="0.9"/>
<line x1="231.02" y1="507.60" x2="231.02" y2="510.30" stroke="#707070" stroke-width="0.9"/>
<text transform="translate(231.02,722.00) scale(0.930,1)" font-size="10.20" fill="#262626" text-anchor="middle" stroke="#262626" stroke-width="0.22">45</text>
<line x1="252.18" y1="709.30" x2="252.18" y2="706.60" stroke="#707070" stroke-width="0.9"/>
<line x1="252.18" y1="507.60" x2="252.18" y2="510.30" stroke="#707070" stroke-width="0.9"/>
<text transform="translate(252.18,722.00) scale(0.930,1)" font-size="10.20" fill="#262626" text-anchor="middle" stroke="#262626" stroke-width="0.22">50</text>
<line x1="273.34" y1="709.30" x2="273.34" y2="706.60" stroke="#707070" stroke-width="0.9"/>
<line x1="273.34" y1="507.60" x2="273.34" y2="510.30" stroke="#707070" stroke-width="0.9"/>
<text transform="translate(273.34,722.00) scale(0.930,1)" font-size="10.20" fill="#262626" text-anchor="middle" stroke="#262626" stroke-width="0.22">55</text>
<text transform="translate(294.50,722.00) scale(0.930,1)" font-size="10.20" fill="#262626" text-anchor="middle" stroke="#262626" stroke-width="0.22">60</text>
<text transform="translate(37.30,713.20) scale(0.930,1)" font-size="10.20" fill="#1c1c8f" text-anchor="end" stroke="#1c1c8f" stroke-width="0.22">0.44</text>
<line x1="40.60" y1="686.89" x2="43.30" y2="686.89" stroke="#6a6ab2" stroke-width="0.8"/>
<text transform="translate(37.30,690.79) scale(0.930,1)" font-size="10.20" fill="#1c1c8f" text-anchor="end" stroke="#1c1c8f" stroke-width="0.22">0.45</text>
<line x1="40.60" y1="664.48" x2="43.30" y2="664.48" stroke="#6a6ab2" stroke-width="0.8"/>
<text transform="translate(37.30,668.38) scale(0.930,1)" font-size="10.20" fill="#1c1c8f" text-anchor="end" stroke="#1c1c8f" stroke-width="0.22">0.46</text>
<line x1="40.60" y1="642.07" x2="43.30" y2="642.07" stroke="#6a6ab2" stroke-width="0.8"/>
<text transform="translate(37.30,645.97) scale(0.930,1)" font-size="10.20" fill="#1c1c8f" text-anchor="end" stroke="#1c1c8f" stroke-width="0.22">0.47</text>
<line x1="40.60" y1="619.66" x2="43.30" y2="619.66" stroke="#6a6ab2" stroke-width="0.8"/>
<text transform="translate(37.30,623.56) scale(0.930,1)" font-size="10.20" fill="#1c1c8f" text-anchor="end" stroke="#1c1c8f" stroke-width="0.22">0.48</text>
<line x1="40.60" y1="597.24" x2="43.30" y2="597.24" stroke="#6a6ab2" stroke-width="0.8"/>
<text transform="translate(37.30,601.14) scale(0.930,1)" font-size="10.20" fill="#1c1c8f" text-anchor="end" stroke="#1c1c8f" stroke-width="0.22">0.49</text>
<line x1="40.60" y1="574.83" x2="43.30" y2="574.83" stroke="#6a6ab2" stroke-width="0.8"/>
<text transform="translate(37.30,578.73) scale(0.930,1)" font-size="10.20" fill="#1c1c8f" text-anchor="end" stroke="#1c1c8f" stroke-width="0.22">0.5</text>
<line x1="40.60" y1="552.42" x2="43.30" y2="552.42" stroke="#6a6ab2" stroke-width="0.8"/>
<text transform="translate(37.30,556.32) scale(0.930,1)" font-size="10.20" fill="#1c1c8f" text-anchor="end" stroke="#1c1c8f" stroke-width="0.22">0.51</text>
<line x1="40.60" y1="530.01" x2="43.30" y2="530.01" stroke="#6a6ab2" stroke-width="0.8"/>
<text transform="translate(37.30,533.91) scale(0.930,1)" font-size="10.20" fill="#1c1c8f" text-anchor="end" stroke="#1c1c8f" stroke-width="0.22">0.52</text>
<text transform="translate(37.30,511.50) scale(0.930,1)" font-size="10.20" fill="#1c1c8f" text-anchor="end" stroke="#1c1c8f" stroke-width="0.22">0.53</text>
<text transform="translate(298.30,713.20) scale(0.930,1)" font-size="10.20" fill="#8b1a1a" text-anchor="start" stroke="#8b1a1a" stroke-width="0.22">0</text>
<line x1="294.50" y1="675.68" x2="291.80" y2="675.68" stroke="#b86868" stroke-width="0.8"/>
<text transform="translate(298.30,679.58) scale(0.930,1)" font-size="10.20" fill="#8b1a1a" text-anchor="start" stroke="#8b1a1a" stroke-width="0.22">10</text>
<line x1="294.50" y1="642.07" x2="291.80" y2="642.07" stroke="#b86868" stroke-width="0.8"/>
<text transform="translate(298.30,645.97) scale(0.930,1)" font-size="10.20" fill="#8b1a1a" text-anchor="start" stroke="#8b1a1a" stroke-width="0.22">20</text>
<line x1="294.50" y1="608.45" x2="291.80" y2="608.45" stroke="#b86868" stroke-width="0.8"/>
<text transform="translate(298.30,612.35) scale(0.930,1)" font-size="10.20" fill="#8b1a1a" text-anchor="start" stroke="#8b1a1a" stroke-width="0.22">30</text>
<line x1="294.50" y1="574.83" x2="291.80" y2="574.83" stroke="#b86868" stroke-width="0.8"/>
<text transform="translate(298.30,578.73) scale(0.930,1)" font-size="10.20" fill="#8b1a1a" text-anchor="start" stroke="#8b1a1a" stroke-width="0.22">40</text>
<line x1="294.50" y1="541.22" x2="291.80" y2="541.22" stroke="#b86868" stroke-width="0.8"/>
<text transform="translate(298.30,545.12) scale(0.930,1)" font-size="10.20" fill="#8b1a1a" text-anchor="start" stroke="#8b1a1a" stroke-width="0.22">50</text>
<text transform="translate(298.30,511.50) scale(0.930,1)" font-size="10.20" fill="#8b1a1a" text-anchor="start" stroke="#8b1a1a" stroke-width="0.22">60</text>
<text x="167.55" y="734.50" font-size="10.35" fill="#262626" text-anchor="middle" font-weight="normal" stroke="#262626" stroke-width="0.22">Time (minutes)</text>
<text x="162.90" y="503.30" font-size="11.50" fill="#000" text-anchor="middle" font-weight="bold" stroke="#000" stroke-width="0.22">Pig 5</text>
<text transform="translate(10.00,608.45) rotate(-90)" font-size="10.90" fill="#1c1c8f" stroke="#1c1c8f" stroke-width="0.22" text-anchor="middle">RMS<tspan font-size="8.18" dy="4.36">oxy</tspan><tspan dy="-4.36" dx="0.8"> (</tspan><tspan font-style="italic">g</tspan>)</text>
<text transform="translate(320.50,608.45) rotate(-90)" font-size="10.90" fill="#8b1a1a" stroke="#8b1a1a" stroke-width="0.22" text-anchor="middle">&#916;<tspan font-style="italic">P</tspan><tspan font-size="8.18" dy="4.36">oxy</tspan><tspan dy="-4.36" dx="0.5"> (mmHg)</tspan></text>
<path d="M62.06,725.00 L60.16,728.60 L63.96,728.60 Z" fill="#000"/>
<line x1="62.06" y1="728.00" x2="62.06" y2="732.70" stroke="#000" stroke-width="1.4"/>
<text x="47.90" y="694.80" font-size="8.00" fill="#008000" text-anchor="middle" font-weight="normal" stroke="#008000" stroke-width="0.10">3.5</text>
<text x="104.20" y="698.50" font-size="8.00" fill="#008000" text-anchor="middle" font-weight="normal" stroke="#008000" stroke-width="0.10">3.3</text>
<text x="167.30" y="698.50" font-size="8.00" fill="#008000" text-anchor="middle" font-weight="normal" stroke="#008000" stroke-width="0.10">3.3</text>
<text x="288.10" y="699.15" font-size="8.00" fill="#008000" text-anchor="middle" font-weight="normal" stroke="#008000" stroke-width="0.10">3.4</text>
<rect x="222.10" y="513.30" width="66.40" height="28.20" fill="#fff" stroke="#6e6e6e" stroke-width="0.9"/>
<line x1="224.30" y1="518.86" x2="247.90" y2="518.86" stroke="#00008b" stroke-width="1.8"/>
<line x1="224.30" y1="527.60" x2="247.90" y2="527.60" stroke="#8b0000" stroke-width="1.8"/>
<line x1="224.30" y1="536.25" x2="247.90" y2="536.25" stroke="#008000" stroke-width="1.8" stroke-dasharray="6.6 5.9"/>
<ellipse cx="236.10" cy="536.25" rx="2.60" ry="2.39" fill="#008000"/>
<text x="249.70" y="521.36" font-size="7.00" fill="#111" text-anchor="start" font-weight="normal" stroke="#111" stroke-width="0.14">RMS</text>
<text x="249.70" y="530.10" font-size="7.00" fill="#111" text-anchor="start" font-weight="normal" stroke="#111" stroke-width="0.14">&#916;<tspan font-style="italic">P</tspan></text>
<text x="249.70" y="538.75" font-size="7.00" fill="#111" text-anchor="start" font-weight="normal" stroke="#111" stroke-width="0.14">ECMO flow</text>
<clipPath id="c6"><rect x="397.70" y="504.80" width="253.70" height="203.70"/></clipPath>
<g clip-path="url(#c6)">
<path d="M397.57,609.03 L397.98,609.66 L398.60,608.13 L398.95,608.63 L399.24,610.78 L399.87,610.28 L400.28,611.48 L400.77,609.42 L401.26,612.05 L401.60,612.34 L402.17,610.17 L402.67,611.93 L403.31,612.60 L403.66,613.20 L403.92,612.45 L404.45,613.22 L404.80,611.47 L405.11,613.37 L405.51,614.32 L406.15,613.82 L406.49,613.78 L406.70,613.32 L407.14,612.68 L407.69,611.47 L407.94,610.51 L408.32,612.95 L408.61,613.13 L409.04,610.58 L409.31,609.51 L409.70,609.50 L409.95,611.54 L410.10,609.64 L410.44,609.93 L410.66,608.66 L410.71,609.11 L410.97,607.23 L411.34,608.05 L411.28,606.67 L411.72,606.62 L411.82,606.96 L412.05,605.51 L412.45,605.38 L412.30,604.91 L412.61,604.39 L412.85,603.47 L413.35,602.20 L413.74,602.36 L414.19,604.03 L414.64,602.72 L415.13,599.91 L415.38,600.84 L415.82,600.34 L416.09,600.85 L416.68,599.34 L417.31,600.98 L417.68,599.15 L418.02,599.68 L418.37,600.52 L419.24,598.10 L419.31,596.77 L419.78,600.02 L420.24,599.32 L420.63,600.64 L420.75,600.54 L421.19,601.89 L421.64,602.45 L421.85,603.81 L422.25,599.93 L422.65,602.23 L423.24,600.37 L423.41,601.90 L423.74,600.30 L424.35,600.89 L424.52,598.98 L424.98,599.24 L425.13,597.13 L425.31,597.05 L425.95,597.79 L425.82,597.06 L426.14,599.03 L426.66,597.64 L426.29,595.62 L426.76,596.78 L427.07,596.01 L427.23,594.72 L427.66,594.34 L427.83,593.84 L428.02,595.13 L428.28,591.67 L428.58,592.34 L429.03,591.09 L429.29,591.41 L429.56,590.31 L429.74,591.48 L430.10,591.52 L430.40,590.17 L430.94,586.15 L431.10,589.78 L431.59,585.77 L432.02,587.61 L432.33,588.37 L432.65,586.69 L433.28,585.87 L433.38,588.16 L433.87,585.81 L434.53,587.92 L435.01,585.56 L435.61,584.65 L435.91,586.76 L436.56,587.45 L437.11,587.83 L437.76,586.91 L437.87,587.04 L438.41,586.77 L438.65,585.35 L439.09,584.04 L439.10,587.95 L439.83,584.52 L439.97,584.31 L439.99,583.30 L440.51,582.14 L440.64,584.28 L441.21,582.28 L442.11,583.19 L442.48,582.47 L442.72,582.93 L443.36,583.91 L443.84,583.04 L444.06,580.45 L444.47,582.80 L444.71,580.66 L444.80,581.32 L445.19,578.97 L445.51,578.40 L445.81,580.03 L446.09,578.48 L446.48,579.48 L446.59,577.97 L446.84,577.47 L446.85,576.72 L447.16,578.11 L447.36,574.95 L447.73,574.75 L447.72,576.19 L447.97,574.21 L448.22,575.48 L448.47,573.23 L448.71,573.57 L448.98,573.82 L449.06,572.93 L449.45,571.72 L449.52,572.79 L449.83,568.84 L450.05,572.13 L450.10,570.77 L450.51,570.79 L450.57,568.21 L450.88,568.13 L451.14,567.89 L451.39,566.09 L451.53,567.24 L451.83,567.25 L452.03,567.99 L452.12,565.47 L452.51,564.17 L452.65,563.87 L452.90,562.21 L453.09,564.15 L453.18,563.66 L453.59,562.36 L453.77,562.65 L453.88,562.57 L454.07,560.28 L454.52,562.15 L454.57,558.54 L454.66,559.35 L455.00,559.48 L455.26,558.14 L455.36,559.25 L455.43,558.59 L455.81,557.67 L455.98,556.19 L456.34,555.12 L456.39,556.18 L456.83,556.47 L457.73,554.92 L457.90,554.88 L458.53,553.57 L459.00,557.06 L459.51,553.67 L459.71,555.01 L460.30,554.64 L460.69,555.03 L461.31,556.51 L461.79,556.52 L462.26,556.08 L462.88,559.11 L463.17,556.32 L463.74,554.90 L464.12,555.38 L464.66,557.50 L465.36,557.38 L465.79,555.04 L466.41,556.35 L466.82,556.03 L467.40,556.61 L467.67,554.57 L468.24,557.00 L468.87,556.06 L469.45,554.68 L469.67,557.55 L470.62,554.96 L470.87,558.37 L471.38,556.71 L471.47,557.93 L471.77,558.59 L471.86,560.08 L472.22,561.73 L472.26,560.00 L472.52,560.15 L472.63,562.67 L473.05,561.77 L473.14,561.63 L473.36,560.99 L473.42,561.34 L473.88,562.42 L473.85,564.82 L473.95,562.75 L474.56,566.11 L474.83,563.73 L475.18,561.79 L475.29,562.58 L475.69,562.90 L475.89,562.92 L476.24,561.47 L476.65,559.69 L477.04,561.48 L477.30,560.29 L477.69,563.66 L478.05,561.42 L478.60,561.34 L479.01,562.54 L479.60,562.17 L479.92,562.20 L480.49,561.35 L480.79,564.35 L481.32,561.47 L481.91,559.57 L482.52,561.77 L482.92,560.79 L483.41,561.21 L483.76,559.96 L484.40,560.30 L484.61,559.12 L485.14,561.28 L485.40,558.37 L485.97,560.59 L486.15,558.00 L486.55,559.00 L486.72,559.51 L487.48,557.04 L488.00,558.17 L487.91,557.36 L488.41,556.47 L488.81,556.40 L488.99,556.76 L489.48,556.41 L489.71,555.16 L490.08,555.61 L490.59,554.28 L490.82,553.49 L491.30,555.39 L491.53,554.12 L492.07,555.86 L492.26,556.36 L492.80,555.25 L493.36,555.48 L493.45,556.10 L494.14,553.93 L494.52,559.96 L494.82,556.15 L495.39,558.63 L495.79,557.70 L495.94,559.78 L496.55,559.80 L496.92,558.89 L497.42,558.86 L497.83,556.74 L498.36,557.76 L498.88,557.39 L499.24,558.23 L499.82,555.27 L500.35,558.77 L500.39,555.90 L500.64,556.39 L501.22,555.79 L501.47,554.37 L501.91,556.51 L502.27,554.58 L502.39,554.35 L502.70,554.68 L502.88,553.43 L503.23,553.63 L503.47,552.39 L503.44,552.87 L503.89,550.70 L504.13,550.66 L504.36,552.61 L504.37,550.89 L504.46,550.57 L504.88,547.39 L504.87,547.65 L505.11,548.27 L505.28,547.81 L505.47,546.02 L505.53,547.53 L505.91,547.62 L506.20,547.58 L506.28,544.17 L506.46,544.54 L506.84,543.12 L507.49,545.85 L507.97,546.00 L508.44,545.12 L509.05,544.31 L509.51,544.58 L509.87,545.09 L510.17,545.72 L510.54,547.85 L511.13,548.17 L511.55,546.19 L511.75,549.42 L512.35,547.29 L512.78,548.71 L513.08,547.70 L513.67,548.36 L514.21,548.03 L514.71,548.95 L515.37,549.71 L515.94,549.16 L516.16,546.57 L516.17,547.17 L516.71,547.49 L516.96,546.56 L517.12,546.78 L517.45,546.64 L517.85,544.96 L518.21,543.74 L518.61,545.32 L518.76,542.40 L519.17,545.00 L519.69,541.45 L520.08,542.29 L520.46,544.02 L520.68,542.42 L521.08,542.79 L521.39,542.39 L521.91,542.29 L522.38,541.27 L522.62,541.11 L522.79,541.14 L523.12,540.49 L523.63,540.10 L523.78,537.42 L524.11,538.85 L524.45,537.23 L524.80,538.54 L525.06,538.37 L525.63,537.25 L525.63,538.81 L526.05,537.23 L526.24,536.58 L526.85,536.03 L527.02,533.58 L527.35,536.51 L527.69,535.15 L528.09,533.97 L528.32,534.11 L528.31,533.25 L528.97,533.98 L529.10,533.76 L529.48,531.71 L529.87,532.04 L530.06,531.30 L530.46,530.55 L530.87,531.68 L531.36,531.61 L531.64,529.16 L531.97,530.11 L532.17,530.40 L532.46,530.85 L532.43,530.12 L532.83,530.24 L532.73,532.52 L532.84,530.57 L533.13,531.67 L533.26,532.80 L533.17,531.30 L533.32,532.97 L533.44,533.53 L533.67,535.94 L533.79,535.11 L534.15,533.82 L533.96,534.73 L534.29,538.21 L534.23,537.16 L534.26,537.78 L534.87,537.81 L534.72,538.78 L534.89,538.59 L534.90,539.20 L534.89,539.77 L535.26,540.87 L535.22,541.60 L535.19,540.90 L535.50,541.61 L535.48,542.62 L535.71,541.96 L535.71,543.41 L536.02,543.77 L536.25,545.79 L536.14,544.83 L536.13,545.13 L536.47,545.99 L536.47,548.06 L536.70,544.89 L536.86,546.00 L536.77,548.46 L537.04,548.43 L536.80,546.55 L537.04,549.68 L537.28,549.35 L537.32,549.77 L537.52,550.92 L537.58,551.87 L537.66,551.65 L537.76,554.09 L537.84,550.52 L537.96,551.51 L538.21,555.17 L538.32,553.92 L538.33,554.69 L538.53,553.85 L538.74,555.31 L538.91,556.41 L538.80,557.12 L539.02,557.75 L539.47,555.29 L539.26,558.72 L539.18,557.94 L539.51,561.58 L539.68,558.55 L539.80,561.40 L539.86,560.03 L540.00,561.60 L539.88,562.79 L540.24,564.22 L540.35,562.80 L540.48,563.80 L540.65,563.06 L540.81,564.98 L540.72,565.13 L541.04,566.31 L541.18,564.20 L541.63,564.18 L541.76,563.25 L541.92,565.92 L542.36,564.85 L542.67,563.30 L542.81,561.11 L542.89,561.48 L543.42,562.77 L543.51,562.10 L543.81,560.91 L543.96,560.76 L544.58,560.59 L545.06,560.59 L545.33,561.49 L545.78,562.16 L546.24,560.52 L546.89,562.19 L547.08,562.60 L547.45,562.59 L547.86,564.42 L548.22,565.91 L548.70,562.42 L548.71,565.79 L549.17,565.87 L549.42,563.77 L549.93,564.66 L550.23,565.50 L550.47,565.46 L550.78,566.79 L551.05,565.62 L551.67,566.89 L552.13,568.57 L552.80,570.39 L553.13,568.52 L553.53,568.57 L553.61,567.31 L553.95,568.63 L554.16,566.53 L554.28,566.26 L554.64,565.84 L554.74,565.87 L554.76,566.10 L555.18,564.22 L555.33,564.42 L555.73,563.21 L555.66,562.28 L555.99,562.52 L556.17,561.16 L556.30,560.25 L556.49,561.31 L556.86,562.44 L557.14,560.20 L557.22,558.96 L557.44,559.54 L557.51,558.80 L557.63,558.13 L557.89,556.16 L558.21,556.70 L558.19,557.43 L558.50,555.51 L558.56,557.27 L559.04,553.23 L559.13,555.39 L559.13,554.80 L559.47,553.84 L559.59,551.87 L559.79,551.90 L559.80,552.11 L560.35,552.97 L560.59,550.67 L560.76,550.38 L560.87,551.16 L561.26,548.32 L561.65,548.59 L561.88,548.30 L562.19,548.37 L562.23,548.34 L562.53,547.89 L563.02,549.32 L563.22,547.33 L563.33,547.18 L563.61,546.07 L564.04,545.30 L564.39,545.86 L564.94,546.77 L565.24,547.56 L565.86,548.89 L566.62,547.49 L567.04,547.33 L567.35,546.24 L567.70,546.90 L568.15,546.78 L568.61,547.45 L569.05,544.37 L569.40,544.29 L569.66,543.74 L570.33,543.41 L570.63,543.16 L571.04,543.68 L571.84,545.39 L572.39,543.78 L572.86,542.00 L573.36,545.59 L573.81,542.10 L573.90,544.00 L574.32,542.73 L574.41,541.16 L574.83,543.94 L574.87,542.82 L575.48,541.20 L575.75,541.88 L576.07,540.74 L576.19,539.96 L576.72,538.55 L577.22,541.90 L577.73,540.74 L577.95,541.40 L578.20,543.07 L578.85,542.17 L579.04,543.11 L579.50,542.91 L579.90,542.70 L580.17,545.76 L580.15,545.81 L580.58,546.00 L581.04,545.17 L581.69,546.63 L581.94,547.63 L582.29,546.86 L582.29,548.07 L582.65,547.12 L583.04,547.32 L583.62,549.53 L583.89,548.76 L584.46,549.65 L584.81,548.62 L585.42,548.40 L585.75,550.31 L586.17,551.43 L586.39,547.86 L586.95,549.51 L587.63,547.80 L587.87,547.29 L588.03,548.43 L588.62,548.91 L588.75,547.24 L589.40,546.73 L590.05,547.06 L590.50,547.45 L591.16,545.06 L591.44,547.59 L592.03,544.00 L592.38,543.50 L592.95,546.42 L593.06,542.82 L593.67,544.65 L594.21,542.67 L594.66,546.42 L595.12,544.49 L595.24,542.90 L595.53,543.07 L595.83,544.28 L596.12,546.92 L596.30,546.19 L596.46,545.94 L596.69,546.66 L596.85,547.73 L597.38,548.55 L597.52,546.48 L597.53,548.93 L597.86,550.42 L597.98,548.94 L598.09,549.79 L598.30,550.38 L598.50,550.62 L598.85,552.17 L598.89,551.15 L598.87,551.86 L598.85,549.76 L598.91,551.08 L598.94,549.25 L598.98,550.62 L598.72,548.79 L598.96,548.69 L598.85,547.66 L598.89,545.79 L599.08,546.38 L599.05,546.61 L599.26,543.98 L599.16,545.22 L598.85,545.27 L599.15,545.07 L599.08,543.55 L598.93,544.26 L598.99,542.18 L599.01,543.30 L599.14,542.11 L599.09,540.02 L599.28,538.72 L599.03,540.37 L599.20,540.71 L599.22,539.23 L599.19,538.13 L599.22,539.14 L599.18,537.79 L599.21,537.47 L599.12,537.47 L599.16,535.91 L599.42,534.88 L599.10,535.36 L599.24,535.47 L599.31,534.10 L599.52,533.23 L599.49,532.72 L599.54,534.78 L599.62,532.92 L599.74,533.52 L599.84,532.76 L599.77,533.83 L599.83,535.27 L599.85,534.16 L599.65,535.99 L600.05,536.22 L599.86,536.32 L599.96,537.23 L600.13,537.07 L600.04,537.66 L600.23,538.76 L600.04,539.53 L600.08,538.97 L600.39,539.76 L599.94,539.59 L600.25,541.05 L600.27,542.79 L600.41,541.35 L600.32,541.69 L600.10,543.66 L600.34,542.99 L600.22,543.71 L600.53,545.03 L600.54,543.22 L600.65,545.76 L600.70,545.40 L600.62,546.27 L600.40,547.61 L600.62,549.48 L600.64,546.86 L600.81,547.78 L600.83,548.36 L600.89,550.18 L600.83,549.92 L600.94,551.01 L600.71,551.34 L600.88,551.06 L600.92,552.79 L600.94,552.73 L601.09,551.51 L601.13,553.71 L601.02,553.59 L600.95,555.07 L601.10,556.72 L601.26,554.24 L601.16,555.29 L601.41,558.43 L601.20,559.44 L601.50,557.56 L601.42,558.92 L601.26,557.25 L601.47,559.11 L601.45,559.78 L601.47,560.43 L601.48,560.31 L601.62,560.27 L601.34,560.20 L601.56,562.58 L601.70,564.05 L601.66,562.25 L601.73,564.36 L601.92,563.98 L601.76,564.31 L601.90,564.09 L601.84,567.32 L601.90,567.55 L601.97,565.04 L602.11,566.64 L602.02,566.78 L602.12,568.57 L602.05,568.03 L601.97,569.91 L602.05,568.35 L601.99,568.84 L601.99,569.95 L602.42,569.83 L602.26,570.81 L602.25,574.00 L602.11,573.31 L602.09,573.70 L602.36,573.79 L602.25,572.40 L602.54,573.43 L602.50,576.46 L602.68,576.06 L602.53,575.77 L602.68,577.47 L602.60,576.07 L602.75,578.43 L602.52,576.17 L602.77,579.05 L602.76,578.13 L602.53,578.75 L602.73,581.23 L602.98,581.44 L602.96,580.44 L602.79,581.51 L602.89,579.22 L602.78,581.45 L603.06,582.26 L603.01,582.02 L603.06,582.41 L603.02,583.98 L603.10,586.53 L603.12,584.79 L603.53,587.00 L603.25,587.40 L603.31,586.94 L603.18,585.91 L603.32,586.76 L603.43,588.77 L603.43,587.53 L603.36,588.08 L603.32,591.28 L603.39,589.29 L603.51,591.58 L603.67,591.11 L603.74,593.37 L603.59,595.29 L603.53,590.57 L603.48,592.22 L603.62,592.84 L603.56,596.17 L603.72,595.23 L603.85,595.21 L603.69,598.77 L603.73,596.64 L603.88,596.75 L603.91,597.52 L604.16,598.78 L604.10,597.95 L604.10,599.99 L604.03,598.43 L603.98,599.61 L604.03,601.50 L604.08,600.55 L604.23,603.07 L604.12,602.86 L604.43,601.76 L604.17,602.09 L604.35,604.52 L604.40,604.63 L604.22,604.87 L604.38,604.93 L604.55,604.97 L604.41,606.65 L604.32,603.81 L604.29,607.66 L604.45,608.63 L604.35,608.88 L604.22,608.27 L604.57,609.06 L604.51,609.06 L604.65,611.45 L604.66,610.31 L604.55,612.46 L604.77,609.77 L604.81,611.23 L604.58,612.24 L604.83,613.37 L604.53,611.95 L604.79,613.52 L604.84,614.09 L604.80,614.93 L605.05,615.93 L604.93,616.77 L605.09,614.76 L604.82,615.28 L604.85,618.90 L605.03,619.35 L605.07,618.96 L605.07,618.03 L604.84,619.02 L605.31,619.73 L605.25,620.95 L605.18,619.58 L605.24,622.22 L605.30,622.67 L605.47,621.76 L605.52,622.55 L605.32,624.45 L605.44,623.71 L605.30,625.96 L605.50,627.92 L605.50,625.41 L605.58,625.68 L605.43,625.49 L605.60,626.23 L605.45,628.02 L605.68,627.49 L605.62,629.21 L605.61,629.80 L605.86,629.65 L605.62,629.23 L605.94,631.45 L605.94,630.04 L605.90,631.88 L606.04,632.55 L605.86,632.69 L605.88,634.39 L605.90,632.64 L605.98,634.77 L606.10,634.67 L605.96,633.31 L605.98,635.83 L606.08,636.89 L606.30,638.13 L606.35,637.50 L606.27,638.00 L606.34,638.33 L606.14,639.49 L606.33,640.71 L606.33,639.09 L606.46,640.28 L606.12,641.60 L606.44,642.64 L606.42,641.45 L606.15,642.99 L606.29,644.44 L606.63,643.46 L606.65,640.96 L606.70,642.62 L606.63,645.12 L606.59,645.57 L606.81,646.71 L606.62,646.29 L606.45,646.64 L606.54,646.65 L606.77,646.99 L606.72,648.25 L606.65,648.49 L606.87,648.61 L606.90,647.64 L606.60,650.57 L606.56,649.25 L606.62,652.31 L606.88,652.52 L606.82,652.96 L606.77,652.70 L607.02,654.61 L606.89,652.88 L606.64,653.16 L606.85,654.11 L606.89,654.66 L606.68,655.89 L606.98,655.59 L606.83,656.09 L606.72,656.87 L606.99,658.47 L607.03,657.93 L607.06,660.13 L607.03,659.14 L606.91,660.48 L607.03,661.18 L607.07,661.68 L606.93,661.87 L607.07,661.68 L606.97,661.99 L607.01,663.91 L607.09,664.29 L607.06,663.68 L606.88,665.53 L607.21,665.51 L607.10,665.16 L607.30,666.22 L607.15,666.50 L607.34,667.48 L607.12,666.75 L607.18,668.58 L607.16,668.39 L607.11,668.80 L607.26,671.85 L607.14,668.68 L607.29,670.90 L607.26,671.36 L607.32,670.51 L607.17,670.90 L607.41,671.18 L607.42,672.20 L607.41,673.39 L607.20,673.61 L607.13,673.25 L607.52,673.11 L607.38,675.10 L607.53,674.84 L607.37,678.12 L607.49,677.49 L607.35,677.66 L607.50,677.06 L607.45,678.99 L607.72,679.56 L607.56,678.16 L607.33,681.36 L607.44,682.34 L607.40,682.13 L607.40,681.97 L607.32,683.05 L607.51,682.52 L607.61,683.68 L607.70,683.86 L607.70,684.74 L607.63,683.63 L607.53,685.65 L607.61,685.34 L607.71,685.76 L607.78,685.98 L607.71,686.40 L607.77,686.97 L608.09,686.92 L608.65,687.17 L609.11,685.07 L609.62,688.42 L610.41,686.49 L610.65,686.92 L611.08,687.09 L612.08,686.04 L612.19,687.05 L612.95,687.99 L613.49,688.34 L613.92,686.38 L614.59,688.98 L614.93,689.61 L615.33,685.43 L615.55,687.32 L615.67,686.31 L615.78,685.44 L616.20,685.31 L616.36,683.10 L616.63,685.44 L616.71,684.43 L616.95,683.95 L617.45,682.89 L617.45,682.41 L617.74,682.06 L617.86,681.49 L618.23,680.08 L618.64,680.50 L618.90,680.50 L619.45,679.80 L619.85,680.38 L620.27,679.33 L620.82,678.19 L621.34,679.91 L621.68,680.20 L622.26,678.37 L622.71,678.50 L623.16,679.55 L623.33,677.32 L624.00,676.89 L624.12,677.81 L624.65,678.08 L624.99,675.57 L625.63,677.23 L625.90,674.80 L626.32,678.31 L626.96,675.50 L627.42,679.14 L628.08,674.86 L628.45,678.00 L628.73,677.57 L629.54,677.59 L629.80,676.53 L630.33,676.34 L630.67,678.23 L630.90,680.38 L631.30,679.72 L631.77,678.95 L632.14,679.43 L632.53,679.68 L632.98,678.93 L633.09,679.42 L633.86,680.64 L634.04,680.73 L634.46,681.46 L634.42,678.91 L634.72,678.66 L635.11,679.85 L635.05,678.06 L635.43,678.08 L635.76,678.78 L636.22,677.04 L636.36,676.90 L636.39,675.87 L636.70,677.10 L637.25,673.71 L637.12,675.55 L637.78,675.56 L638.11,675.02 L638.27,673.63 L638.84,672.18 L638.96,672.55 L639.18,671.84 L639.53,671.08 L639.90,671.42 L640.27,672.30 L640.49,669.87 L640.74,669.92 L640.92,668.94 L641.45,672.01 L641.90,670.74 L642.41,670.09 L642.63,670.71 L642.92,671.28 L643.42,671.24 L643.79,671.79 L644.02,671.48 L644.27,674.53 L644.49,673.57 L644.72,675.52 L645.01,673.11 L645.35,674.18 L645.30,674.63 L645.51,678.47 L646.12,676.15 L646.03,676.49 L646.06,677.15 L646.20,679.05 L646.31,677.46 L646.98,680.68 L646.95,681.20 L647.06,678.81 L647.61,680.39 L648.10,680.42 L648.37,681.67 L648.93,681.46 L649.03,680.19 L649.63,682.94 L649.98,683.81 L650.20,684.87" fill="none" stroke="#00008b" stroke-width="2.05" stroke-linejoin="round"/>
<path d="M397.70,599.50 L398.78,599.60 L399.86,599.66 L400.94,599.59 L402.02,599.46 L403.10,599.35 L404.18,599.27 L405.26,599.22 L406.34,599.20 L407.42,599.14 L408.50,599.01 L409.54,598.96 L410.58,599.05 L411.62,599.06 L412.67,599.02 L413.71,599.19 L414.75,599.49 L415.79,599.55 L416.83,599.34 L417.88,599.20 L418.92,599.21 L419.96,599.18 L421.00,599.11 L422.04,599.17 L423.08,599.27 L424.12,599.29 L425.17,599.29 L426.21,599.31 L427.25,599.36 L428.29,599.38 L429.33,599.31 L430.38,599.20 L431.42,599.16 L432.46,599.22 L433.50,599.32 L434.54,599.51 L435.58,599.57 L436.62,599.55 L437.67,599.59 L438.71,599.66 L439.75,599.68 L440.79,599.71 L441.83,599.86 L442.88,600.11 L443.92,600.36 L444.96,600.48 L446.00,600.50 L447.04,600.49 L448.08,600.55 L449.12,600.53 L450.17,600.43 L451.21,600.35 L452.25,600.29 L453.29,600.25 L454.33,600.24 L455.38,600.33 L456.42,600.51 L457.46,600.63 L458.50,600.63 L459.54,600.59 L460.58,600.56 L461.62,600.59 L462.67,600.63 L463.71,600.63 L464.75,600.62 L465.79,600.68 L466.83,600.79 L467.88,600.85 L468.92,600.82 L469.96,600.74 L471.00,600.66 L472.04,600.45 L473.07,600.38 L474.11,600.30 L475.15,600.13 L476.19,599.97 L477.23,599.84 L478.26,599.57 L479.30,599.21 L480.23,598.74 L481.17,598.32 L482.10,597.84 L483.03,597.43 L483.97,597.14 L484.90,596.82 L485.83,596.43 L486.77,596.09 L487.70,595.79 L488.62,595.39 L489.54,594.95 L490.47,594.58 L491.39,594.24 L492.31,593.84 L493.23,593.40 L494.16,592.95 L495.08,592.60 L496.00,592.27 L497.04,591.90 L498.07,591.55 L499.11,591.27 L500.15,590.91 L501.19,590.54 L502.23,590.31 L503.26,590.07 L504.30,589.71 L505.35,589.21 L506.40,588.72 L507.45,588.34 L508.50,588.00 L509.55,587.58 L510.60,587.16 L511.65,586.77 L512.70,586.31 L513.80,586.18 L514.90,586.10 L516.00,586.16 L516.95,585.89 L517.89,585.60 L518.84,585.18 L519.78,584.58 L520.73,583.92 L521.67,583.39 L522.62,582.99 L523.56,582.48 L524.51,581.82 L525.45,581.28 L526.40,580.97 L527.35,580.77 L528.29,580.42 L529.24,580.00 L530.18,579.56 L531.13,579.15 L532.07,578.76 L533.02,578.40 L533.96,578.11 L534.91,577.82 L535.85,577.48 L536.80,577.10 L537.85,575.96 L538.90,574.80 L539.85,574.38 L540.79,574.00 L541.74,573.71 L542.68,573.48 L543.63,573.22 L544.57,572.91 L545.52,572.62 L546.46,572.37 L547.41,572.02 L548.35,571.60 L549.30,571.23 L550.26,570.82 L551.22,570.49 L552.18,570.27 L553.15,570.00 L554.11,569.50 L555.07,568.95 L556.03,568.56 L556.99,568.27 L557.95,567.93 L558.92,567.45 L559.88,566.92 L560.84,566.58 L561.80,566.41 L562.76,566.23 L563.72,565.92 L564.68,565.57 L565.65,565.26 L566.61,564.93 L567.57,564.57 L568.53,564.21 L569.49,563.89 L570.45,563.66 L571.42,563.40 L572.38,562.98 L573.34,562.56 L574.30,562.31 L575.26,562.13 L576.22,561.88 L577.18,561.62 L578.15,561.26 L579.11,560.85 L580.07,560.54 L581.03,560.29 L581.99,559.98 L582.95,559.67 L583.92,559.42 L584.88,559.22 L585.84,559.02 L586.80,558.75 L587.84,558.47 L588.88,558.16 L589.92,557.96 L590.97,557.93 L592.01,557.82 L593.05,557.50 L594.09,557.20 L595.13,556.95 L596.17,556.66 L597.22,556.40 L598.26,556.24 L599.30,556.15 L600.35,555.84 L601.40,555.35 L602.45,554.90 L603.50,554.58 L604.55,554.35 L605.60,554.09 L606.65,553.71 L607.70,553.32 L608.74,553.07 L609.78,552.80 L610.81,552.48 L611.85,552.17 L612.89,551.95 L613.92,551.76 L614.96,551.51 L616.00,551.16 L617.05,550.40 L618.10,549.79 L619.14,549.76 L620.18,549.61 L621.22,549.31 L622.26,548.94 L623.30,548.67 L624.34,548.55 L625.38,548.47 L626.42,548.37 L627.46,548.25 L628.50,548.04 L629.54,547.68 L630.58,547.37 L631.62,547.14 L632.67,546.88 L633.71,546.55 L634.75,546.26 L635.79,546.10 L636.83,545.91 L637.88,545.57 L638.92,545.19 L639.96,544.87 L641.00,544.65 L642.04,544.50 L643.08,544.24 L644.12,543.96 L645.16,543.76 L646.20,543.55 L647.24,543.22 L648.28,542.85 L649.32,542.61 L650.36,542.49 L651.40,542.33" fill="none" stroke="#8b0000" stroke-width="2.00" stroke-linejoin="round"/>
<path d="M401.20,680.70 L460.60,687.60 L523.90,691.10 L646.80,691.10" fill="none" stroke="#008000" stroke-width="2.00" stroke-dasharray="6.6 5.9"/>
<ellipse cx="401.20" cy="680.70" rx="2.60" ry="2.39" fill="#008000"/>
<ellipse cx="460.60" cy="687.60" rx="2.60" ry="2.39" fill="#008000"/>
<ellipse cx="523.90" cy="691.10" rx="2.60" ry="2.39" fill="#008000"/>
<ellipse cx="646.80" cy="691.10" rx="2.60" ry="2.39" fill="#008000"/>
</g>
<line x1="397.70" y1="505.80" x2="651.40" y2="505.80" stroke="#858585" stroke-width="1.10"/>
<line x1="397.70" y1="707.50" x2="651.40" y2="707.50" stroke="#858585" stroke-width="1.10"/>
<line x1="397.70" y1="505.80" x2="397.70" y2="707.50" stroke="#6a6ab2" stroke-width="1.10"/>
<line x1="651.40" y1="505.80" x2="651.40" y2="707.50" stroke="#b86868" stroke-width="1.10"/>
<text transform="translate(397.70,720.20) scale(0.930,1)" font-size="10.20" fill="#262626" text-anchor="middle" stroke="#262626" stroke-width="0.22">0</text>
<line x1="418.84" y1="707.50" x2="418.84" y2="704.80" stroke="#707070" stroke-width="0.9"/>
<line x1="418.84" y1="505.80" x2="418.84" y2="508.50" stroke="#707070" stroke-width="0.9"/>
<text transform="translate(418.84,720.20) scale(0.930,1)" font-size="10.20" fill="#262626" text-anchor="middle" stroke="#262626" stroke-width="0.22">5</text>
<line x1="439.98" y1="707.50" x2="439.98" y2="704.80" stroke="#707070" stroke-width="0.9"/>
<line x1="439.98" y1="505.80" x2="439.98" y2="508.50" stroke="#707070" stroke-width="0.9"/>
<text transform="translate(439.98,720.20) scale(0.930,1)" font-size="10.20" fill="#262626" text-anchor="middle" stroke="#262626" stroke-width="0.22">10</text>
<line x1="461.12" y1="707.50" x2="461.12" y2="704.80" stroke="#707070" stroke-width="0.9"/>
<line x1="461.12" y1="505.80" x2="461.12" y2="508.50" stroke="#707070" stroke-width="0.9"/>
<text transform="translate(461.12,720.20) scale(0.930,1)" font-size="10.20" fill="#262626" text-anchor="middle" stroke="#262626" stroke-width="0.22">15</text>
<line x1="482.27" y1="707.50" x2="482.27" y2="704.80" stroke="#707070" stroke-width="0.9"/>
<line x1="482.27" y1="505.80" x2="482.27" y2="508.50" stroke="#707070" stroke-width="0.9"/>
<text transform="translate(482.27,720.20) scale(0.930,1)" font-size="10.20" fill="#262626" text-anchor="middle" stroke="#262626" stroke-width="0.22">20</text>
<line x1="503.41" y1="707.50" x2="503.41" y2="704.80" stroke="#707070" stroke-width="0.9"/>
<line x1="503.41" y1="505.80" x2="503.41" y2="508.50" stroke="#707070" stroke-width="0.9"/>
<text transform="translate(503.41,720.20) scale(0.930,1)" font-size="10.20" fill="#262626" text-anchor="middle" stroke="#262626" stroke-width="0.22">25</text>
<line x1="524.55" y1="707.50" x2="524.55" y2="704.80" stroke="#707070" stroke-width="0.9"/>
<line x1="524.55" y1="505.80" x2="524.55" y2="508.50" stroke="#707070" stroke-width="0.9"/>
<text transform="translate(524.55,720.20) scale(0.930,1)" font-size="10.20" fill="#262626" text-anchor="middle" stroke="#262626" stroke-width="0.22">30</text>
<line x1="545.69" y1="707.50" x2="545.69" y2="704.80" stroke="#707070" stroke-width="0.9"/>
<line x1="545.69" y1="505.80" x2="545.69" y2="508.50" stroke="#707070" stroke-width="0.9"/>
<text transform="translate(545.69,720.20) scale(0.930,1)" font-size="10.20" fill="#262626" text-anchor="middle" stroke="#262626" stroke-width="0.22">35</text>
<line x1="566.83" y1="707.50" x2="566.83" y2="704.80" stroke="#707070" stroke-width="0.9"/>
<line x1="566.83" y1="505.80" x2="566.83" y2="508.50" stroke="#707070" stroke-width="0.9"/>
<text transform="translate(566.83,720.20) scale(0.930,1)" font-size="10.20" fill="#262626" text-anchor="middle" stroke="#262626" stroke-width="0.22">40</text>
<line x1="587.97" y1="707.50" x2="587.97" y2="704.80" stroke="#707070" stroke-width="0.9"/>
<line x1="587.97" y1="505.80" x2="587.97" y2="508.50" stroke="#707070" stroke-width="0.9"/>
<text transform="translate(587.97,720.20) scale(0.930,1)" font-size="10.20" fill="#262626" text-anchor="middle" stroke="#262626" stroke-width="0.22">45</text>
<line x1="609.12" y1="707.50" x2="609.12" y2="704.80" stroke="#707070" stroke-width="0.9"/>
<line x1="609.12" y1="505.80" x2="609.12" y2="508.50" stroke="#707070" stroke-width="0.9"/>
<text transform="translate(609.12,720.20) scale(0.930,1)" font-size="10.20" fill="#262626" text-anchor="middle" stroke="#262626" stroke-width="0.22">50</text>
<line x1="630.26" y1="707.50" x2="630.26" y2="704.80" stroke="#707070" stroke-width="0.9"/>
<line x1="630.26" y1="505.80" x2="630.26" y2="508.50" stroke="#707070" stroke-width="0.9"/>
<text transform="translate(630.26,720.20) scale(0.930,1)" font-size="10.20" fill="#262626" text-anchor="middle" stroke="#262626" stroke-width="0.22">55</text>
<text transform="translate(651.40,720.20) scale(0.930,1)" font-size="10.20" fill="#262626" text-anchor="middle" stroke="#262626" stroke-width="0.22">60</text>
<text transform="translate(394.40,711.40) scale(0.930,1)" font-size="10.20" fill="#1c1c8f" text-anchor="end" stroke="#1c1c8f" stroke-width="0.22">0.42</text>
<line x1="397.70" y1="682.29" x2="400.40" y2="682.29" stroke="#6a6ab2" stroke-width="0.8"/>
<text transform="translate(394.40,686.19) scale(0.930,1)" font-size="10.20" fill="#1c1c8f" text-anchor="end" stroke="#1c1c8f" stroke-width="0.22">0.43</text>
<line x1="397.70" y1="657.08" x2="400.40" y2="657.08" stroke="#6a6ab2" stroke-width="0.8"/>
<text transform="translate(394.40,660.98) scale(0.930,1)" font-size="10.20" fill="#1c1c8f" text-anchor="end" stroke="#1c1c8f" stroke-width="0.22">0.44</text>
<line x1="397.70" y1="631.86" x2="400.40" y2="631.86" stroke="#6a6ab2" stroke-width="0.8"/>
<text transform="translate(394.40,635.76) scale(0.930,1)" font-size="10.20" fill="#1c1c8f" text-anchor="end" stroke="#1c1c8f" stroke-width="0.22">0.45</text>
<line x1="397.70" y1="606.65" x2="400.40" y2="606.65" stroke="#6a6ab2" stroke-width="0.8"/>
<text transform="translate(394.40,610.55) scale(0.930,1)" font-size="10.20" fill="#1c1c8f" text-anchor="end" stroke="#1c1c8f" stroke-width="0.22">0.46</text>
<line x1="397.70" y1="581.44" x2="400.40" y2="581.44" stroke="#6a6ab2" stroke-width="0.8"/>
<text transform="translate(394.40,585.34) scale(0.930,1)" font-size="10.20" fill="#1c1c8f" text-anchor="end" stroke="#1c1c8f" stroke-width="0.22">0.47</text>
<line x1="397.70" y1="556.23" x2="400.40" y2="556.23" stroke="#6a6ab2" stroke-width="0.8"/>
<text transform="translate(394.40,560.12) scale(0.930,1)" font-size="10.20" fill="#1c1c8f" text-anchor="end" stroke="#1c1c8f" stroke-width="0.22">0.48</text>
<line x1="397.70" y1="531.01" x2="400.40" y2="531.01" stroke="#6a6ab2" stroke-width="0.8"/>
<text transform="translate(394.40,534.91) scale(0.930,1)" font-size="10.20" fill="#1c1c8f" text-anchor="end" stroke="#1c1c8f" stroke-width="0.22">0.49</text>
<text transform="translate(394.40,509.70) scale(0.930,1)" font-size="10.20" fill="#1c1c8f" text-anchor="end" stroke="#1c1c8f" stroke-width="0.22">0.5</text>
<text transform="translate(655.20,711.40) scale(0.930,1)" font-size="10.20" fill="#8b1a1a" text-anchor="start" stroke="#8b1a1a" stroke-width="0.22">0</text>
<line x1="651.40" y1="673.88" x2="648.70" y2="673.88" stroke="#b86868" stroke-width="0.8"/>
<text transform="translate(655.20,677.78) scale(0.930,1)" font-size="10.20" fill="#8b1a1a" text-anchor="start" stroke="#8b1a1a" stroke-width="0.22">10</text>
<line x1="651.40" y1="640.27" x2="648.70" y2="640.27" stroke="#b86868" stroke-width="0.8"/>
<text transform="translate(655.20,644.17) scale(0.930,1)" font-size="10.20" fill="#8b1a1a" text-anchor="start" stroke="#8b1a1a" stroke-width="0.22">20</text>
<line x1="651.40" y1="606.65" x2="648.70" y2="606.65" stroke="#b86868" stroke-width="0.8"/>
<text transform="translate(655.20,610.55) scale(0.930,1)" font-size="10.20" fill="#8b1a1a" text-anchor="start" stroke="#8b1a1a" stroke-width="0.22">30</text>
<line x1="651.40" y1="573.03" x2="648.70" y2="573.03" stroke="#b86868" stroke-width="0.8"/>
<text transform="translate(655.20,576.93) scale(0.930,1)" font-size="10.20" fill="#8b1a1a" text-anchor="start" stroke="#8b1a1a" stroke-width="0.22">40</text>
<line x1="651.40" y1="539.42" x2="648.70" y2="539.42" stroke="#b86868" stroke-width="0.8"/>
<text transform="translate(655.20,543.32) scale(0.930,1)" font-size="10.20" fill="#8b1a1a" text-anchor="start" stroke="#8b1a1a" stroke-width="0.22">50</text>
<text transform="translate(655.20,509.70) scale(0.930,1)" font-size="10.20" fill="#8b1a1a" text-anchor="start" stroke="#8b1a1a" stroke-width="0.22">60</text>
<text x="524.55" y="732.70" font-size="10.35" fill="#262626" text-anchor="middle" font-weight="normal" stroke="#262626" stroke-width="0.22">Time (minutes)</text>
<text x="519.50" y="501.50" font-size="11.50" fill="#000" text-anchor="middle" font-weight="bold" stroke="#000" stroke-width="0.22">Pig 6</text>
<text transform="translate(366.50,606.65) rotate(-90)" font-size="10.90" fill="#1c1c8f" stroke="#1c1c8f" stroke-width="0.22" text-anchor="middle">RMS<tspan font-size="8.18" dy="4.36">oxy</tspan><tspan dy="-4.36" dx="0.8"> (</tspan><tspan font-style="italic">g</tspan>)</text>
<text transform="translate(677.40,606.65) rotate(-90)" font-size="10.90" fill="#8b1a1a" stroke="#8b1a1a" stroke-width="0.22" text-anchor="middle">&#916;<tspan font-style="italic">P</tspan><tspan font-size="8.18" dy="4.36">oxy</tspan><tspan dy="-4.36" dx="0.5"> (mmHg)</tspan></text>
<path d="M419.14,723.20 L417.24,726.80 L421.04,726.80 Z" fill="#000"/>
<line x1="419.14" y1="726.20" x2="419.14" y2="730.90" stroke="#000" stroke-width="1.4"/>
<text x="403.90" y="691.90" font-size="8.00" fill="#008000" text-anchor="middle" font-weight="normal" stroke="#008000" stroke-width="0.10">3.5</text>
<text x="460.60" y="697.15" font-size="8.00" fill="#008000" text-anchor="middle" font-weight="normal" stroke="#008000" stroke-width="0.10">3.3</text>
<text x="524.30" y="699.65" font-size="8.00" fill="#008000" text-anchor="middle" font-weight="normal" stroke="#008000" stroke-width="0.10">3.2</text>
<text x="643.10" y="702.80" font-size="8.00" fill="#008000" text-anchor="middle" font-weight="normal" stroke="#008000" stroke-width="0.10">3.2</text>
<rect x="580.60" y="510.30" width="66.65" height="28.10" fill="#fff" stroke="#6e6e6e" stroke-width="0.9"/>
<line x1="582.80" y1="515.84" x2="606.40" y2="515.84" stroke="#00008b" stroke-width="1.8"/>
<line x1="582.80" y1="524.55" x2="606.40" y2="524.55" stroke="#8b0000" stroke-width="1.8"/>
<line x1="582.80" y1="533.17" x2="606.40" y2="533.17" stroke="#008000" stroke-width="1.8" stroke-dasharray="6.6 5.9"/>
<ellipse cx="594.60" cy="533.17" rx="2.60" ry="2.39" fill="#008000"/>
<text x="608.20" y="518.34" font-size="7.00" fill="#111" text-anchor="start" font-weight="normal" stroke="#111" stroke-width="0.14">RMS</text>
<text x="608.20" y="527.05" font-size="7.00" fill="#111" text-anchor="start" font-weight="normal" stroke="#111" stroke-width="0.14">&#916;<tspan font-style="italic">P</tspan></text>
<text x="608.20" y="535.67" font-size="7.00" fill="#111" text-anchor="start" font-weight="normal" stroke="#111" stroke-width="0.14">ECMO flow</text>
<clipPath id="c7"><rect x="44.50" y="754.40" width="249.90" height="202.80"/></clipPath>
<g clip-path="url(#c7)">
<path d="M44.40,878.56 L44.52,878.22 L44.68,880.26 L44.57,882.05 L44.63,880.03 L44.72,881.13 L44.95,880.81 L44.96,881.54 L44.69,882.00 L44.89,882.14 L45.09,881.23 L45.22,883.93 L44.95,882.86 L44.89,883.76 L45.40,882.69 L45.23,884.98 L45.37,883.87 L45.27,886.73 L45.29,887.01 L45.14,886.58 L45.52,886.44 L45.37,887.98 L45.55,889.50 L45.74,893.23 L45.55,890.78 L45.66,890.64 L45.96,886.94 L45.99,890.70 L46.38,892.90 L46.52,894.13 L46.56,892.62 L46.75,893.05 L46.95,894.87 L47.31,895.50 L47.58,893.52 L47.98,894.81 L47.67,895.28 L47.94,896.59 L48.48,895.90 L48.71,896.94 L49.16,898.26 L49.68,897.03 L49.98,896.75 L50.51,897.46 L51.01,900.03 L51.47,897.24 L51.88,898.22 L52.11,897.65 L52.16,898.96 L52.41,896.55 L52.56,897.00 L52.72,896.74 L53.30,894.80 L53.30,895.96 L53.31,896.00 L53.68,892.55 L53.92,895.30 L53.99,894.06 L54.45,894.02 L54.25,890.79 L54.52,888.62 L54.58,892.17 L54.94,890.02 L55.25,892.39 L55.08,890.16 L55.36,889.44 L55.72,888.05 L55.97,886.39 L56.09,887.85 L56.24,886.29 L56.34,887.63 L56.93,887.43 L56.80,889.92 L56.91,891.71 L57.28,886.31 L57.65,885.16 L57.55,889.33 L57.92,889.29 L57.84,889.36 L57.91,889.68 L58.58,893.04 L58.65,892.18 L58.60,890.90 L59.05,892.56 L58.95,893.39 L58.74,893.21 L58.89,892.49 L59.19,893.06 L59.30,896.63 L59.22,896.19 L59.90,898.30 L59.54,897.29 L59.72,896.82 L59.68,895.90 L59.67,898.71 L59.90,897.84 L60.24,897.63 L59.95,899.76 L60.06,899.01 L60.39,903.71 L60.18,900.53 L60.54,901.10 L60.52,901.30 L60.71,900.43 L60.79,904.90 L60.62,902.89 L60.87,902.95 L60.89,905.27 L61.03,902.33 L61.13,902.90 L61.21,906.38 L61.34,904.26 L61.64,905.93 L61.62,907.23 L61.67,906.56 L61.48,907.71 L61.88,908.89 L62.21,908.63 L61.86,910.60 L62.38,909.84 L62.45,910.29 L62.22,911.58 L62.53,912.34 L62.73,914.57 L62.79,914.75 L62.96,914.02 L62.97,911.26 L63.17,914.73 L63.49,914.59 L63.45,915.57 L63.85,915.99 L63.59,912.08 L63.21,916.71 L63.86,917.15 L64.15,914.55 L63.83,918.26 L64.04,919.06 L64.43,919.06 L64.37,919.54 L64.37,921.32 L64.39,921.29 L64.60,920.60 L64.73,920.39 L64.55,921.53 L64.98,922.92 L65.10,923.93 L65.12,923.91 L65.21,922.98 L65.70,926.44 L64.97,924.50 L65.66,925.43 L65.64,926.48 L65.95,925.99 L65.76,927.00 L66.18,927.94 L66.15,928.20 L66.03,929.13 L66.34,926.91 L66.29,925.97 L66.07,928.11 L66.48,926.39 L66.30,922.85 L66.48,924.81 L66.59,923.63 L66.55,922.25 L66.84,920.58 L66.99,923.04 L67.04,920.93 L67.03,921.78 L67.07,921.69 L67.23,920.41 L67.25,919.78 L67.58,916.05 L67.42,917.45 L67.32,920.23 L67.54,918.32 L67.47,914.95 L67.73,917.05 L67.55,916.54 L67.75,915.86 L68.08,915.00 L67.85,916.36 L68.10,910.91 L68.00,912.99 L68.40,912.82 L68.16,913.05 L68.33,912.82 L68.24,911.68 L68.44,910.77 L68.35,913.18 L68.71,909.80 L68.34,909.18 L68.73,908.66 L68.78,905.57 L68.41,908.03 L68.66,907.59 L68.60,907.53 L68.88,906.66 L68.86,907.97 L69.09,905.95 L68.83,904.04 L68.80,902.06 L68.88,905.55 L69.28,903.70 L68.88,903.07 L69.16,904.57 L69.50,901.11 L69.23,903.39 L69.39,900.19 L69.29,902.92 L69.49,900.06 L69.67,901.60 L69.63,898.14 L69.60,898.23 L69.61,898.88 L69.56,896.99 L69.80,897.10 L69.99,897.51 L69.81,894.88 L69.58,894.22 L70.06,896.37 L70.05,894.95 L69.64,894.50 L69.94,890.75 L70.35,893.54 L70.28,891.33 L70.07,893.86 L70.12,889.50 L70.30,890.61 L70.56,892.96 L70.27,889.50 L70.40,890.56 L70.50,888.69 L70.51,886.91 L70.39,888.66 L70.68,887.37 L70.76,887.35 L70.60,887.29 L70.74,884.92 L70.84,886.72 L70.90,885.81 L70.95,884.98 L71.15,885.72 L70.97,884.04 L71.20,882.86 L71.07,883.28 L71.29,883.24 L71.39,881.77 L71.45,881.27 L71.52,880.97 L71.88,879.59 L71.76,880.28 L72.17,882.66 L72.04,877.59 L72.43,878.72 L72.59,878.11 L73.01,875.63 L73.16,876.70 L72.96,876.68 L73.29,874.93 L73.12,876.48 L73.42,876.84 L73.50,880.29 L73.35,878.74 L73.66,878.80 L73.82,879.83 L73.72,878.56 L73.70,881.15 L73.88,880.84 L74.32,881.00 L74.31,883.67 L74.32,880.87 L74.52,883.19 L74.37,881.56 L74.69,884.29 L74.70,885.72 L74.88,885.36 L74.86,886.73 L74.71,885.30 L75.33,885.40 L75.26,886.20 L74.93,887.52 L75.43,887.67 L75.36,888.22 L75.32,887.39 L75.52,889.49 L75.44,890.10 L75.74,889.92 L75.57,890.49 L75.81,891.62 L76.06,893.04 L76.01,893.03 L76.07,893.45 L76.27,891.35 L76.17,893.25 L76.24,894.49 L76.30,894.66 L76.35,894.80 L76.48,895.50 L76.27,896.61 L76.38,897.53 L76.76,897.65 L76.83,898.57 L76.64,896.83 L76.77,897.37 L76.97,898.90 L77.07,899.92 L76.83,900.84 L77.07,899.96 L77.06,896.97 L77.33,900.95 L77.21,901.08 L77.23,903.10 L77.50,902.95 L77.41,902.86 L77.35,905.71 L77.66,904.76 L77.70,905.27 L77.73,907.09 L78.05,909.54 L78.08,907.10 L77.96,905.66 L78.01,907.35 L78.22,908.74 L78.15,909.89 L78.38,909.41 L78.34,909.04 L78.36,911.80 L78.23,909.47 L78.26,910.35 L78.83,910.79 L78.89,910.31 L78.79,908.28 L78.97,908.76 L78.84,909.32 L79.36,908.42 L79.32,907.93 L79.31,908.29 L79.64,905.03 L79.73,905.53 L79.74,907.17 L79.70,906.15 L79.95,903.44 L80.17,908.00 L80.26,903.96 L80.32,903.91 L80.68,903.43 L80.88,903.04 L80.66,904.96 L80.58,900.79 L81.23,899.42 L81.13,901.60 L81.07,899.28 L81.07,899.11 L81.44,897.31 L81.46,897.31 L81.57,896.13 L81.84,897.28 L81.70,895.94 L81.87,895.82 L82.15,897.22 L82.38,895.10 L82.14,893.28 L82.30,891.48 L82.79,892.98 L82.57,893.92 L82.74,891.30 L82.90,892.30 L82.78,894.18 L82.99,889.99 L83.42,888.82 L83.23,889.31 L82.99,890.19 L83.66,888.94 L83.60,889.05 L83.91,887.85 L84.07,888.36 L84.11,887.23 L84.65,886.19 L84.95,885.35 L84.89,886.29 L85.66,884.38 L86.15,884.28 L86.28,885.12 L86.30,883.76 L86.67,884.51 L86.83,884.08 L87.30,884.61 L87.47,882.85 L87.58,882.02 L87.44,882.31 L87.71,880.81 L88.08,880.82 L88.03,879.60 L87.97,879.53 L88.04,881.56 L88.72,879.43 L88.72,877.10 L88.95,878.12 L89.44,878.18 L89.60,878.76 L89.64,879.46 L90.00,879.52 L90.03,881.79 L90.72,880.24 L90.87,881.33 L91.38,881.67 L91.76,883.19 L91.80,882.99 L91.90,880.53 L91.80,884.19 L92.09,881.11 L92.39,879.11 L91.98,878.72 L92.20,876.98 L92.05,877.11 L92.48,877.09 L92.47,876.91 L92.86,879.90 L92.53,875.18 L92.85,873.47 L92.76,872.08 L92.90,874.21 L92.79,874.61 L93.05,876.15 L92.96,871.38 L93.06,872.77 L93.09,871.79 L93.15,872.00 L93.08,872.58 L93.44,871.43 L93.53,870.38 L93.54,867.25 L93.61,869.83 L93.71,867.17 L93.73,867.29 L93.65,867.78 L93.99,868.58 L93.93,865.80 L93.84,866.47 L94.07,865.73 L94.26,864.92 L94.62,864.55 L94.53,863.92 L94.84,863.82 L94.96,866.95 L95.08,862.56 L95.47,861.84 L95.04,864.21 L95.50,859.95 L95.74,859.76 L95.58,858.82 L95.95,860.71 L96.00,860.97 L96.16,859.00 L96.03,859.66 L96.57,857.86 L96.61,856.07 L96.81,855.75 L96.80,855.55 L97.01,856.70 L97.08,851.95 L97.06,857.14 L97.16,854.22 L97.33,853.71 L97.74,851.37 L97.31,853.08 L97.54,851.27 L97.86,851.23 L98.01,850.67 L98.01,848.94 L97.98,850.30 L98.08,848.82 L98.60,849.89 L98.44,847.55 L98.75,846.61 L98.77,848.40 L98.73,846.16 L99.02,846.65 L99.09,846.97 L99.08,845.33 L99.11,845.98 L99.33,843.18 L99.50,841.35 L99.42,843.23 L99.39,843.81 L99.64,844.37 L99.77,840.83 L99.82,841.29 L99.90,841.50 L100.15,841.40 L100.32,839.88 L100.10,839.66 L100.25,840.20 L100.22,841.76 L100.43,837.40 L100.69,836.22 L100.61,837.47 L100.68,836.55 L100.87,837.50 L101.04,834.39 L101.12,835.69 L101.08,833.86 L101.31,834.19 L101.29,833.88 L101.29,834.56 L101.77,832.21 L101.55,830.96 L101.51,831.73 L101.69,831.31 L101.89,830.41 L102.25,829.53 L102.00,828.45 L102.37,830.36 L102.22,827.11 L102.52,827.97 L102.06,828.56 L102.33,824.98 L102.36,826.81 L102.14,827.77 L102.36,822.54 L102.47,823.39 L102.57,823.98 L102.25,823.09 L102.75,823.07 L102.51,824.59 L102.43,822.60 L102.56,822.74 L102.75,824.39 L102.62,820.06 L102.83,820.37 L102.60,820.69 L102.87,820.98 L102.51,818.56 L103.07,819.05 L102.91,818.71 L103.21,815.14 L103.22,815.62 L103.14,818.99 L103.29,816.44 L103.20,816.49 L103.34,816.49 L103.31,816.76 L103.54,815.44 L103.30,813.63 L103.43,812.75 L103.28,815.29 L103.50,811.53 L103.42,811.61 L103.46,810.93 L103.39,809.79 L103.59,811.25 L103.67,808.92 L103.67,809.84 L103.61,809.73 L103.88,808.87 L104.08,808.99 L103.91,807.89 L103.77,805.52 L103.65,806.40 L103.85,806.36 L104.09,803.32 L103.99,803.71 L103.95,803.88 L104.20,802.43 L104.01,801.15 L104.22,804.65 L104.05,803.18 L104.18,797.07 L104.59,802.03 L104.30,801.32 L104.48,798.85 L104.49,799.11 L104.50,800.21 L104.42,798.51 L104.60,797.26 L104.75,801.03 L104.69,797.21 L104.91,796.42 L104.93,795.93 L105.32,795.70 L105.36,793.90 L105.29,794.89 L105.12,791.45 L105.26,791.24 L105.46,791.43 L105.65,794.31 L105.96,790.84 L105.80,789.84 L105.96,789.71 L105.96,792.82 L106.25,791.73 L106.21,789.55 L106.31,788.14 L106.17,791.01 L106.53,787.92 L106.61,787.42 L106.62,787.91 L107.00,790.28 L107.48,789.09 L107.32,788.57 L107.63,789.55 L108.04,790.12 L107.85,789.84 L108.27,793.41 L108.22,791.51 L108.27,791.14 L108.48,789.77 L108.89,792.77 L109.12,793.82 L109.16,793.44 L109.09,793.56 L109.37,795.02 L109.56,794.84 L109.41,797.81 L109.57,799.14 L109.64,796.88 L109.72,796.88 L110.03,799.80 L110.32,799.66 L110.21,800.41 L110.34,798.85 L110.33,802.06 L110.54,799.91 L110.57,803.23 L110.68,801.31 L110.79,802.10 L110.85,803.74 L110.92,802.88 L110.84,802.43 L111.15,803.55 L111.30,806.65 L111.49,808.34 L111.44,805.03 L111.61,805.70 L111.70,806.34 L111.58,806.74 L112.12,808.17 L112.18,808.79 L111.93,809.53 L112.43,809.42 L112.21,811.20 L112.83,810.56 L112.63,809.24 L112.97,809.78 L112.72,810.81 L112.89,813.64 L113.14,815.00 L113.35,812.12 L113.32,815.95 L113.47,814.05 L113.92,816.22 L114.00,813.06 L113.96,814.58 L114.14,816.03 L114.50,817.75 L114.51,818.79 L114.46,817.47 L114.65,816.94 L114.53,816.73 L114.71,815.23 L114.79,814.98 L114.92,814.95 L115.10,815.20 L115.35,814.53 L114.97,812.02 L114.87,812.77 L115.56,812.10 L115.50,812.13 L115.51,811.62 L115.78,810.26 L115.81,808.66 L115.56,809.72 L116.24,809.21 L115.92,808.78 L115.99,807.88 L116.20,807.36 L116.24,808.37 L116.22,806.10 L116.65,807.21 L116.41,806.94 L116.47,806.76 L116.79,803.70 L117.12,804.42 L116.72,805.27 L117.07,805.41 L116.91,802.82 L117.02,802.47 L117.41,802.97 L117.30,801.09 L117.30,801.12 L117.17,799.25 L117.78,801.43 L117.61,798.55 L117.75,798.78 L118.08,803.11 L118.32,796.91 L117.99,795.81 L118.19,798.06 L118.21,799.24 L118.60,794.85 L118.45,793.94 L118.56,797.10 L118.61,795.21 L118.64,793.76 L119.04,795.17 L118.94,794.45 L119.07,792.56 L119.24,793.12 L119.33,790.16 L119.49,791.54 L119.41,789.91 L119.64,789.53 L120.00,792.27 L119.96,792.08 L120.31,794.30 L120.43,791.71 L120.60,792.35 L120.81,796.84 L120.87,793.76 L120.96,795.08 L121.20,793.33 L121.52,794.38 L121.73,795.74 L121.78,798.13 L121.52,796.85 L121.97,796.53 L122.71,799.17 L123.40,798.96 L123.68,798.09 L124.01,798.71 L124.79,799.28 L125.19,797.34 L125.34,799.19 L125.82,800.53 L126.11,800.06 L126.23,796.83 L126.68,797.39 L126.89,796.71 L126.84,798.08 L127.22,795.23 L127.71,793.93 L127.59,794.08 L127.86,792.83 L128.45,793.32 L128.37,792.63 L128.87,793.33 L129.50,792.12 L129.76,792.25 L130.45,792.48 L130.85,789.15 L130.99,789.75 L131.62,790.90 L131.90,789.97 L132.28,789.02 L132.02,789.76 L132.09,785.49 L132.48,787.11 L132.54,787.40 L132.81,787.10 L132.64,785.09 L132.86,785.13 L133.08,787.66 L133.31,786.26 L133.12,783.19 L133.63,783.23 L133.84,785.64 L133.63,782.47 L134.04,782.39 L134.17,781.47 L134.40,782.12 L134.32,778.06 L134.64,781.52 L134.68,777.74 L134.73,783.31 L134.89,781.48 L134.73,781.26 L135.14,778.90 L135.18,781.41 L135.41,782.37 L135.39,783.90 L135.87,783.30 L135.41,787.41 L135.89,784.02 L135.73,787.55 L135.90,787.56 L136.14,787.26 L136.03,786.54 L136.27,787.54 L136.59,789.35 L136.48,787.83 L136.65,791.41 L136.70,788.27 L136.72,790.66 L136.96,793.00 L137.01,792.46 L137.17,791.07 L137.20,791.28 L137.35,794.14 L137.42,794.50 L137.36,791.91 L137.76,793.90 L137.91,795.35 L138.23,795.27 L137.88,796.16 L138.47,795.86 L138.26,799.36 L138.20,794.20 L137.99,798.12 L138.14,798.67 L138.03,799.73 L138.48,798.69 L138.53,799.18 L138.29,800.61 L138.77,801.46 L138.60,801.49 L138.84,802.45 L138.67,802.95 L138.75,802.31 L139.03,801.62 L138.65,803.34 L139.26,800.16 L139.35,803.41 L138.97,804.00 L139.23,806.36 L139.25,807.68 L139.20,807.13 L139.17,807.64 L139.38,807.53 L139.63,807.68 L139.52,811.63 L139.83,809.91 L139.78,809.68 L139.95,811.66 L139.66,811.52 L139.91,812.24 L139.87,812.28 L140.09,809.98 L140.04,813.36 L140.34,811.52 L140.29,811.31 L140.47,812.97 L140.27,816.15 L140.41,814.16 L140.40,815.65 L140.37,816.43 L140.74,818.06 L140.66,816.78 L140.68,818.27 L140.97,818.53 L140.95,820.45 L141.08,820.23 L141.05,818.77 L141.13,820.24 L141.31,821.60 L141.31,816.12 L141.39,823.03 L141.46,821.38 L141.66,819.60 L141.78,821.80 L141.87,825.09 L141.96,824.51 L141.72,824.37 L142.02,825.33 L142.26,826.11 L142.22,825.06 L142.52,825.37 L142.27,827.32 L142.50,827.53 L142.84,828.43 L142.79,827.90 L142.82,828.66 L142.88,828.40 L143.09,833.72 L143.26,830.44 L143.16,830.78 L143.13,832.15 L143.41,832.64 L143.53,832.57 L143.39,831.05 L143.87,829.97 L143.73,832.25 L143.94,830.99 L143.86,828.67 L144.22,827.43 L143.99,827.81 L143.97,826.83 L144.17,826.77 L144.44,824.75 L144.72,825.93 L144.68,827.03 L144.70,824.68 L144.56,823.20 L144.96,823.24 L144.96,821.87 L145.14,824.69 L144.87,820.40 L145.04,821.90 L145.33,821.89 L145.06,819.75 L145.26,820.00 L145.56,823.30 L145.54,818.73 L145.71,815.01 L145.66,818.02 L145.49,815.16 L145.82,818.93 L146.15,817.08 L146.13,816.62 L146.13,816.26 L146.33,814.29 L146.27,816.05 L146.56,814.30 L146.36,812.31 L146.83,812.05 L146.78,812.21 L146.92,813.24 L146.84,812.71 L147.09,811.88 L147.27,809.94 L147.57,810.03 L147.27,811.60 L147.81,812.27 L147.82,808.70 L147.72,809.82 L148.10,808.32 L148.28,805.91 L148.31,807.17 L148.26,807.81 L148.73,807.65 L148.74,805.76 L148.96,804.23 L149.07,803.17 L149.08,804.23 L149.15,803.27 L149.38,803.64 L149.40,802.38 L149.58,801.15 L149.72,803.54 L150.30,798.82 L150.28,801.82 L150.34,800.51 L150.66,800.72 L150.91,799.13 L150.70,797.33 L151.17,795.97 L151.24,798.54 L151.72,796.10 L151.79,797.09 L151.75,797.87 L152.27,794.45 L152.35,793.99 L152.20,794.24 L152.64,796.28 L153.42,794.19 L153.73,793.29 L154.07,793.33 L154.65,792.76 L154.93,793.71 L155.63,794.26 L155.91,792.04 L155.90,791.69 L155.84,790.48 L156.20,792.93 L156.36,791.85 L156.69,789.28 L156.88,789.41 L156.98,788.14 L157.13,787.38 L157.16,786.86 L157.47,790.17 L157.83,787.80 L158.06,786.04 L158.41,786.97 L158.35,786.89 L158.54,784.10 L158.73,783.00 L158.88,784.94 L159.08,784.60 L159.28,783.27 L159.36,789.82 L159.45,788.10 L159.45,787.83 L159.72,789.28 L159.80,785.00 L160.30,788.23 L160.25,787.92 L160.70,789.00 L160.52,790.25 L160.72,788.00 L160.75,792.32 L161.07,792.17 L161.24,792.29 L161.31,789.88 L161.32,793.49 L161.44,794.28 L161.69,795.07 L161.78,794.87 L161.86,793.18 L161.84,796.73 L162.03,794.83 L161.99,797.12 L162.22,799.37 L162.37,793.97 L162.15,797.48 L162.47,797.98 L162.68,801.58 L162.43,799.65 L162.44,800.87 L162.35,800.72 L162.70,800.65 L162.91,803.27 L162.89,802.01 L162.87,800.91 L163.07,804.03 L163.09,802.99 L163.07,804.63 L163.19,805.07 L163.60,803.09 L163.47,804.17 L163.48,803.09 L163.42,806.85 L163.58,806.50 L163.68,807.27 L163.85,808.20 L163.80,810.07 L163.77,808.02 L163.95,809.44 L164.07,811.34 L164.01,810.93 L163.94,811.13 L164.32,808.93 L164.40,811.99 L164.29,813.25 L164.34,812.56 L164.35,812.47 L164.72,812.94 L164.61,811.16 L164.97,810.95 L165.11,810.68 L165.30,809.03 L165.38,813.50 L165.46,810.07 L165.54,809.58 L165.47,808.61 L165.83,807.68 L165.63,810.16 L165.86,808.83 L166.13,804.27 L165.89,806.41 L166.05,805.33 L166.44,802.93 L166.52,805.35 L166.62,802.79 L166.50,803.46 L166.91,803.34 L166.88,801.90 L167.08,801.71 L167.01,802.74 L167.13,802.00 L167.43,800.93 L167.43,799.45 L167.44,798.88 L167.53,799.80 L167.69,796.97 L167.98,798.04 L168.07,798.38 L168.35,797.20 L168.34,798.30 L168.66,796.49 L168.58,797.68 L168.79,795.01 L168.91,794.66 L168.98,794.18 L169.13,793.43 L169.24,793.42 L169.32,793.32 L169.29,792.39 L169.53,790.96 L169.70,790.40 L170.15,791.50 L169.81,789.16 L170.08,792.74 L170.25,787.53 L169.97,787.70 L170.21,786.67 L170.52,785.30 L170.45,787.18 L170.42,787.24 L170.49,785.17 L171.02,787.42 L170.54,784.73 L170.74,783.77 L170.98,783.39 L170.89,783.31 L171.11,782.45 L171.24,783.58 L171.17,781.29 L171.56,781.92 L171.41,780.86 L171.35,783.08 L171.57,780.72 L171.76,778.78 L171.56,777.80 L171.70,777.73 L171.86,779.11 L171.91,779.11 L171.86,775.85 L171.94,774.75 L172.08,778.71 L172.17,776.42 L172.25,774.31 L172.29,773.69 L172.23,775.02 L172.57,774.55 L172.64,774.67 L172.73,775.86 L172.93,777.29 L172.85,776.46 L173.04,777.37 L173.46,778.46 L173.21,779.35 L173.70,777.98 L173.69,778.61 L173.91,779.44 L173.99,778.29 L173.84,778.37 L174.07,779.46 L174.22,781.91 L174.47,783.78 L174.37,781.63 L174.59,783.04 L174.52,784.25 L174.79,784.28 L174.96,782.35 L174.87,783.11 L174.89,785.33 L175.13,786.94 L175.00,786.24 L175.08,785.69 L175.52,788.61 L175.46,785.71 L175.08,789.58 L175.47,789.98 L175.85,790.76 L175.61,788.68 L176.03,790.64 L175.84,790.59 L175.99,790.12 L176.38,791.63 L176.10,790.04 L176.18,795.57 L176.25,794.59 L176.57,793.51 L176.90,793.22 L176.56,794.85 L176.50,795.48 L176.89,795.84 L176.79,793.46 L177.02,797.98 L177.10,796.37 L177.26,795.35 L177.17,800.00 L176.85,802.40 L176.99,799.49 L177.48,801.47 L177.58,803.39 L177.88,798.94 L177.99,798.48 L177.91,801.67 L178.34,800.70 L178.52,797.31 L178.85,798.68 L179.06,797.52 L179.32,797.88 L179.89,795.62 L179.96,796.21 L180.16,796.68 L180.27,795.04 L180.59,795.21 L180.59,795.35 L180.87,792.53 L181.02,799.91 L181.04,799.33 L181.23,796.32 L181.69,798.91 L181.36,796.03 L181.58,796.88 L181.84,797.06 L181.76,800.93 L181.84,799.35 L182.08,799.24 L181.86,799.43 L182.12,801.55 L182.27,803.11 L182.32,801.16 L182.45,803.19 L182.30,802.79 L182.86,804.41 L182.65,804.96 L182.81,804.07 L182.97,805.53 L183.08,805.26 L183.36,807.30 L183.39,806.78 L183.42,807.74 L183.67,806.97 L183.65,809.01 L183.97,808.32 L183.88,807.21 L184.22,810.09 L183.95,810.64 L184.05,811.31 L184.16,810.52 L184.49,810.63 L184.55,812.85 L184.66,813.07 L184.87,813.34 L184.93,812.47 L184.86,812.78 L184.97,811.99 L185.41,812.32 L185.20,810.40 L185.57,811.51 L185.53,809.00 L185.63,809.61 L185.35,807.21 L185.93,809.13 L185.85,809.71 L185.76,808.52 L186.01,804.90 L186.12,807.19 L185.75,806.34 L186.26,806.99 L186.22,803.67 L186.22,806.43 L186.29,802.08 L186.46,804.08 L186.43,803.60 L186.88,805.30 L186.76,803.16 L187.23,802.59 L187.09,803.67 L186.99,801.19 L187.06,798.76 L187.05,800.43 L187.06,798.52 L187.27,797.84 L187.54,798.74 L187.48,797.02 L187.38,796.45 L187.45,794.28 L187.93,797.42 L187.89,794.59 L188.18,795.93 L187.93,794.06 L188.17,792.71 L188.15,796.62 L188.32,794.12 L188.64,793.64 L188.58,793.96 L188.25,791.50 L188.41,790.96 L188.66,789.95 L189.03,790.08 L188.86,790.91 L188.98,789.89 L188.98,787.00 L189.08,790.74 L189.39,786.01 L189.41,785.46 L189.01,786.04 L189.50,787.65 L189.30,787.09 L189.58,785.36 L190.00,787.77 L190.12,783.97 L189.90,784.68 L190.16,783.69 L190.56,784.18 L190.27,782.26 L190.40,783.44 L190.76,781.00 L190.55,781.02 L190.50,779.96 L190.60,782.06 L190.99,777.87 L191.37,780.27 L191.36,778.24 L191.38,776.49 L191.44,777.02 L191.41,776.85 L191.46,776.54 L191.65,776.54 L191.82,775.10 L191.88,773.55 L191.76,773.54 L192.02,772.69 L192.19,772.55 L192.26,771.39 L192.18,772.54 L192.49,771.56 L192.61,772.16 L192.60,770.98 L192.98,769.97 L192.58,768.04 L192.72,768.77 L192.96,769.59 L193.07,769.80 L193.05,769.14 L193.26,768.00 L193.39,769.49 L193.56,768.01 L193.42,769.32 L193.72,769.91 L193.51,771.33 L193.80,769.84 L193.96,771.52 L194.07,772.11 L193.99,775.37 L194.32,772.94 L194.11,774.06 L194.46,772.30 L194.48,773.37 L194.68,774.89 L194.97,775.09 L194.73,776.58 L194.90,776.28 L194.83,776.18 L194.94,778.29 L195.17,775.54 L195.38,774.92 L195.44,779.12 L195.55,779.63 L195.70,778.45 L195.54,781.86 L195.71,781.52 L195.82,781.29 L196.07,782.21 L195.83,781.65 L196.10,783.69 L196.40,785.68 L196.19,782.01 L196.32,784.24 L196.47,783.56 L196.54,783.97 L196.74,789.50 L196.97,786.00 L196.68,786.46 L197.10,789.48 L197.20,786.12 L197.15,790.15 L197.53,789.14 L197.46,790.18 L197.59,789.50 L198.08,788.94 L197.80,789.96 L198.02,791.32 L197.88,795.08 L197.98,793.94 L198.42,792.94 L198.26,793.51 L198.46,793.06 L198.46,794.06 L198.71,792.79 L198.60,794.41 L198.95,794.21 L198.71,798.08 L199.10,796.98 L199.57,797.72 L199.44,797.89 L199.27,797.79 L199.63,798.51 L199.47,799.02 L199.62,799.27 L199.65,798.28 L199.95,799.35 L200.10,802.77 L200.12,797.76 L200.47,802.11 L200.61,804.80 L200.50,803.79 L200.54,803.72 L200.69,801.50 L200.78,800.49 L200.85,801.22 L200.79,800.31 L200.99,799.50 L200.75,799.64 L200.91,799.21 L200.95,799.89 L201.13,797.15 L201.09,795.57 L201.51,796.52 L201.33,796.71 L201.45,797.68 L201.38,795.62 L201.40,793.48 L201.42,795.01 L201.53,792.51 L201.41,793.53 L202.14,792.82 L201.77,792.43 L202.16,793.28 L201.97,792.06 L202.10,790.87 L202.09,790.27 L201.93,790.48 L202.21,789.44 L202.48,788.49 L202.40,788.61 L202.46,786.64 L202.37,788.70 L202.46,786.91 L202.51,786.54 L202.75,786.79 L202.66,786.38 L202.77,782.62 L203.00,784.77 L202.71,787.12 L202.94,782.90 L202.95,782.77 L203.10,783.68 L203.17,780.79 L203.19,781.84 L203.38,781.66 L203.53,776.56 L203.51,780.68 L203.51,780.91 L203.74,778.22 L203.58,778.45 L203.73,777.72 L203.85,777.37 L204.12,779.26 L204.05,780.51 L203.79,779.27 L204.26,780.88 L204.15,781.72 L204.62,781.07 L204.46,781.59 L204.40,782.22 L204.61,784.02 L204.60,785.04 L204.91,784.18 L204.93,785.27 L204.98,783.69 L205.26,780.87 L205.20,786.06 L205.24,787.72 L205.30,789.10 L205.68,787.89 L205.40,788.03 L205.53,790.20 L205.79,789.84 L205.92,789.26 L206.01,790.33 L206.06,790.04 L206.10,791.71 L206.28,791.51 L206.37,791.36 L206.23,789.96 L206.48,794.95 L206.73,794.37 L206.74,796.34 L206.70,794.97 L207.07,793.37 L207.13,793.59 L207.23,793.12 L207.62,793.07 L207.87,791.34 L208.02,792.25 L208.14,792.58 L208.26,790.11 L208.41,790.06 L208.68,789.84 L208.87,788.33 L208.95,792.90 L209.32,788.63 L209.42,787.30 L209.50,784.93 L209.36,786.08 L209.91,785.70 L209.70,787.55 L210.12,784.60 L209.79,788.97 L210.29,789.01 L209.85,789.52 L210.00,785.41 L210.10,789.59 L210.21,791.14 L210.26,792.06 L210.21,792.29 L210.14,791.03 L210.01,792.00 L210.27,792.03 L210.37,793.38 L210.55,793.95 L210.50,796.41 L210.28,792.35 L210.60,795.82 L210.77,796.56 L210.72,795.87 L210.88,795.88 L210.73,797.00 L210.83,796.27 L210.59,798.79 L210.99,803.61 L210.59,797.00 L210.67,796.33 L211.12,799.56 L210.85,800.37 L210.79,801.00 L210.82,801.64 L211.09,802.69 L211.02,804.28 L210.98,806.38 L211.09,804.47 L211.16,807.14 L211.29,804.08 L211.08,804.42 L211.35,807.93 L211.20,808.11 L211.38,807.62 L211.45,808.81 L211.34,808.13 L211.50,809.83 L211.51,809.59 L211.48,811.50 L211.36,809.82 L211.82,809.67 L211.53,810.12 L211.51,810.76 L211.40,811.73 L211.72,812.53 L211.83,814.11 L211.62,812.07 L211.61,812.43 L211.80,815.70 L211.76,816.94 L211.97,818.49 L211.88,815.64 L211.91,815.96 L211.90,818.08 L212.15,817.86 L212.28,818.81 L212.04,816.35 L212.26,815.28 L212.14,814.87 L212.30,814.81 L212.37,813.09 L212.51,814.13 L212.48,813.16 L212.36,813.45 L212.62,813.54 L212.60,811.99 L212.65,812.64 L212.72,811.09 L212.84,810.84 L212.63,810.78 L212.94,809.81 L212.98,809.31 L213.11,806.89 L213.00,807.83 L213.27,807.68 L213.03,807.58 L213.03,804.95 L213.34,807.12 L213.46,802.69 L213.49,803.59 L213.52,803.48 L213.32,805.42 L213.51,801.73 L213.72,802.32 L213.89,804.44 L214.02,801.60 L213.72,804.42 L213.93,799.78 L213.94,799.00 L213.84,799.23 L214.13,799.93 L213.94,798.81 L213.98,800.66 L214.09,800.02 L214.23,801.47 L214.08,799.27 L214.04,800.79 L214.08,801.81 L214.39,801.55 L214.37,802.82 L214.62,802.86 L214.63,804.70 L214.71,805.08 L214.64,804.38 L214.82,805.89 L214.66,808.12 L214.57,802.85 L214.77,807.23 L215.30,805.82 L215.15,803.59 L215.29,807.86 L215.15,809.29 L215.09,810.00 L215.29,810.55 L215.47,811.78 L215.48,811.53 L215.45,810.31 L215.35,807.69 L215.69,812.72 L215.99,811.62 L215.72,814.67 L215.90,814.34 L215.79,814.61 L215.94,815.16 L215.99,816.03 L216.04,815.39 L216.13,818.14 L216.12,816.72 L216.44,816.20 L216.34,817.34 L216.48,817.58 L216.68,815.30 L216.80,815.92 L216.98,815.28 L216.87,814.92 L217.31,815.67 L217.22,810.72 L217.85,811.73 L217.72,812.71 L218.08,811.69 L218.11,811.74 L218.06,809.90 L218.36,809.19 L218.46,808.58 L218.59,810.90 L218.65,809.02 L218.93,809.36 L218.75,807.26 L219.31,806.37 L219.46,811.32 L219.37,809.49 L219.47,809.37 L219.76,808.01 L220.06,804.57 L220.16,804.30 L220.21,802.54 L220.36,804.51 L220.17,802.08 L220.57,803.51 L220.92,803.10 L221.02,802.48 L221.23,804.62 L221.40,800.36 L221.54,799.55 L221.26,800.99 L221.82,799.69 L221.94,799.77 L221.93,797.57 L221.95,795.16 L222.39,798.60 L222.27,797.27 L222.72,797.19 L222.52,795.75 L222.92,796.19 L223.16,796.48 L223.38,795.35 L223.43,792.66 L223.37,791.68 L223.78,791.35 L223.76,793.73 L224.06,790.61 L223.94,791.48 L223.93,793.69 L223.98,789.11 L224.08,790.59 L224.47,788.37 L224.25,790.25 L224.40,787.19 L224.86,788.16 L224.63,787.35 L225.02,788.84 L224.92,787.53 L225.13,786.23 L224.99,785.32 L225.10,784.74 L225.23,783.58 L225.21,783.45 L225.39,784.03 L225.73,783.08 L225.84,780.87 L225.65,781.91 L225.81,783.06 L226.19,780.05 L226.17,779.95 L226.32,778.77 L226.33,778.12 L226.26,780.43 L226.69,779.82 L226.45,777.82 L226.81,779.30 L226.79,779.13 L227.23,776.85 L227.03,776.35 L227.22,775.71 L227.07,775.08 L227.71,773.28 L227.62,774.71 L227.59,774.53 L227.69,773.94 L227.77,773.68 L228.13,775.18 L227.98,775.34 L228.12,777.28 L228.31,778.66 L228.13,776.99 L228.23,775.79 L228.21,777.95 L228.66,776.23 L228.90,780.71 L229.09,778.06 L228.88,778.29 L229.17,779.51 L229.44,781.68 L229.37,781.53 L229.57,780.72 L229.43,782.61 L229.54,782.67 L229.85,782.78 L229.87,784.42 L229.94,785.13 L229.93,785.51 L230.15,787.36 L230.45,785.54 L230.75,787.45 L230.52,786.60 L230.46,788.65 L230.86,790.80 L230.74,787.07 L230.63,784.64 L231.04,788.75 L230.85,784.76 L231.08,786.30 L230.94,783.79 L231.29,785.07 L231.22,784.75 L231.47,784.50 L231.08,781.87 L231.46,782.66 L231.50,781.87 L231.47,781.80 L231.64,783.99 L231.75,778.05 L231.72,777.07 L231.42,778.16 L231.61,779.48 L232.00,778.38 L232.13,779.53 L232.22,777.33 L232.33,779.11 L232.25,777.37 L232.43,776.25 L232.40,778.09 L232.54,772.46 L232.38,774.48 L232.53,775.03 L232.59,771.69 L232.51,770.32 L232.57,773.18 L232.67,772.72 L232.97,770.70 L232.78,772.46 L232.80,772.38 L233.07,773.29 L233.11,772.30 L233.28,774.16 L233.03,774.00 L233.14,775.31 L233.31,776.87 L233.28,776.51 L233.55,777.68 L233.55,775.56 L233.30,777.59 L233.48,780.12 L233.91,780.73 L233.42,779.09 L233.72,779.38 L233.77,777.31 L233.79,781.52 L233.55,781.75 L233.60,781.67 L233.91,784.17 L233.90,781.04 L233.85,781.14 L234.20,784.83 L234.09,784.98 L233.97,785.99 L234.03,786.19 L234.44,785.34 L234.32,784.78 L234.45,787.84 L234.26,785.36 L234.34,788.26 L234.43,788.82 L234.48,787.94 L234.66,788.71 L234.80,789.91 L234.89,791.21 L234.59,795.42 L234.98,792.78 L234.87,792.37 L234.93,792.29 L234.82,792.34 L234.89,793.11 L235.05,795.31 L235.26,793.77 L235.15,794.73 L235.28,797.90 L235.18,797.07 L235.20,796.76 L235.40,796.98 L235.42,797.95 L235.72,797.67 L235.29,799.00 L235.79,800.37 L235.95,800.61 L235.57,799.24 L235.83,798.98 L235.76,802.66 L236.04,803.18 L235.79,802.27 L235.83,802.95 L235.90,801.64 L236.15,802.36 L236.34,803.91 L236.44,802.36 L236.33,800.51 L236.22,799.53 L236.53,799.82 L236.60,797.15 L236.78,800.04 L236.96,801.82 L236.70,797.77 L236.54,797.02 L237.03,796.55 L236.95,795.17 L236.71,795.65 L237.36,795.81 L237.30,795.92 L237.29,793.97 L237.32,794.33 L237.37,798.16 L237.39,790.55 L237.31,794.18 L237.43,792.31 L237.39,790.10 L237.63,791.25 L237.73,791.63 L238.00,790.08 L237.52,789.71 L238.14,789.47 L238.05,789.53 L238.34,787.06 L237.79,788.27 L238.39,786.11 L238.16,785.43 L238.10,786.11 L238.62,783.44 L238.47,785.83 L238.41,784.38 L238.67,782.73 L238.83,786.65 L238.49,783.03 L238.75,784.78 L238.99,781.22 L238.91,780.34 L238.93,780.94 L238.94,782.59 L239.22,780.97 L239.08,780.57 L239.09,779.06 L239.48,777.56 L239.87,778.43 L240.03,777.44 L240.56,779.42 L240.61,777.66 L240.63,776.62 L240.86,774.85 L240.80,776.58 L241.42,774.30 L241.61,775.16 L241.61,773.39 L241.97,772.51 L242.29,772.03 L242.63,773.12 L242.89,772.30 L243.26,771.32 L243.31,771.46 L243.68,770.97 L243.68,771.14 L244.31,769.54 L244.38,766.86 L244.73,768.56 L245.28,768.56 L245.07,770.24 L245.27,768.50 L245.49,770.77 L245.44,772.28 L245.50,772.48 L245.53,772.67 L245.77,772.68 L245.94,774.14 L245.88,773.37 L246.29,772.50 L246.16,774.87 L246.34,773.52 L246.19,775.17 L246.61,774.70 L246.43,777.29 L246.87,780.30 L247.00,776.63 L246.97,777.09 L247.10,779.39 L247.10,778.32 L247.25,781.19 L247.42,781.23 L247.51,777.46 L247.38,781.44 L247.34,781.40 L247.54,782.25 L247.81,782.78 L247.62,783.24 L247.82,782.91 L247.80,783.62 L247.90,785.20 L247.94,786.02 L247.85,785.29 L247.73,786.60 L248.17,786.35 L247.82,789.69 L248.28,787.58 L248.19,787.49 L248.17,786.43 L248.12,788.75 L248.32,789.20 L248.34,791.20 L248.34,788.76 L248.43,791.47 L248.36,791.03 L248.48,790.86 L248.38,793.46 L248.46,793.81 L248.76,794.71 L248.50,794.39 L248.54,794.90 L248.65,793.45 L248.75,796.51 L248.71,794.40 L248.80,797.24 L248.80,797.13 L249.00,798.93 L248.91,796.43 L249.15,798.28 L248.90,798.28 L249.08,798.60 L249.11,802.20 L249.23,800.83 L249.15,802.47 L249.28,802.21 L249.49,802.32 L249.43,802.03 L249.28,801.99 L249.24,802.83 L249.60,803.12 L249.40,805.80 L249.43,803.76 L249.72,806.01 L249.63,800.97 L249.46,803.25 L249.81,801.52 L249.73,803.55 L249.92,802.25 L250.21,800.32 L250.08,803.44 L250.21,801.67 L250.45,798.68 L250.46,802.21 L250.64,799.86 L250.63,798.28 L250.73,796.91 L250.99,797.66 L251.02,796.93 L250.86,797.28 L250.83,796.85 L251.05,799.66 L251.24,795.61 L251.14,794.39 L251.36,796.76 L251.35,792.33 L251.47,792.92 L251.59,790.00 L251.81,790.59 L251.47,793.29 L251.72,790.93 L252.02,789.18 L252.28,791.33 L252.03,791.90 L252.01,788.02 L252.49,788.93 L252.68,788.93 L252.39,788.29 L252.45,786.99 L252.45,787.59 L252.94,784.45 L252.83,785.44 L252.82,785.64 L252.79,784.51 L252.99,784.09 L253.10,785.27 L253.06,782.50 L253.11,781.42 L253.53,780.74 L253.41,780.58 L253.56,780.58 L253.96,781.27 L253.74,779.57 L254.03,778.80 L254.24,776.89 L254.72,782.36 L254.72,778.15 L255.25,779.00 L255.42,776.66 L255.52,777.43 L255.97,777.54 L256.37,777.37 L256.73,776.67 L257.22,772.83 L257.58,775.88 L258.16,775.93 L258.38,775.05 L258.88,777.79 L259.41,774.19 L259.68,773.11 L259.82,773.09 L260.32,772.83 L260.91,774.95 L261.13,769.67 L261.35,772.51 L261.38,774.04 L261.30,775.16 L261.34,778.51 L261.47,774.95 L261.50,776.18 L261.64,778.37 L261.82,773.65 L261.52,777.85 L261.93,776.81 L261.82,780.91 L262.12,778.74 L262.26,779.14 L262.45,781.13 L262.51,781.30 L262.45,780.02 L262.61,781.55 L262.59,780.77 L262.85,781.92 L262.76,782.30 L263.28,783.85 L263.45,780.18 L263.41,783.20 L263.30,787.91 L263.48,788.12 L263.42,786.37 L263.65,787.05 L263.60,786.68 L263.65,788.31 L263.70,789.60 L264.02,791.31 L264.02,788.97 L264.13,789.04 L264.24,789.68 L264.27,791.23 L264.32,791.62 L264.35,789.37 L264.40,792.37 L264.69,793.77 L264.71,793.88 L264.94,795.20 L265.28,792.54 L264.99,793.93 L265.12,794.79 L265.34,792.30 L265.23,794.07 L265.57,793.54 L265.46,792.42 L265.63,790.09 L265.66,792.16 L265.52,790.56 L265.45,794.11 L266.06,790.21 L265.77,789.76 L265.86,787.31 L265.87,787.36 L265.70,787.75 L265.78,788.46 L266.03,787.45 L266.19,785.67 L265.97,785.59 L265.98,785.55 L266.36,783.44 L266.51,785.04 L266.28,784.42 L266.39,784.16 L266.36,781.93 L266.38,781.28 L266.26,782.50 L266.82,779.98 L266.70,781.56 L266.69,779.61 L266.83,779.94 L266.67,778.48 L266.92,776.14 L266.99,777.58 L266.80,776.45 L266.92,775.29 L267.23,776.53 L267.48,776.40 L267.14,776.47 L267.17,775.41 L267.62,778.33 L267.54,777.34 L267.53,778.38 L267.52,779.08 L267.52,780.73 L267.85,783.96 L267.89,779.34 L267.91,779.35 L268.13,785.81 L268.34,782.74 L268.22,782.57 L268.58,781.38 L268.45,782.25 L268.51,783.74 L268.66,783.97 L268.64,783.35 L268.43,784.63 L268.73,784.79 L269.06,785.64 L269.00,786.45 L269.05,788.40 L268.99,787.51 L269.02,787.95 L269.34,792.41 L269.39,784.71 L269.44,788.88 L269.48,790.64 L269.65,790.51 L269.75,791.01 L269.65,791.48 L269.90,789.19 L269.87,794.39 L269.91,792.76 L270.16,793.73 L270.16,794.27 L270.15,796.30 L270.71,795.88 L270.53,794.84 L270.56,794.27 L271.07,796.82 L271.12,797.15 L271.28,796.99 L271.38,797.63 L271.25,800.72 L271.58,798.28 L271.76,799.02 L271.87,800.46 L271.90,800.78 L272.03,801.13 L272.26,800.67 L272.36,802.23 L272.62,803.53 L272.56,803.28 L272.67,803.94 L273.17,805.75 L272.94,805.11 L273.09,805.08 L273.59,805.05 L273.64,808.55 L273.66,806.81 L274.12,804.42 L273.82,807.93 L274.22,807.48 L274.19,810.75 L274.45,805.96 L274.46,809.92 L274.85,808.71 L274.78,807.27 L275.33,808.03 L275.41,808.37 L275.62,807.53 L275.97,805.62 L276.30,805.93 L276.72,809.04 L276.82,805.10 L276.64,805.36 L277.14,804.40 L277.49,804.45 L277.67,803.04 L278.02,805.46 L277.61,801.20 L277.90,802.92 L277.93,804.90 L277.95,806.57 L277.93,807.84 L278.07,806.33 L278.19,806.72 L278.49,807.91 L278.46,808.75 L278.61,811.50 L278.43,808.83 L278.74,809.98 L278.73,808.75 L278.66,809.64 L279.00,805.62 L279.01,812.81 L278.99,811.47 L279.02,812.67 L279.17,813.64 L279.02,811.63 L279.39,813.43 L279.17,818.20 L279.30,815.16 L279.46,815.07 L279.84,817.64 L279.57,816.58 L279.74,815.12 L279.95,816.57 L280.18,813.78 L280.11,815.40 L280.03,813.58 L280.41,815.89 L280.40,812.85 L280.25,812.13 L280.67,810.28 L280.81,811.26 L281.01,814.89 L281.38,808.64 L281.02,811.10 L281.27,809.94 L281.14,809.76 L281.14,805.64 L281.44,809.31 L281.55,809.14 L281.50,806.73 L281.74,803.81 L281.79,803.78 L281.92,804.40 L281.80,804.40 L282.09,805.25 L282.16,804.95 L282.35,804.62 L282.10,802.96 L282.22,802.10 L282.86,799.61 L283.03,803.65 L282.77,800.59 L283.01,801.30 L283.33,800.75 L283.39,799.44 L283.75,799.53 L284.25,798.93 L284.72,797.74 L284.86,798.92 L285.10,794.27 L285.09,798.57 L285.85,796.78 L285.97,799.80 L286.23,796.86 L286.35,793.23 L286.73,795.33 L286.85,794.84 L287.19,791.09 L287.40,791.26 L287.30,794.87 L287.71,790.84 L287.83,790.75 L288.04,791.75 L288.10,790.82 L288.63,789.11 L288.91,791.31 L288.73,789.31 L289.30,789.31 L289.19,789.66 L289.28,788.83 L289.60,787.74 L290.08,786.39 L289.82,786.08 L289.91,785.13 L290.72,788.08 L290.81,784.21 L291.25,786.76 L291.32,789.07 L291.57,787.23 L292.01,789.18 L292.38,785.72 L292.58,789.66 L292.87,791.36 L293.34,790.20 L293.32,790.15 L293.15,793.03 L293.34,791.81 L293.71,794.21 L293.50,793.56 L293.24,793.35 L293.53,795.52 L293.43,794.51 L293.69,795.86 L293.76,798.25 L293.98,796.60 L293.74,797.13 L293.84,799.10 L294.00,797.41 L294.39,798.55 L294.39,801.62 L294.15,797.41 L294.20,799.97" fill="none" stroke="#00008b" stroke-width="1.70" stroke-linejoin="round"/>
<path d="M44.50,866.59 L45.50,866.52 L46.50,866.48 L47.50,866.47 L48.50,866.49 L49.50,866.61 L50.50,866.69 L51.50,866.56 L52.50,866.36 L53.50,866.34 L54.50,866.46 L55.54,866.41 L56.58,866.26 L57.62,866.11 L58.67,865.98 L59.71,865.89 L60.75,865.85 L61.79,865.90 L62.83,865.92 L63.88,865.83 L64.92,865.71 L65.96,865.63 L67.00,865.47 L68.04,865.33 L69.09,865.33 L70.13,865.38 L71.17,865.30 L72.22,865.17 L73.26,865.15 L74.31,865.19 L75.35,865.18 L76.39,865.16 L77.44,865.16 L78.48,865.09 L79.53,864.94 L80.57,864.79 L81.61,864.59 L82.66,864.32 L83.70,864.15 L84.74,864.18 L85.78,864.31 L86.83,864.34 L87.87,864.25 L88.91,864.10 L89.95,863.95 L90.99,863.86 L92.03,863.84 L93.08,863.80 L94.12,863.69 L95.16,863.54 L96.20,863.43 L97.24,863.35 L98.28,863.25 L99.33,863.09 L100.37,862.93 L101.41,862.80 L102.45,862.68 L103.49,862.55 L104.53,862.33 L105.58,862.06 L106.62,861.89 L107.66,861.85 L108.70,861.81 L109.74,861.73 L110.78,861.54 L111.81,861.34 L112.85,861.19 L113.89,861.13 L114.92,861.09 L115.96,861.07 L117.00,861.21 L118.04,861.41 L119.08,861.42 L120.11,861.31 L121.15,861.19 L122.19,861.07 L123.22,861.00 L124.26,861.06 L125.30,861.15 L126.34,861.06 L127.39,860.85 L128.43,860.65 L129.47,860.51 L130.52,860.52 L131.56,860.58 L132.61,860.48 L133.65,860.29 L134.69,860.20 L135.74,860.15 L136.78,860.04 L137.82,859.94 L138.87,859.96 L139.91,859.97 L140.96,859.87 L142.00,859.73 L143.04,859.68 L144.09,859.66 L145.13,859.51 L146.18,859.27 L147.22,859.16 L148.26,859.14 L149.31,859.07 L150.35,859.04 L151.39,859.14 L152.44,859.26 L153.48,859.19 L154.52,858.96 L155.57,858.77 L156.61,858.71 L157.66,858.69 L158.70,858.70 L159.80,858.88 L160.90,858.99 L162.00,859.01 L163.04,858.84 L164.08,858.76 L165.12,858.83 L166.16,858.86 L167.20,858.75 L168.24,858.60 L169.28,858.47 L170.32,858.38 L171.36,858.29 L172.40,858.14 L173.44,858.01 L174.48,858.03 L175.52,858.05 L176.56,857.94 L177.60,857.80 L178.64,857.81 L179.68,857.88 L180.72,857.86 L181.76,857.69 L182.80,857.45 L183.84,857.33 L184.89,857.31 L185.94,857.27 L186.98,857.21 L188.03,857.21 L189.07,857.32 L190.12,857.44 L191.16,857.42 L192.21,857.26 L193.25,857.08 L194.29,857.05 L195.34,857.14 L196.38,857.20 L197.43,857.16 L198.47,856.99 L199.52,856.82 L200.56,856.83 L201.61,856.90 L202.66,856.83 L203.70,856.72 L204.74,856.70 L205.78,856.67 L206.82,856.60 L207.86,856.66 L208.90,856.84 L209.94,856.93 L210.98,856.81 L212.02,856.64 L213.06,856.53 L214.10,856.45 L215.14,856.34 L216.18,856.29 L217.22,856.35 L218.26,856.35 L219.30,856.28 L220.34,856.26 L221.38,856.25 L222.42,856.16 L223.46,856.05 L224.50,856.06 L225.54,856.13 L226.58,856.13 L227.62,856.06 L228.66,855.96 L229.70,855.83 L230.74,855.73 L231.78,855.69 L232.82,855.69 L233.86,855.67 L234.90,855.68 L235.94,855.69 L236.98,855.67 L238.02,855.59 L239.06,855.51 L240.10,855.43 L241.14,855.39 L242.18,855.42 L243.22,855.39 L244.26,855.20 L245.30,855.07 L246.34,855.16 L247.39,855.25 L248.44,855.14 L249.48,854.96 L250.53,854.87 L251.57,854.86 L252.62,854.87 L253.66,854.84 L254.71,854.80 L255.75,854.79 L256.80,854.70 L257.84,854.51 L258.88,854.42 L259.93,854.45 L260.98,854.52 L262.02,854.62 L263.06,854.73 L264.11,854.79 L265.15,854.74 L266.20,854.62 L267.21,854.53 L268.21,854.50 L269.22,854.50 L270.23,854.45 L271.24,854.43 L272.24,854.50 L273.25,854.53 L274.26,854.39 L275.26,854.18 L276.27,854.08 L277.28,854.06 L278.29,854.05 L279.29,854.07 L280.30,854.10 L281.31,854.12 L282.31,854.20 L283.32,854.27 L284.33,854.21 L285.34,854.10 L286.34,854.06 L287.35,854.19 L288.36,854.37 L289.36,854.42 L290.37,854.32 L291.38,854.20 L292.39,854.07 L293.39,853.95 L294.40,853.87" fill="none" stroke="#8b0000" stroke-width="2.00" stroke-linejoin="round"/>
<path d="M48.70,930.10 L107.00,936.75 L169.90,940.10 L290.75,936.75" fill="none" stroke="#008000" stroke-width="2.00" stroke-dasharray="6.6 5.9"/>
<ellipse cx="48.70" cy="930.10" rx="2.60" ry="2.39" fill="#008000"/>
<ellipse cx="107.00" cy="936.75" rx="2.60" ry="2.39" fill="#008000"/>
<ellipse cx="169.90" cy="940.10" rx="2.60" ry="2.39" fill="#008000"/>
<ellipse cx="290.75" cy="936.75" rx="2.60" ry="2.39" fill="#008000"/>
</g>
<line x1="44.50" y1="755.40" x2="294.40" y2="755.40" stroke="#858585" stroke-width="1.10"/>
<line x1="44.50" y1="956.20" x2="294.40" y2="956.20" stroke="#858585" stroke-width="1.10"/>
<line x1="44.50" y1="755.40" x2="44.50" y2="956.20" stroke="#6a6ab2" stroke-width="1.10"/>
<line x1="294.40" y1="755.40" x2="294.40" y2="956.20" stroke="#b86868" stroke-width="1.10"/>
<text transform="translate(44.50,968.90) scale(0.930,1)" font-size="10.20" fill="#262626" text-anchor="middle" stroke="#262626" stroke-width="0.22">0</text>
<line x1="65.33" y1="956.20" x2="65.33" y2="953.50" stroke="#707070" stroke-width="0.9"/>
<line x1="65.33" y1="755.40" x2="65.33" y2="758.10" stroke="#707070" stroke-width="0.9"/>
<text transform="translate(65.33,968.90) scale(0.930,1)" font-size="10.20" fill="#262626" text-anchor="middle" stroke="#262626" stroke-width="0.22">5</text>
<line x1="86.15" y1="956.20" x2="86.15" y2="953.50" stroke="#707070" stroke-width="0.9"/>
<line x1="86.15" y1="755.40" x2="86.15" y2="758.10" stroke="#707070" stroke-width="0.9"/>
<text transform="translate(86.15,968.90) scale(0.930,1)" font-size="10.20" fill="#262626" text-anchor="middle" stroke="#262626" stroke-width="0.22">10</text>
<line x1="106.97" y1="956.20" x2="106.97" y2="953.50" stroke="#707070" stroke-width="0.9"/>
<line x1="106.97" y1="755.40" x2="106.97" y2="758.10" stroke="#707070" stroke-width="0.9"/>
<text transform="translate(106.97,968.90) scale(0.930,1)" font-size="10.20" fill="#262626" text-anchor="middle" stroke="#262626" stroke-width="0.22">15</text>
<line x1="127.80" y1="956.20" x2="127.80" y2="953.50" stroke="#707070" stroke-width="0.9"/>
<line x1="127.80" y1="755.40" x2="127.80" y2="758.10" stroke="#707070" stroke-width="0.9"/>
<text transform="translate(127.80,968.90) scale(0.930,1)" font-size="10.20" fill="#262626" text-anchor="middle" stroke="#262626" stroke-width="0.22">20</text>
<line x1="148.62" y1="956.20" x2="148.62" y2="953.50" stroke="#707070" stroke-width="0.9"/>
<line x1="148.62" y1="755.40" x2="148.62" y2="758.10" stroke="#707070" stroke-width="0.9"/>
<text transform="translate(148.62,968.90) scale(0.930,1)" font-size="10.20" fill="#262626" text-anchor="middle" stroke="#262626" stroke-width="0.22">25</text>
<line x1="169.45" y1="956.20" x2="169.45" y2="953.50" stroke="#707070" stroke-width="0.9"/>
<line x1="169.45" y1="755.40" x2="169.45" y2="758.10" stroke="#707070" stroke-width="0.9"/>
<text transform="translate(169.45,968.90) scale(0.930,1)" font-size="10.20" fill="#262626" text-anchor="middle" stroke="#262626" stroke-width="0.22">30</text>
<line x1="190.27" y1="956.20" x2="190.27" y2="953.50" stroke="#707070" stroke-width="0.9"/>
<line x1="190.27" y1="755.40" x2="190.27" y2="758.10" stroke="#707070" stroke-width="0.9"/>
<text transform="translate(190.27,968.90) scale(0.930,1)" font-size="10.20" fill="#262626" text-anchor="middle" stroke="#262626" stroke-width="0.22">35</text>
<line x1="211.10" y1="956.20" x2="211.10" y2="953.50" stroke="#707070" stroke-width="0.9"/>
<line x1="211.10" y1="755.40" x2="211.10" y2="758.10" stroke="#707070" stroke-width="0.9"/>
<text transform="translate(211.10,968.90) scale(0.930,1)" font-size="10.20" fill="#262626" text-anchor="middle" stroke="#262626" stroke-width="0.22">40</text>
<line x1="231.92" y1="956.20" x2="231.92" y2="953.50" stroke="#707070" stroke-width="0.9"/>
<line x1="231.92" y1="755.40" x2="231.92" y2="758.10" stroke="#707070" stroke-width="0.9"/>
<text transform="translate(231.92,968.90) scale(0.930,1)" font-size="10.20" fill="#262626" text-anchor="middle" stroke="#262626" stroke-width="0.22">45</text>
<line x1="252.75" y1="956.20" x2="252.75" y2="953.50" stroke="#707070" stroke-width="0.9"/>
<line x1="252.75" y1="755.40" x2="252.75" y2="758.10" stroke="#707070" stroke-width="0.9"/>
<text transform="translate(252.75,968.90) scale(0.930,1)" font-size="10.20" fill="#262626" text-anchor="middle" stroke="#262626" stroke-width="0.22">50</text>
<line x1="273.57" y1="956.20" x2="273.57" y2="953.50" stroke="#707070" stroke-width="0.9"/>
<line x1="273.57" y1="755.40" x2="273.57" y2="758.10" stroke="#707070" stroke-width="0.9"/>
<text transform="translate(273.57,968.90) scale(0.930,1)" font-size="10.20" fill="#262626" text-anchor="middle" stroke="#262626" stroke-width="0.22">55</text>
<text transform="translate(294.40,968.90) scale(0.930,1)" font-size="10.20" fill="#262626" text-anchor="middle" stroke="#262626" stroke-width="0.22">60</text>
<text transform="translate(41.20,960.10) scale(0.930,1)" font-size="10.20" fill="#1c1c8f" text-anchor="end" stroke="#1c1c8f" stroke-width="0.22">0.276</text>
<line x1="44.50" y1="927.51" x2="47.20" y2="927.51" stroke="#6a6ab2" stroke-width="0.8"/>
<text transform="translate(41.20,931.41) scale(0.930,1)" font-size="10.20" fill="#1c1c8f" text-anchor="end" stroke="#1c1c8f" stroke-width="0.22">0.278</text>
<line x1="44.50" y1="898.83" x2="47.20" y2="898.83" stroke="#6a6ab2" stroke-width="0.8"/>
<text transform="translate(41.20,902.73) scale(0.930,1)" font-size="10.20" fill="#1c1c8f" text-anchor="end" stroke="#1c1c8f" stroke-width="0.22">0.28</text>
<line x1="44.50" y1="870.14" x2="47.20" y2="870.14" stroke="#6a6ab2" stroke-width="0.8"/>
<text transform="translate(41.20,874.04) scale(0.930,1)" font-size="10.20" fill="#1c1c8f" text-anchor="end" stroke="#1c1c8f" stroke-width="0.22">0.282</text>
<line x1="44.50" y1="841.46" x2="47.20" y2="841.46" stroke="#6a6ab2" stroke-width="0.8"/>
<text transform="translate(41.20,845.36) scale(0.930,1)" font-size="10.20" fill="#1c1c8f" text-anchor="end" stroke="#1c1c8f" stroke-width="0.22">0.284</text>
<line x1="44.50" y1="812.77" x2="47.20" y2="812.77" stroke="#6a6ab2" stroke-width="0.8"/>
<text transform="translate(41.20,816.67) scale(0.930,1)" font-size="10.20" fill="#1c1c8f" text-anchor="end" stroke="#1c1c8f" stroke-width="0.22">0.286</text>
<line x1="44.50" y1="784.09" x2="47.20" y2="784.09" stroke="#6a6ab2" stroke-width="0.8"/>
<text transform="translate(41.20,787.99) scale(0.930,1)" font-size="10.20" fill="#1c1c8f" text-anchor="end" stroke="#1c1c8f" stroke-width="0.22">0.288</text>
<text transform="translate(41.20,759.30) scale(0.930,1)" font-size="10.20" fill="#1c1c8f" text-anchor="end" stroke="#1c1c8f" stroke-width="0.22">0.29</text>
<text transform="translate(298.20,960.10) scale(0.930,1)" font-size="10.20" fill="#8b1a1a" text-anchor="start" stroke="#8b1a1a" stroke-width="0.22">0</text>
<line x1="294.40" y1="922.73" x2="291.70" y2="922.73" stroke="#b86868" stroke-width="0.8"/>
<text transform="translate(298.20,926.63) scale(0.930,1)" font-size="10.20" fill="#8b1a1a" text-anchor="start" stroke="#8b1a1a" stroke-width="0.22">10</text>
<line x1="294.40" y1="889.27" x2="291.70" y2="889.27" stroke="#b86868" stroke-width="0.8"/>
<text transform="translate(298.20,893.17) scale(0.930,1)" font-size="10.20" fill="#8b1a1a" text-anchor="start" stroke="#8b1a1a" stroke-width="0.22">20</text>
<line x1="294.40" y1="855.80" x2="291.70" y2="855.80" stroke="#b86868" stroke-width="0.8"/>
<text transform="translate(298.20,859.70) scale(0.930,1)" font-size="10.20" fill="#8b1a1a" text-anchor="start" stroke="#8b1a1a" stroke-width="0.22">30</text>
<line x1="294.40" y1="822.33" x2="291.70" y2="822.33" stroke="#b86868" stroke-width="0.8"/>
<text transform="translate(298.20,826.23) scale(0.930,1)" font-size="10.20" fill="#8b1a1a" text-anchor="start" stroke="#8b1a1a" stroke-width="0.22">40</text>
<line x1="294.40" y1="788.87" x2="291.70" y2="788.87" stroke="#b86868" stroke-width="0.8"/>
<text transform="translate(298.20,792.77) scale(0.930,1)" font-size="10.20" fill="#8b1a1a" text-anchor="start" stroke="#8b1a1a" stroke-width="0.22">50</text>
<text transform="translate(298.20,759.30) scale(0.930,1)" font-size="10.20" fill="#8b1a1a" text-anchor="start" stroke="#8b1a1a" stroke-width="0.22">60</text>
<text x="169.45" y="981.40" font-size="10.35" fill="#262626" text-anchor="middle" font-weight="normal" stroke="#262626" stroke-width="0.22">Time (minutes)</text>
<text x="163.00" y="751.10" font-size="11.50" fill="#000" text-anchor="middle" font-weight="bold" stroke="#000" stroke-width="0.22">Pig 7</text>
<text transform="translate(7.60,855.80) rotate(-90)" font-size="10.90" fill="#1c1c8f" stroke="#1c1c8f" stroke-width="0.22" text-anchor="middle">RMS<tspan font-size="8.18" dy="4.36">oxy</tspan><tspan dy="-4.36" dx="0.8"> (</tspan><tspan font-style="italic">g</tspan>)</text>
<text transform="translate(320.40,855.80) rotate(-90)" font-size="10.90" fill="#8b1a1a" stroke="#8b1a1a" stroke-width="0.22" text-anchor="middle">&#916;<tspan font-style="italic">P</tspan><tspan font-size="8.18" dy="4.36">oxy</tspan><tspan dy="-4.36" dx="0.5"> (mmHg)</tspan></text>
<path d="M65.62,971.90 L63.73,975.50 L67.53,975.50 Z" fill="#000"/>
<line x1="65.62" y1="974.90" x2="65.62" y2="979.60" stroke="#000" stroke-width="1.4"/>
<text x="50.75" y="941.30" font-size="8.00" fill="#008000" text-anchor="middle" font-weight="normal" stroke="#008000" stroke-width="0.10">3.5</text>
<text x="107.00" y="946.50" font-size="8.00" fill="#008000" text-anchor="middle" font-weight="normal" stroke="#008000" stroke-width="0.10">3.4</text>
<text x="169.90" y="949.20" font-size="8.00" fill="#008000" text-anchor="middle" font-weight="normal" stroke="#008000" stroke-width="0.10">3.3</text>
<text x="288.00" y="950.10" font-size="8.00" fill="#008000" text-anchor="middle" font-weight="normal" stroke="#008000" stroke-width="0.10">3.4</text>
<rect x="47.20" y="759.25" width="66.70" height="28.15" fill="#fff" stroke="#6e6e6e" stroke-width="0.9"/>
<line x1="49.40" y1="764.80" x2="73.00" y2="764.80" stroke="#00008b" stroke-width="1.8"/>
<line x1="49.40" y1="773.52" x2="73.00" y2="773.52" stroke="#8b0000" stroke-width="1.8"/>
<line x1="49.40" y1="782.16" x2="73.00" y2="782.16" stroke="#008000" stroke-width="1.8" stroke-dasharray="6.6 5.9"/>
<ellipse cx="61.20" cy="782.16" rx="2.60" ry="2.39" fill="#008000"/>
<text x="74.80" y="767.30" font-size="7.00" fill="#111" text-anchor="start" font-weight="normal" stroke="#111" stroke-width="0.14">RMS</text>
<text x="74.80" y="776.02" font-size="7.00" fill="#111" text-anchor="start" font-weight="normal" stroke="#111" stroke-width="0.14">&#916;P</text>
<text x="74.80" y="784.66" font-size="7.00" fill="#111" text-anchor="start" font-weight="normal" stroke="#111" stroke-width="0.14">ECMO flow</text>
</svg>
</body></html>
